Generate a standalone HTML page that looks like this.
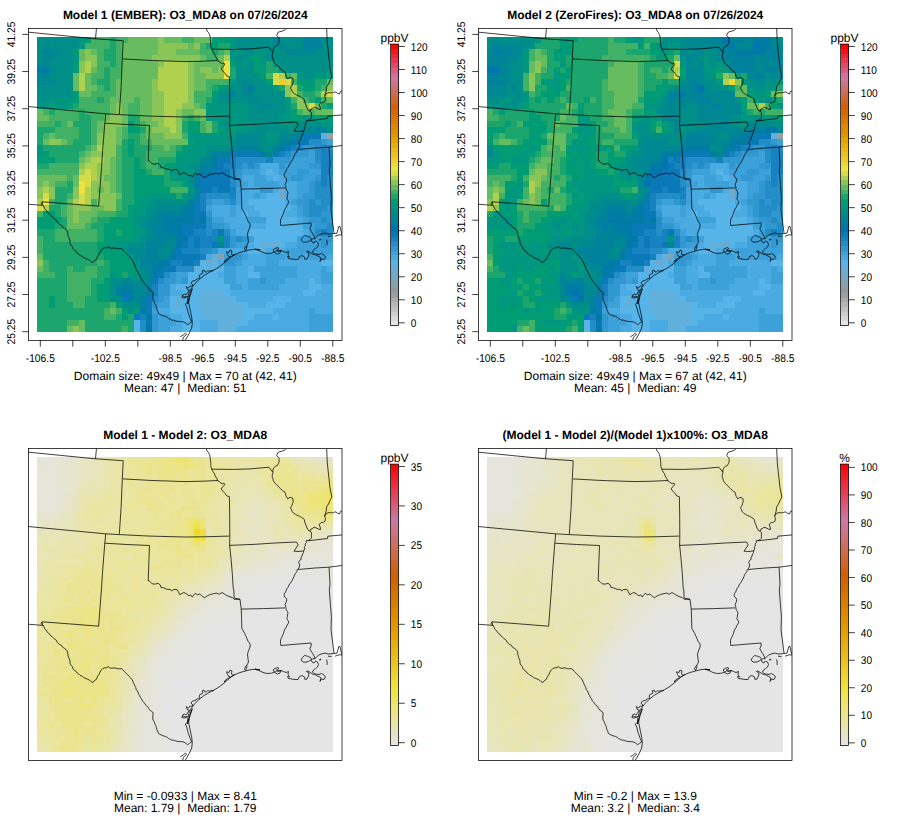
<!DOCTYPE html>
<html><head><meta charset="utf-8"><title>O3_MDA8 model comparison</title>
<style>html,body{margin:0;padding:0;background:#fff}svg{display:block}text{text-rendering:geometricPrecision;font-family:"Liberation Sans",sans-serif;fill:#000}</style>
</head><body>
<svg width="900" height="840" viewBox="0 0 900 840">
<defs><linearGradient id="gb" x1="0" y1="1" x2="0" y2="0"><stop offset="0" stop-color="#E5E5E5"/><stop offset="0.2" stop-color="#F0E442"/><stop offset="0.4" stop-color="#E69F00"/><stop offset="0.6" stop-color="#D55E00"/><stop offset="0.8" stop-color="#CC79A7"/><stop offset="1" stop-color="#FF0000"/></linearGradient><clipPath id="fc"><rect x="28.50" y="28.50" width="313.50" height="312.00"/></clipPath></defs>
<rect width="900" height="840" fill="#fff"/>
<g transform="translate(0 0)"><g transform="translate(37.10 37.10) scale(6.0367 6.0122)" shape-rendering="crispEdges"><path fill="#008F88" d="M0 0h7v1h-7zM33 0h6v1h-6zM40 0h4v1h-4zM47 0h2v1h-2zM0 1h1v1h-1zM2 1h5v1h-5zM33 1h7v1h-7zM41 1h3v1h-3zM47 1h2v1h-2zM0 2h1v1h-1zM4 2h2v1h-2zM32 2h1v1h-1zM34 2h2v1h-2zM38 2h3v1h-3zM46 2h3v1h-3zM0 3h1v1h-1zM3 3h3v1h-3zM33 3h2v1h-2zM38 3h11v1h-11zM2 4h4v1h-4zM33 4h1v1h-1zM35 4h1v1h-1zM40 4h9v1h-9zM3 5h3v1h-3zM33 5h3v1h-3zM41 5h7v1h-7zM2 6h4v1h-4zM33 6h4v1h-4zM44 6h2v1h-2zM3 7h3v1h-3zM33 7h1v1h-1zM35 7h3v1h-3zM0 8h6v1h-6zM32 8h2v1h-2zM36 8h3v1h-3zM0 9h6v1h-6zM30 9h2v1h-2zM33 9h1v1h-1zM36 9h5v1h-5zM0 10h2v1h-2zM30 10h5v1h-5zM37 10h4v1h-4zM35 11h2v1h-2zM39 11h2v1h-2zM35 12h6v1h-6zM35 13h5v1h-5zM31 14h1v1h-1zM36 14h4v1h-4zM43 14h4v1h-4zM35 15h7v1h-7zM48 15h1v1h-1zM37 16h1v1h-1zM32 17h1v1h-1zM37 17h3v1h-3zM28 18h4v1h-4zM37 18h2v1h-2zM28 19h1v1h-1zM25 21h2v1h-2zM25 23h1v1h-1zM25 24h1v1h-1zM25 26h1v1h-1zM19 27h6v1h-6zM18 28h2v1h-2zM18 29h1v1h-1zM17 30h1v1h-1zM17 31h1v1h-1zM18 32h1v1h-1zM17 33h1v1h-1zM15 34h3v1h-3zM21 35h1v1h-1zM16 37h1v1h-1zM17 39h1v1h-1zM12 40h2v1h-2zM16 40h2v1h-2zM12 41h1v1h-1zM12 42h1v1h-1zM12 43h2v1h-2zM14 44h3v1h-3zM15 45h1v1h-1z"/><path fill="#00967F" d="M7 0h1v1h-1zM32 0h1v1h-1zM7 1h1v1h-1zM32 1h1v1h-1zM33 2h1v1h-1zM36 2h2v1h-2zM6 3h1v1h-1zM32 3h1v1h-1zM35 3h1v1h-1zM37 3h1v1h-1zM34 4h1v1h-1zM37 4h1v1h-1zM39 4h1v1h-1zM40 5h1v1h-1zM48 5h1v1h-1zM43 6h1v1h-1zM47 6h1v1h-1zM32 7h1v1h-1zM45 7h1v1h-1zM31 8h1v1h-1zM39 8h1v1h-1zM2 10h4v1h-4zM29 10h1v1h-1zM41 10h1v1h-1zM0 11h2v1h-2zM3 11h2v1h-2zM28 11h7v1h-7zM41 11h1v1h-1zM28 12h7v1h-7zM41 12h1v1h-1zM29 13h6v1h-6zM40 13h2v1h-2zM44 13h2v1h-2zM30 14h1v1h-1zM32 14h4v1h-4zM40 14h3v1h-3zM47 14h2v1h-2zM31 15h1v1h-1zM33 15h2v1h-2zM42 15h1v1h-1zM25 16h8v1h-8zM38 16h2v1h-2zM26 17h6v1h-6zM0 18h1v1h-1zM25 18h3v1h-3zM0 19h1v1h-1zM24 19h4v1h-4zM23 20h4v1h-4zM23 21h2v1h-2zM22 22h4v1h-4zM23 23h2v1h-2zM25 25h1v1h-1zM18 26h5v1h-5zM24 26h1v1h-1zM17 27h2v1h-2zM17 28h1v1h-1zM16 29h2v1h-2zM16 30h1v1h-1zM16 31h1v1h-1zM16 32h2v1h-2zM16 33h1v1h-1zM30 33h1v1h-1zM12 34h3v1h-3zM14 35h1v1h-1zM15 36h1v1h-1zM16 38h1v1h-1zM12 39h1v1h-1zM16 39h1v1h-1z"/><path fill="#009D75" d="M8 0h1v1h-1zM29 0h3v1h-3zM29 1h1v1h-1zM6 2h1v1h-1zM36 3h1v1h-1zM6 4h1v1h-1zM32 4h1v1h-1zM36 4h1v1h-1zM6 5h1v1h-1zM36 5h2v1h-2zM37 6h1v1h-1zM46 6h1v1h-1zM48 6h1v1h-1zM38 7h1v1h-1zM43 7h2v1h-2zM30 8h1v1h-1zM44 8h2v1h-2zM6 9h1v1h-1zM29 9h1v1h-1zM6 10h1v1h-1zM46 10h1v1h-1zM2 11h1v1h-1zM5 11h1v1h-1zM48 11h1v1h-1zM42 12h1v1h-1zM28 13h1v1h-1zM42 13h2v1h-2zM46 13h3v1h-3zM15 14h1v1h-1zM25 14h2v1h-2zM15 15h2v1h-2zM25 15h2v1h-2zM30 15h1v1h-1zM32 15h1v1h-1zM15 17h1v1h-1zM25 17h1v1h-1zM15 18h1v1h-1zM24 18h1v1h-1zM1 19h1v1h-1zM15 19h1v1h-1zM23 19h1v1h-1zM0 20h3v1h-3zM16 20h1v1h-1zM16 21h1v1h-1zM21 21h2v1h-2zM16 22h2v1h-2zM16 23h5v1h-5zM22 23h1v1h-1zM16 24h5v1h-5zM24 24h1v1h-1zM16 25h6v1h-6zM16 26h2v1h-2zM16 27h1v1h-1zM15 28h2v1h-2zM1 29h2v1h-2zM15 29h1v1h-1zM0 30h4v1h-4zM12 30h4v1h-4zM0 31h3v1h-3zM11 31h5v1h-5zM11 32h2v1h-2zM14 32h2v1h-2zM11 33h5v1h-5zM10 34h2v1h-2zM10 35h4v1h-4zM11 36h4v1h-4zM12 37h4v1h-4zM12 38h4v1h-4zM13 39h1v1h-1zM15 39h1v1h-1zM11 40h1v1h-1zM10 41h2v1h-2zM10 42h2v1h-2zM2 43h1v1h-1zM10 43h2v1h-2zM2 44h1v1h-1zM13 44h1v1h-1zM14 45h1v1h-1zM16 45h1v1h-1zM14 46h1v1h-1z"/><path fill="#41B166" d="M9 0h3v1h-3zM13 0h2v1h-2zM24 0h2v1h-2zM8 1h4v1h-4zM13 1h1v1h-1zM27 1h1v1h-1zM10 2h1v1h-1zM13 2h1v1h-1zM27 2h2v1h-2zM30 2h1v1h-1zM10 3h1v1h-1zM13 3h1v1h-1zM28 3h2v1h-2zM10 4h2v1h-2zM13 4h1v1h-1zM10 5h1v1h-1zM12 5h2v1h-2zM9 6h2v1h-2zM12 6h2v1h-2zM38 6h1v1h-1zM41 6h1v1h-1zM9 7h1v1h-1zM12 7h1v1h-1zM28 7h4v1h-4zM42 7h1v1h-1zM10 8h1v1h-1zM12 8h1v1h-1zM28 8h1v1h-1zM47 8h1v1h-1zM9 9h4v1h-4zM26 9h3v1h-3zM43 9h1v1h-1zM46 9h1v1h-1zM7 10h3v1h-3zM11 10h1v1h-1zM16 10h1v1h-1zM26 10h2v1h-2zM42 10h1v1h-1zM44 10h1v1h-1zM47 10h1v1h-1zM7 11h5v1h-5zM15 11h2v1h-2zM27 11h1v1h-1zM1 12h1v1h-1zM3 12h4v1h-4zM8 12h4v1h-4zM15 12h2v1h-2zM43 12h1v1h-1zM45 12h1v1h-1zM2 13h5v1h-5zM9 13h2v1h-2zM24 13h1v1h-1zM26 13h1v1h-1zM0 14h3v1h-3zM4 14h1v1h-1zM9 14h1v1h-1zM17 14h1v1h-1zM27 14h1v1h-1zM3 15h4v1h-4zM9 15h1v1h-1zM14 15h1v1h-1zM27 15h1v1h-1zM1 16h1v1h-1zM3 16h4v1h-4zM9 16h1v1h-1zM14 16h1v1h-1zM17 16h1v1h-1zM24 16h1v1h-1zM5 17h1v1h-1zM9 17h1v1h-1zM17 17h2v1h-2zM8 18h1v1h-1zM13 18h1v1h-1zM19 18h2v1h-2zM22 18h1v1h-1zM7 19h1v1h-1zM13 19h1v1h-1zM18 19h5v1h-5zM13 20h1v1h-1zM18 20h2v1h-2zM2 21h5v1h-5zM13 21h1v1h-1zM18 21h2v1h-2zM0 22h7v1h-7zM13 22h1v1h-1zM19 22h2v1h-2zM5 23h1v1h-1zM13 23h1v1h-1zM3 24h2v1h-2zM13 24h1v1h-1zM13 25h1v1h-1zM22 25h3v1h-3zM5 26h1v1h-1zM2 27h1v1h-1zM9 27h1v1h-1zM13 27h1v1h-1zM4 28h1v1h-1zM13 28h1v1h-1zM0 29h1v1h-1zM4 29h1v1h-1zM10 29h3v1h-3zM9 30h1v1h-1zM8 31h1v1h-1zM3 32h7v1h-7zM0 33h1v1h-1zM3 33h7v1h-7zM0 34h1v1h-1zM0 35h1v1h-1zM1 37h1v1h-1zM10 37h1v1h-1zM1 38h1v1h-1zM5 38h1v1h-1zM8 38h2v1h-2zM0 39h3v1h-3zM5 39h5v1h-5zM5 40h4v1h-4zM5 41h4v1h-4zM5 42h4v1h-4zM5 43h3v1h-3zM6 44h2v1h-2zM12 44h1v1h-1zM11 45h1v1h-1zM13 45h1v1h-1zM11 46h2v1h-2zM5 47h2v1h-2zM14 48h1v1h-1z"/><path fill="#1CA66D" d="M12 0h1v1h-1zM12 1h1v1h-1zM28 1h1v1h-1zM30 1h2v1h-2zM11 2h2v1h-2zM29 2h1v1h-1zM11 3h2v1h-2zM12 4h1v1h-1zM38 4h1v1h-1zM11 5h1v1h-1zM32 5h1v1h-1zM38 5h2v1h-2zM11 6h1v1h-1zM32 6h1v1h-1zM10 7h2v1h-2zM46 7h2v1h-2zM11 8h1v1h-1zM29 8h1v1h-1zM40 8h1v1h-1zM43 8h1v1h-1zM46 8h1v1h-1zM44 9h2v1h-2zM10 10h1v1h-1zM28 10h1v1h-1zM45 10h1v1h-1zM6 11h1v1h-1zM42 11h1v1h-1zM47 11h1v1h-1zM2 12h1v1h-1zM7 12h1v1h-1zM7 13h2v1h-2zM15 13h2v1h-2zM25 13h1v1h-1zM3 14h1v1h-1zM6 14h3v1h-3zM16 14h1v1h-1zM24 14h1v1h-1zM29 14h1v1h-1zM0 15h3v1h-3zM7 15h2v1h-2zM17 15h1v1h-1zM24 15h1v1h-1zM29 15h1v1h-1zM0 16h1v1h-1zM7 16h2v1h-2zM15 16h2v1h-2zM0 17h1v1h-1zM6 17h3v1h-3zM14 17h1v1h-1zM16 17h1v1h-1zM1 18h7v1h-7zM14 18h1v1h-1zM16 18h3v1h-3zM23 18h1v1h-1zM2 19h5v1h-5zM14 19h1v1h-1zM16 19h2v1h-2zM3 20h4v1h-4zM14 20h2v1h-2zM17 20h1v1h-1zM20 20h3v1h-3zM0 21h2v1h-2zM14 21h2v1h-2zM17 21h1v1h-1zM20 21h1v1h-1zM14 22h2v1h-2zM18 22h1v1h-1zM21 22h1v1h-1zM14 23h2v1h-2zM21 23h1v1h-1zM5 24h1v1h-1zM14 24h2v1h-2zM21 24h3v1h-3zM3 25h3v1h-3zM14 25h2v1h-2zM3 26h2v1h-2zM14 26h2v1h-2zM23 26h1v1h-1zM3 27h2v1h-2zM14 27h2v1h-2zM2 28h2v1h-2zM14 28h1v1h-1zM3 29h1v1h-1zM13 29h2v1h-2zM4 30h1v1h-1zM10 30h2v1h-2zM3 31h2v1h-2zM9 31h2v1h-2zM0 32h3v1h-3zM10 32h1v1h-1zM13 32h1v1h-1zM1 33h2v1h-2zM10 33h1v1h-1zM1 34h9v1h-9zM1 35h9v1h-9zM1 36h10v1h-10zM2 37h8v1h-8zM11 37h1v1h-1zM2 38h3v1h-3zM6 38h2v1h-2zM10 38h2v1h-2zM3 39h2v1h-2zM10 39h2v1h-2zM14 39h1v1h-1zM0 40h5v1h-5zM9 40h2v1h-2zM0 41h5v1h-5zM9 41h1v1h-1zM0 42h5v1h-5zM9 42h1v1h-1zM0 43h2v1h-2zM3 43h2v1h-2zM8 43h2v1h-2zM0 44h2v1h-2zM3 44h3v1h-3zM8 44h4v1h-4zM0 45h11v1h-11zM0 46h11v1h-11zM13 46h1v1h-1zM15 46h1v1h-1zM0 47h5v1h-5zM8 47h8v1h-8zM0 48h5v1h-5zM8 48h6v1h-6zM15 48h1v1h-1z"/><path fill="#66BC5E" d="M15 0h5v1h-5zM21 0h3v1h-3zM26 0h3v1h-3zM14 1h6v1h-6zM25 1h1v1h-1zM7 2h1v1h-1zM9 2h1v1h-1zM14 2h6v1h-6zM23 2h4v1h-4zM31 2h1v1h-1zM7 3h1v1h-1zM14 3h5v1h-5zM27 3h1v1h-1zM30 3h1v1h-1zM14 4h6v1h-6zM26 4h5v1h-5zM9 5h1v1h-1zM14 5h6v1h-6zM26 5h1v1h-1zM29 5h1v1h-1zM6 6h1v1h-1zM8 6h1v1h-1zM14 6h6v1h-6zM26 6h2v1h-2zM42 6h1v1h-1zM6 7h1v1h-1zM8 7h1v1h-1zM13 7h6v1h-6zM26 7h2v1h-2zM48 7h1v1h-1zM6 8h1v1h-1zM8 8h2v1h-2zM13 8h6v1h-6zM26 8h2v1h-2zM7 9h2v1h-2zM13 9h6v1h-6zM12 10h4v1h-4zM17 10h2v1h-2zM48 10h1v1h-1zM12 11h1v1h-1zM14 11h1v1h-1zM17 11h2v1h-2zM26 11h1v1h-1zM46 11h1v1h-1zM0 12h1v1h-1zM12 12h1v1h-1zM14 12h1v1h-1zM17 12h2v1h-2zM24 12h2v1h-2zM44 12h1v1h-1zM46 12h3v1h-3zM0 13h2v1h-2zM11 13h1v1h-1zM14 13h1v1h-1zM17 13h2v1h-2zM27 13h1v1h-1zM5 14h1v1h-1zM10 14h1v1h-1zM14 14h1v1h-1zM18 14h2v1h-2zM28 14h1v1h-1zM10 15h1v1h-1zM13 15h1v1h-1zM18 15h1v1h-1zM28 15h1v1h-1zM2 16h1v1h-1zM13 16h1v1h-1zM18 16h3v1h-3zM1 17h1v1h-1zM4 17h1v1h-1zM13 17h1v1h-1zM19 17h6v1h-6zM9 18h1v1h-1zM21 18h1v1h-1zM8 19h1v1h-1zM7 20h1v1h-1zM12 20h1v1h-1zM12 21h1v1h-1zM12 22h1v1h-1zM0 23h5v1h-5zM6 23h1v1h-1zM11 23h2v1h-2zM0 24h1v1h-1zM2 24h1v1h-1zM6 24h1v1h-1zM12 24h1v1h-1zM10 25h1v1h-1zM12 25h1v1h-1zM13 26h1v1h-1zM5 27h1v1h-1zM5 28h1v1h-1zM9 28h2v1h-2zM5 29h1v1h-1zM7 29h3v1h-3zM5 30h1v1h-1zM7 30h2v1h-2zM5 31h3v1h-3zM0 36h1v1h-1zM0 38h1v1h-1zM12 45h1v1h-1zM7 47h1v1h-1zM5 48h1v1h-1zM7 48h1v1h-1z"/><path fill="#8AC657" d="M20 0h1v1h-1zM20 1h5v1h-5zM26 1h1v1h-1zM8 2h1v1h-1zM20 2h3v1h-3zM8 3h2v1h-2zM19 3h8v1h-8zM7 4h1v1h-1zM9 4h1v1h-1zM20 4h1v1h-1zM25 4h1v1h-1zM7 5h1v1h-1zM25 5h1v1h-1zM27 5h2v1h-2zM30 5h1v1h-1zM25 6h1v1h-1zM28 6h3v1h-3zM19 7h1v1h-1zM25 7h1v1h-1zM19 8h1v1h-1zM25 8h1v1h-1zM41 8h1v1h-1zM48 8h1v1h-1zM19 9h2v1h-2zM25 9h1v1h-1zM41 9h1v1h-1zM19 10h2v1h-2zM25 10h1v1h-1zM43 10h1v1h-1zM13 11h1v1h-1zM19 11h2v1h-2zM24 11h2v1h-2zM43 11h2v1h-2zM13 12h1v1h-1zM19 12h2v1h-2zM23 12h1v1h-1zM26 12h2v1h-2zM12 13h2v1h-2zM19 13h2v1h-2zM23 13h1v1h-1zM11 14h3v1h-3zM20 14h1v1h-1zM23 14h1v1h-1zM11 15h2v1h-2zM19 15h3v1h-3zM23 15h1v1h-1zM10 16h3v1h-3zM21 16h3v1h-3zM2 17h2v1h-2zM10 17h3v1h-3zM11 18h2v1h-2zM9 19h4v1h-4zM8 20h1v1h-1zM11 20h1v1h-1zM7 21h1v1h-1zM10 21h2v1h-2zM10 22h2v1h-2zM10 23h1v1h-1zM1 24h1v1h-1zM9 24h3v1h-3zM0 25h1v1h-1zM2 25h1v1h-1zM6 25h1v1h-1zM9 25h1v1h-1zM11 25h1v1h-1zM0 26h1v1h-1zM2 26h1v1h-1zM6 26h1v1h-1zM9 26h4v1h-4zM10 27h3v1h-3zM6 28h3v1h-3zM11 28h2v1h-2zM6 29h1v1h-1zM6 30h1v1h-1zM0 37h1v1h-1zM6 48h1v1h-1z"/><path fill="#00829C" d="M39 0h1v1h-1zM44 0h3v1h-3zM44 1h3v1h-3zM1 2h1v1h-1zM32 9h1v1h-1zM46 15h2v1h-2zM42 16h2v1h-2zM40 17h2v1h-2zM33 18h4v1h-4zM39 18h1v1h-1zM29 19h3v1h-3zM27 21h2v1h-2zM26 23h1v1h-1zM26 26h1v1h-1zM25 27h1v1h-1zM24 28h1v1h-1zM20 29h4v1h-4zM20 30h1v1h-1zM19 31h2v1h-2zM19 32h3v1h-3zM20 33h2v1h-2zM18 34h3v1h-3zM18 35h2v1h-2zM22 35h1v1h-1zM18 36h2v1h-2zM17 37h3v1h-3zM13 41h3v1h-3zM18 41h1v1h-1zM13 42h1v1h-1zM18 42h1v1h-1zM17 43h1v1h-1zM17 44h1v1h-1z"/><path fill="#008892" d="M1 1h1v1h-1zM40 1h1v1h-1zM2 2h2v1h-2zM41 2h5v1h-5zM1 3h2v1h-2zM0 4h2v1h-2zM2 5h1v1h-1zM0 6h2v1h-2zM0 7h3v1h-3zM34 7h1v1h-1zM34 8h1v1h-1zM34 9h2v1h-2zM35 10h2v1h-2zM37 11h2v1h-2zM43 15h3v1h-3zM33 16h4v1h-4zM40 16h2v1h-2zM33 17h4v1h-4zM32 18h1v1h-1zM38 19h1v1h-1zM27 20h2v1h-2zM26 22h1v1h-1zM26 25h1v1h-1zM20 28h4v1h-4zM19 29h1v1h-1zM18 30h2v1h-2zM18 31h1v1h-1zM18 33h2v1h-2zM22 33h1v1h-1zM21 34h2v1h-2zM30 34h1v1h-1zM15 35h3v1h-3zM20 35h1v1h-1zM16 36h2v1h-2zM20 36h2v1h-2zM17 38h2v1h-2zM18 39h1v1h-1zM14 40h2v1h-2zM18 40h1v1h-1zM16 41h2v1h-2zM16 42h2v1h-2zM16 43h1v1h-1z"/><path fill="#AFD14F" d="M31 3h1v1h-1zM8 4h1v1h-1zM21 4h4v1h-4zM8 5h1v1h-1zM20 5h5v1h-5zM7 6h1v1h-1zM20 6h5v1h-5zM40 6h1v1h-1zM7 7h1v1h-1zM20 7h5v1h-5zM7 8h1v1h-1zM20 8h5v1h-5zM42 8h1v1h-1zM21 9h4v1h-4zM42 9h1v1h-1zM47 9h1v1h-1zM21 10h4v1h-4zM21 11h3v1h-3zM21 12h2v1h-2zM21 13h2v1h-2zM21 14h2v1h-2zM22 15h1v1h-1zM10 18h1v1h-1zM9 20h2v1h-2zM8 21h2v1h-2zM7 22h1v1h-1zM9 22h1v1h-1zM9 23h1v1h-1zM1 25h1v1h-1zM8 25h1v1h-1zM8 26h1v1h-1zM0 27h1v1h-1zM6 27h1v1h-1zM8 27h1v1h-1zM1 28h1v1h-1z"/><path fill="#F0E240" d="M31 4h1v1h-1zM31 5h1v1h-1zM31 6h1v1h-1zM7 24h1v1h-1zM7 25h1v1h-1zM1 27h1v1h-1z"/><path fill="#007BA5" d="M0 5h2v1h-2zM35 8h1v1h-1zM42 17h1v1h-1zM40 18h1v1h-1zM37 19h1v1h-1zM29 20h1v1h-1zM29 21h1v1h-1zM27 22h2v1h-2zM26 24h1v1h-1zM25 28h1v1h-1zM24 29h2v1h-2zM21 30h5v1h-5zM27 30h1v1h-1zM21 31h3v1h-3zM22 32h2v1h-2zM23 33h2v1h-2zM23 34h1v1h-1zM22 36h1v1h-1zM20 37h2v1h-2zM19 38h2v1h-2zM19 39h1v1h-1zM14 42h2v1h-2zM15 43h1v1h-1zM17 45h1v1h-1zM18 46h1v1h-1zM18 48h1v1h-1z"/><path fill="#D4DC48" d="M39 6h1v1h-1zM39 7h1v1h-1zM41 7h1v1h-1zM48 9h1v1h-1zM45 11h1v1h-1zM8 22h1v1h-1zM7 23h2v1h-2zM8 24h1v1h-1zM1 26h1v1h-1zM7 26h1v1h-1zM7 27h1v1h-1zM0 28h1v1h-1z"/><path fill="#EDCD2C" d="M40 7h1v1h-1z"/><path fill="#0979B8" d="M44 16h3v1h-3zM43 17h2v1h-2zM41 18h1v1h-1zM32 19h5v1h-5zM39 19h1v1h-1zM30 20h2v1h-2zM30 21h1v1h-1zM29 22h3v1h-3zM27 23h5v1h-5zM27 24h5v1h-5zM27 25h2v1h-2zM30 25h2v1h-2zM26 27h1v1h-1zM26 28h1v1h-1zM26 29h2v1h-2zM26 30h1v1h-1zM24 31h4v1h-4zM24 32h2v1h-2zM30 32h1v1h-1zM26 33h1v1h-1zM24 34h1v1h-1zM26 34h1v1h-1zM29 34h1v1h-1zM23 35h1v1h-1zM23 36h4v1h-4zM24 37h2v1h-2zM21 38h2v1h-2zM20 39h1v1h-1zM19 40h1v1h-1zM14 43h1v1h-1zM18 43h1v1h-1zM18 44h1v1h-1zM18 45h1v1h-1zM16 46h1v1h-1zM18 47h1v1h-1z"/><path fill="#61AFDB" d="M47 16h1v1h-1zM37 34h2v1h-2zM37 35h1v1h-1zM29 36h1v1h-1zM29 37h1v1h-1zM26 38h1v1h-1zM27 42h4v1h-4zM23 43h1v1h-1zM27 43h5v1h-5zM23 44h1v1h-1zM27 44h7v1h-7zM27 45h7v1h-7zM28 46h6v1h-6zM30 47h4v1h-4zM30 48h3v1h-3z"/><path fill="#9F9F9F" d="M48 16h1v1h-1z"/><path fill="#238DC8" d="M45 17h2v1h-2zM43 18h1v1h-1zM46 18h1v1h-1zM48 18h1v1h-1zM41 19h1v1h-1zM46 19h1v1h-1zM33 20h5v1h-5zM46 20h1v1h-1zM33 21h1v1h-1zM35 21h1v1h-1zM32 22h1v1h-1zM32 23h1v1h-1zM48 23h1v1h-1zM32 24h1v1h-1zM46 24h1v1h-1zM48 24h1v1h-1zM46 25h3v1h-3zM28 26h4v1h-4zM46 26h3v1h-3zM32 27h1v1h-1zM45 27h1v1h-1zM47 27h2v1h-2zM45 28h3v1h-3zM45 29h2v1h-2zM28 30h1v1h-1zM47 30h1v1h-1zM28 31h1v1h-1zM48 31h1v1h-1zM28 32h1v1h-1zM31 32h1v1h-1zM46 32h1v1h-1zM48 32h1v1h-1zM33 33h1v1h-1zM27 35h2v1h-2zM23 38h3v1h-3zM21 39h1v1h-1zM20 40h1v1h-1zM19 43h1v1h-1zM17 47h1v1h-1zM17 48h1v1h-1z"/><path fill="#3097D1" d="M47 17h1v1h-1zM44 18h2v1h-2zM42 19h3v1h-3zM39 20h3v1h-3zM34 21h1v1h-1zM36 21h1v1h-1zM40 21h1v1h-1zM45 21h2v1h-2zM33 22h1v1h-1zM43 22h2v1h-2zM33 23h1v1h-1zM42 23h2v1h-2zM46 23h1v1h-1zM33 24h1v1h-1zM45 24h1v1h-1zM37 25h2v1h-2zM45 25h1v1h-1zM44 26h2v1h-2zM28 27h1v1h-1zM31 27h1v1h-1zM43 27h2v1h-2zM46 27h1v1h-1zM44 28h1v1h-1zM48 28h1v1h-1zM28 29h1v1h-1zM44 29h1v1h-1zM47 29h2v1h-2zM45 30h2v1h-2zM48 30h1v1h-1zM29 31h2v1h-2zM46 31h2v1h-2zM32 33h1v1h-1zM34 33h1v1h-1zM47 33h2v1h-2zM32 34h1v1h-1zM47 34h1v1h-1zM29 35h1v1h-1zM32 36h2v1h-2zM31 37h2v1h-2zM22 39h1v1h-1zM21 40h2v1h-2zM24 40h1v1h-1zM37 40h1v1h-1zM20 41h2v1h-2zM20 42h2v1h-2zM20 43h1v1h-1zM19 44h1v1h-1zM19 46h1v1h-1zM19 47h1v1h-1zM19 48h1v1h-1z"/><path fill="#3DA1D9" d="M48 17h1v1h-1zM45 19h1v1h-1zM42 20h4v1h-4zM41 21h4v1h-4zM34 22h3v1h-3zM40 22h3v1h-3zM45 22h2v1h-2zM36 23h2v1h-2zM41 23h1v1h-1zM44 23h2v1h-2zM34 24h1v1h-1zM36 24h4v1h-4zM43 24h2v1h-2zM33 25h1v1h-1zM43 25h2v1h-2zM33 26h1v1h-1zM36 26h1v1h-1zM43 26h1v1h-1zM29 27h2v1h-2zM33 27h1v1h-1zM42 27h1v1h-1zM28 28h1v1h-1zM32 28h1v1h-1zM43 28h1v1h-1zM32 29h1v1h-1zM43 29h1v1h-1zM29 30h2v1h-2zM35 30h3v1h-3zM44 30h1v1h-1zM31 31h1v1h-1zM44 31h2v1h-2zM32 32h1v1h-1zM45 32h1v1h-1zM35 33h1v1h-1zM43 33h4v1h-4zM33 34h2v1h-2zM43 34h4v1h-4zM48 34h1v1h-1zM41 35h8v1h-8zM31 36h1v1h-1zM34 36h1v1h-1zM38 36h3v1h-3zM42 36h2v1h-2zM45 36h3v1h-3zM33 37h1v1h-1zM38 37h2v1h-2zM31 38h2v1h-2zM36 38h7v1h-7zM47 38h1v1h-1zM23 39h2v1h-2zM31 39h2v1h-2zM37 39h6v1h-6zM47 39h2v1h-2zM23 40h1v1h-1zM31 40h2v1h-2zM35 40h2v1h-2zM38 40h3v1h-3zM47 40h2v1h-2zM32 41h2v1h-2zM35 41h5v1h-5zM21 43h1v1h-1zM20 44h2v1h-2zM19 45h1v1h-1zM45 45h1v1h-1zM20 46h2v1h-2zM45 46h4v1h-4zM20 47h3v1h-3zM45 47h4v1h-4zM20 48h2v1h-2zM45 48h4v1h-4z"/><path fill="#1683C0" d="M42 18h1v1h-1zM47 18h1v1h-1zM40 19h1v1h-1zM47 19h2v1h-2zM32 20h1v1h-1zM38 20h1v1h-1zM47 20h2v1h-2zM31 21h2v1h-2zM47 21h2v1h-2zM47 22h2v1h-2zM47 23h1v1h-1zM47 24h1v1h-1zM29 25h1v1h-1zM32 25h1v1h-1zM27 26h1v1h-1zM32 26h1v1h-1zM27 27h1v1h-1zM27 28h1v1h-1zM26 32h2v1h-2zM29 32h1v1h-1zM47 32h1v1h-1zM25 33h1v1h-1zM27 33h3v1h-3zM31 33h1v1h-1zM25 34h1v1h-1zM27 34h2v1h-2zM31 34h1v1h-1zM24 35h3v1h-3zM27 36h1v1h-1zM22 37h2v1h-2zM26 37h1v1h-1zM19 41h1v1h-1zM19 42h1v1h-1zM17 46h1v1h-1z"/><path fill="#4AABE2" d="M37 21h3v1h-3zM37 22h1v1h-1zM39 22h1v1h-1zM34 23h2v1h-2zM38 23h1v1h-1zM40 23h1v1h-1zM35 24h1v1h-1zM40 24h3v1h-3zM34 25h3v1h-3zM39 25h1v1h-1zM41 25h2v1h-2zM34 26h2v1h-2zM37 26h1v1h-1zM41 26h2v1h-2zM34 27h1v1h-1zM41 27h1v1h-1zM29 28h3v1h-3zM33 28h3v1h-3zM42 28h1v1h-1zM29 29h3v1h-3zM33 29h1v1h-1zM35 29h2v1h-2zM41 29h2v1h-2zM31 30h4v1h-4zM43 30h1v1h-1zM32 31h6v1h-6zM33 32h2v1h-2zM44 32h1v1h-1zM35 34h1v1h-1zM41 34h2v1h-2zM30 35h5v1h-5zM38 35h3v1h-3zM28 36h1v1h-1zM35 36h3v1h-3zM41 36h1v1h-1zM44 36h1v1h-1zM48 36h1v1h-1zM30 37h1v1h-1zM34 37h4v1h-4zM40 37h7v1h-7zM33 38h2v1h-2zM43 38h4v1h-4zM48 38h1v1h-1zM30 39h1v1h-1zM33 39h2v1h-2zM43 39h4v1h-4zM33 40h2v1h-2zM41 40h4v1h-4zM46 40h1v1h-1zM22 41h1v1h-1zM34 41h1v1h-1zM40 41h5v1h-5zM47 41h2v1h-2zM22 42h2v1h-2zM32 42h12v1h-12zM46 42h3v1h-3zM33 43h6v1h-6zM42 43h7v1h-7zM35 44h3v1h-3zM41 44h8v1h-8zM20 45h2v1h-2zM39 45h6v1h-6zM46 45h3v1h-3zM22 46h2v1h-2zM36 46h3v1h-3zM40 46h5v1h-5zM23 47h1v1h-1zM27 47h3v1h-3zM35 47h10v1h-10zM22 48h2v1h-2zM27 48h3v1h-3zM33 48h12v1h-12z"/><path fill="#57B4E8" d="M38 22h1v1h-1zM39 23h1v1h-1zM38 26h2v1h-2zM35 27h6v1h-6zM36 28h6v1h-6zM34 29h1v1h-1zM37 29h4v1h-4zM38 30h5v1h-5zM38 31h6v1h-6zM35 32h9v1h-9zM36 33h7v1h-7zM36 34h1v1h-1zM40 34h1v1h-1zM35 35h2v1h-2zM27 37h1v1h-1zM47 37h2v1h-2zM27 38h4v1h-4zM35 38h1v1h-1zM25 39h5v1h-5zM35 39h2v1h-2zM25 40h6v1h-6zM45 40h1v1h-1zM23 41h9v1h-9zM45 41h2v1h-2zM24 42h3v1h-3zM31 42h1v1h-1zM44 42h2v1h-2zM22 43h1v1h-1zM24 43h3v1h-3zM32 43h1v1h-1zM39 43h3v1h-3zM22 44h1v1h-1zM24 44h3v1h-3zM34 44h1v1h-1zM38 44h3v1h-3zM22 45h5v1h-5zM34 45h5v1h-5zM24 46h4v1h-4zM34 46h2v1h-2zM39 46h1v1h-1zM16 47h1v1h-1zM24 47h3v1h-3zM34 47h1v1h-1zM16 48h1v1h-1zM24 48h3v1h-3z"/><path fill="#6CABCF" d="M40 25h1v1h-1zM40 26h1v1h-1zM39 34h1v1h-1zM28 37h1v1h-1z"/><path fill="#80A3B7" d="M30 36h1v1h-1z"/></g><path d="M26.8 32.0L60.7 35.4L95.5 38.8L123.2 40.7M96.6 26.8L95.5 38.8M123.2 40.7L122.3 58.9L121.1 87.5L119.3 114.3M122.9 58.9L150.0 60.4L185.0 61.6L202.9 61.2L218.0 60.5L217.2 60.6M26.8 106.4L60.7 109.6L105.4 113.8L119.3 114.6L150.0 116.1L185.0 117.0L202.9 116.8L229.1 116.1M105.7 113.8L104.8 123.2L102.7 150.0L101.4 170.0L100.0 187.9L98.6 206.2M104.8 123.2L126.8 124.5L149.5 125.5L148.9 141.1L148.2 161.1M148.3 160.5L150.0 161.6L152.3 163.9L155.2 164.1L158.0 163.3L160.3 165.0L160.9 167.3L163.8 167.9L167.2 169.4L170.0 169.4L171.8 170.8L173.5 169.6L176.9 169.4L178.1 171.3L179.8 174.8L181.5 173.6L183.8 172.5L186.1 173.6L188.9 175.9L190.6 174.8L192.3 177.1L193.5 175.3L195.2 173.3L197.5 174.8L199.8 174.0L201.5 175.6L204.4 177.8L207.2 175.9L210.7 174.4L214.1 173.6L216.4 173.1L219.2 174.2L222.1 172.5L225.5 174.8L229.0 176.5L232.4 177.6L234.1 179.3L237.0 179.3L240.0 179.3M206.1 28.3L207.2 31.1L208.5 32.6L209.4 34.4L210.2 37.2L210.3 39.5L210.6 41.7L210.8 43.6L210.8 45.6L211.1 47.2L211.7 48.9L212.4 50.6L213.3 52.2L214.5 53.7L215.0 55.6L216.7 58.3L217.8 60.8L220.0 62.2L222.2 63.9L223.9 63.0L224.7 64.8L222.8 66.7L221.1 68.9L222.8 71.1L225.0 73.3L226.7 75.9L229.4 76.7M229.4 76.7L229.7 97.2L229.8 118.0L229.6 125.0L231.1 139.3L232.3 153.6L233.2 167.9L233.8 170.0L234.1 178.0L240.0 179.3M211.7 49.2L233.3 49.4L250.0 48.9L268.9 47.2L271.1 50.0L272.8 52.2M286.1 28.6L284.4 30.2L282.2 31.1L279.9 31.6L277.8 32.6L276.7 35.6L278.9 37.8L279.2 39.7L279.1 41.7L278.4 43.7L277.2 45.6L275.3 46.3L273.9 47.8L272.8 50.0L273.0 52.2L272.6 53.9L272.2 55.6L272.3 57.3L273.0 58.9L273.3 60.6L274.3 62.3L275.6 63.9L277.4 65.3L278.9 67.2L280.5 68.7L282.2 70.0L283.4 71.4L285.0 72.2L285.5 74.2L286.1 76.1L287.8 78.9L290.0 77.2L292.8 78.3L293.3 81.7L292.6 83.3L292.2 85.0L291.2 86.6L290.6 88.3L291.7 89.8L292.2 91.7L293.7 93.2L295.6 94.4L297.5 95.5L299.6 96.3L301.5 97.5L303.3 98.4L304.5 100.0L304.7 102.1L305.5 104.0L306.3 106.0L307.0 108.0L308.5 110.5L310.0 111.2L311.5 112.5L311.4 114.3L311.3 116.2L311.7 118.0L310.0 119.5L308.0 120.5L306.0 120.8L306.5 122.5L305.0 124.0L305.5 125.8L304.2 127.0L304.7 129.0L303.8 130.5L303.5 132.5L302.5 134.0L302.0 136.0L301.0 137.5L301.2 139.2L300.0 140.0L298.5 142.5L299.7 144.0L299.5 146.0L298.8 148.0L297.0 150.0L296.8 151.8L295.8 153.0L294.5 154.8L294.0 156.5L292.8 159.0L292.0 160.5L291.2 162.0L290.1 163.5L289.0 165.0L288.4 166.8L287.1 168.3L286.4 170.0L285.7 171.8L284.5 173.4L284.1 175.4L284.7 177.0L286.2 178.2L286.8 179.8L286.2 182.2L285.0 184.3L285.7 186.0L285.9 187.9L286.2 189.8L287.4 191.4L288.0 193.2L287.5 195.0L287.4 196.8L286.8 198.6L287.9 200.4L288.9 202.1L287.9 204.0L286.8 205.7L286.0 207.6L284.9 209.2L284.1 211.1L283.5 213.5L282.7 215.2L282.0 217.0L280.9 218.9L280.5 221.0L280.5 223.3L280.8 225.5M310.0 111.2L311.0 109.0L312.7 108.4L314.0 107.2L317.0 108.2L318.6 109.2L320.5 109.5L320.0 106.5L319.0 104.5L321.5 102.5L323.4 102.3L325.0 101.2L325.5 98.5L324.5 96.0L326.5 93.5L329.0 92.5L330.7 92.8L332.5 92.8L334.2 92.1L336.0 92.0L337.6 93.3L339.5 94.0L340.5 91.5L342.5 90.8M326.6 26.8L327.3 42.9L328.8 57.1L330.0 67.9L331.8 76.8L330.5 79.5L330.2 80.0L328.5 84.0L326.5 87.0L326.2 91.0L325.0 95.0L324.5 96.0M229.6 125.4L255.0 124.3L275.0 123.0L296.5 122.0L298.2 125.0L296.0 128.0L294.0 131.2L299.0 131.5L303.8 130.8M308.0 120.8L327.5 118.5L327.8 116.2L342.5 114.9M298.0 149.5L315.0 148.0L329.0 147.2L342.5 145.4M329.0 147.2L329.5 155.0L330.0 164.0L329.3 170.0L330.4 184.3L331.4 196.8L331.0 210.0L332.5 221.0L334.0 233.2M98.6 206.2L69.6 203.9L42.0 201.8L41.2 203.6L42.9 205.4L35.7 204.8L26.8 204.1M42.0 202.1L42.5 204.5L43.8 206.6L44.6 208.6L46.1 210.2L47.3 212.0L48.4 213.3L50.0 214.3L50.9 215.9L52.3 217.0L53.6 218.2L55.0 219.3L56.4 220.4L57.1 222.2L58.3 223.5L59.8 224.5L61.5 225.4L62.5 227.2L64.2 228.2L65.7 229.2L67.0 230.7L67.7 232.7L67.9 234.8L68.4 236.8L69.3 238.8L70.0 240.9L70.0 243.2L70.9 245.1L72.3 246.6L72.9 248.6L74.2 250.1L75.8 251.1L76.9 252.8L78.6 253.9L80.1 255.4L82.1 256.2L83.7 257.7L85.7 258.4L87.6 259.3L89.5 260.1L91.0 261.6L92.9 262.5L94.4 260.6L96.4 259.3L97.1 257.4L98.1 255.7L99.2 254.0L100.0 252.1L101.1 250.2L102.7 248.6L104.7 247.8L106.8 247.9L108.0 246.4L109.8 247.9L111.9 248.3L114.0 247.9L116.1 248.2L117.8 248.7L119.6 248.8L121.4 248.6L123.0 250.0L124.4 251.5L125.9 253.0L127.4 254.5L128.8 256.1L130.4 257.5L132.3 260.0L133.1 261.9L133.9 263.7L134.7 265.5L135.7 267.3L136.1 269.2L137.2 270.7L138.1 272.3L138.6 274.1L139.8 275.6L140.3 277.3L141.6 278.9L142.3 280.9L143.8 282.3L145.0 284.0L146.1 285.5L147.7 286.7L148.6 288.4L149.7 290.0L151.2 291.1L152.7 292.0L153.2 294.0L152.8 296.0L152.8 298.0L153.0 300.0L154.2 301.6L154.7 303.6L155.7 305.3L156.4 307.3L156.8 309.4L157.8 311.3L158.3 313.3L160.0 314.4L161.8 315.3L163.7 316.0L165.5 316.4L167.2 317.3L168.6 318.6L170.3 319.3L171.9 320.2L173.7 320.1L175.3 320.8L177.0 321.3L179.2 321.6L181.5 321.6L183.7 322.0L185.7 323.2L187.7 324.7L189.6 323.2L191.7 322.0M240.0 179.3L241.2 188.8L241.6 198.6L241.8 208.4L243.9 212.0M243.9 212.0L244.8 213.5L245.3 215.2L246.2 216.7L246.9 218.3L247.5 220.0L248.3 221.6L249.5 223.0L250.2 224.9L250.0 227.0L249.2 229.0L248.5 231.0L247.8 232.9L247.5 235.0L247.9 237.0L248.0 239.0L248.5 242.0L247.0 245.0L245.5 246.5L244.5 249.0L245.5 250.5L246.5 248.5L247.0 245.5M241.2 189.1L263.6 188.6L285.0 187.9M280.8 225.5L295.0 224.3L311.0 223.0L311.2 226.0L309.8 228.5L311.0 231.0L313.0 234.0L314.5 237.0L315.0 239.0M185.0 340.7L186.6 338.0L189.3 333.3L191.7 328.0L192.3 322.7L191.7 317.3L190.3 310.7L188.7 302.7L189.3 296.0L192.3 288.7L187.5 304.0L187.8 298.0L189.0 293.0L191.5 288.0L195.0 283.5L199.0 279.5L204.0 275.5L209.0 272.5L214.0 270.0L219.0 267.0L223.0 264.0L227.0 260.5L231.0 257.0L235.0 254.5L240.0 252.5L245.5 251.0L250.0 249.8L255.0 249.2L260.0 249.8L255.0 249.2L259.0 250.5L263.0 252.5L267.0 253.5L271.5 253.2L274.5 252.0L273.0 250.0L275.0 248.5L277.5 247.5L279.0 248.5L276.5 250.0L278.5 251.5L281.0 250.5L280.0 253.0L277.5 254.0L274.5 252.5L276.5 251.0L281.0 250.5L283.5 251.5L286.0 252.5L288.5 251.5L288.0 254.5L289.5 257.0L287.5 256.5L288.5 258.5L292.0 259.0L295.0 259.5L298.0 259.5L299.5 256.5L302.0 255.5L304.5 257.0L305.0 259.5L307.0 259.0L308.5 256.0L309.0 253.0L306.5 251.5L308.0 251.0L311.0 253.0L313.5 254.5L316.0 254.0L319.0 254.5L321.5 253.5L324.0 255.0L325.5 257.0L324.0 259.5L321.5 259.0L320.0 261.5L321.0 258.0L319.0 256.5L316.5 255.5L314.5 254.0L312.5 252.0L313.5 250.0L315.5 248.5L317.5 247.0L318.5 244.5L317.5 242.0L315.5 241.0L314.0 243.0L312.0 242.0L311.0 240.0L312.5 239.0L315.0 238.5L316.5 237.0L318.5 235.0L322.0 233.8L325.0 233.0L328.0 234.0L331.0 233.8L334.0 233.5L337.0 233.2L338.8 226.5L340.0 226.5L341.5 233.5L342.5 235.0L339.0 234.8L335.0 236.2M301.0 240.0L302.5 237.5L304.5 235.5L307.5 236.2L310.5 237.5L311.5 239.0L309.5 241.0L306.0 242.2L303.0 242.0L301.0 240.0M326.5 239.5L327.2 242.0L327.0 245.0M328.0 236.2L331.5 236.5M319.0 240.0L321.0 239.0L320.0 240.5M235.0 254.5L233.0 255.5L231.5 254.0L232.0 251.0L230.0 250.0L229.0 252.5L226.5 251.8L227.5 254.5L229.0 257.0L230.0 256.0M234.0 254.8L230.0 257.5L226.0 259.5L224.0 262.0L226.5 260.0M214.0 270.0L212.8 270.9L211.2 270.3L210.0 271.2L207.5 270.8L206.4 271.8L205.0 272.0L204.0 270.0L202.0 271.0L203.0 273.0L202.0 274.0L200.5 274.0L199.0 276.0L200.0 278.0L198.5 278.6L197.0 279.0L195.0 280.5L192.5 281.0L191.0 283.0L191.8 284.2L193.0 285.0L191.7 286.2L190.0 286.0L188.5 288.0L187.1 287.5L186.0 286.5L186.8 287.6L187.0 289.0L188.0 290.1L189.5 290.0L188.0 292.0L187.1 293.6L186.0 295.0L184.6 294.1L183.0 294.5L182.0 296.5L183.6 296.2L185.0 297.0L187.5 296.5L185.9 297.5L184.0 298.0L181.5 297.5M191.7 322.0L190.3 318.7L188.3 313.3L186.6 306.7L185.3 304.0L187.4 302.4L188.7 298.7M180.3 336.7L183.0 335.3L185.3 333.1L186.6 334.1L184.7 336.3L183.4 337.3L182.6 340.7" fill="none" stroke="#000" stroke-width="0.75" stroke-linejoin="round" clip-path="url(#fc)"/><rect x="28.50" y="28.50" width="313.50" height="312.00" fill="none" stroke="#000" stroke-width="0.75"/><path d="M40.30 340.50v6.2" stroke="#000" stroke-width="0.75"/><text transform="translate(40.30 361.9) scale(0.92 1)" font-size="11.2" text-anchor="middle">-106.5</text><path d="M72.80 340.50v6.2" stroke="#000" stroke-width="0.75"/><path d="M105.30 340.50v6.2" stroke="#000" stroke-width="0.75"/><text transform="translate(105.30 361.9) scale(0.92 1)" font-size="11.2" text-anchor="middle">-102.5</text><path d="M137.80 340.50v6.2" stroke="#000" stroke-width="0.75"/><path d="M170.30 340.50v6.2" stroke="#000" stroke-width="0.75"/><text transform="translate(170.30 361.9) scale(0.92 1)" font-size="11.2" text-anchor="middle">-98.5</text><path d="M202.80 340.50v6.2" stroke="#000" stroke-width="0.75"/><text transform="translate(202.80 361.9) scale(0.92 1)" font-size="11.2" text-anchor="middle">-96.5</text><path d="M235.30 340.50v6.2" stroke="#000" stroke-width="0.75"/><text transform="translate(235.30 361.9) scale(0.92 1)" font-size="11.2" text-anchor="middle">-94.5</text><path d="M267.80 340.50v6.2" stroke="#000" stroke-width="0.75"/><text transform="translate(267.80 361.9) scale(0.92 1)" font-size="11.2" text-anchor="middle">-92.5</text><path d="M300.30 340.50v6.2" stroke="#000" stroke-width="0.75"/><text transform="translate(300.30 361.9) scale(0.92 1)" font-size="11.2" text-anchor="middle">-90.5</text><path d="M332.80 340.50v6.2" stroke="#000" stroke-width="0.75"/><text transform="translate(332.80 361.9) scale(0.92 1)" font-size="11.2" text-anchor="middle">-88.5</text><path d="M28.50 34.40h-6.2" stroke="#000" stroke-width="0.75"/><text transform="translate(14.7 34.40) rotate(-90) scale(0.92 1)" font-size="11.2" text-anchor="middle">41.25</text><path d="M28.50 71.56h-6.2" stroke="#000" stroke-width="0.75"/><text transform="translate(14.7 71.56) rotate(-90) scale(0.92 1)" font-size="11.2" text-anchor="middle">39.25</text><path d="M28.50 108.72h-6.2" stroke="#000" stroke-width="0.75"/><text transform="translate(14.7 108.72) rotate(-90) scale(0.92 1)" font-size="11.2" text-anchor="middle">37.25</text><path d="M28.50 145.88h-6.2" stroke="#000" stroke-width="0.75"/><text transform="translate(14.7 145.88) rotate(-90) scale(0.92 1)" font-size="11.2" text-anchor="middle">35.25</text><path d="M28.50 183.04h-6.2" stroke="#000" stroke-width="0.75"/><text transform="translate(14.7 183.04) rotate(-90) scale(0.92 1)" font-size="11.2" text-anchor="middle">33.25</text><path d="M28.50 220.20h-6.2" stroke="#000" stroke-width="0.75"/><text transform="translate(14.7 220.20) rotate(-90) scale(0.92 1)" font-size="11.2" text-anchor="middle">31.25</text><path d="M28.50 257.36h-6.2" stroke="#000" stroke-width="0.75"/><text transform="translate(14.7 257.36) rotate(-90) scale(0.92 1)" font-size="11.2" text-anchor="middle">29.25</text><path d="M28.50 294.52h-6.2" stroke="#000" stroke-width="0.75"/><text transform="translate(14.7 294.52) rotate(-90) scale(0.92 1)" font-size="11.2" text-anchor="middle">27.25</text><path d="M28.50 331.68h-6.2" stroke="#000" stroke-width="0.75"/><text transform="translate(14.7 331.68) rotate(-90) scale(0.92 1)" font-size="11.2" text-anchor="middle">25.25</text><text x="185.25" y="18.7" font-size="12" font-weight="bold" text-anchor="middle">Model 1 (EMBER): O3_MDA8 on 07/26/2024</text><text x="185.25" y="379.50" font-size="12" text-anchor="middle">Domain size: 49x49 | Max = 70 at (42, 41)</text><text x="185.25" y="391.50" font-size="12" text-anchor="middle" style="white-space:pre">Mean: 47 |  Median: 51</text><g shape-rendering="crispEdges"><rect x="390.60" y="320.81" width="8.00" height="4.99" fill="#E5E5E5"/><rect x="390.60" y="316.12" width="8.00" height="4.99" fill="#D9D9D9"/><rect x="390.60" y="311.43" width="8.00" height="4.99" fill="#CECECE"/><rect x="390.60" y="306.74" width="8.00" height="4.99" fill="#C2C2C2"/><rect x="390.60" y="302.05" width="8.00" height="4.99" fill="#B7B7B7"/><rect x="390.60" y="297.36" width="8.00" height="4.99" fill="#ABABAB"/><rect x="390.60" y="292.67" width="8.00" height="4.99" fill="#9F9F9F"/><rect x="390.60" y="287.98" width="8.00" height="4.99" fill="#949B9E"/><rect x="390.60" y="283.29" width="8.00" height="4.99" fill="#8A9FAB"/><rect x="390.60" y="278.60" width="8.00" height="4.99" fill="#80A3B7"/><rect x="390.60" y="273.91" width="8.00" height="4.99" fill="#76A7C3"/><rect x="390.60" y="269.22" width="8.00" height="4.99" fill="#6CABCF"/><rect x="390.60" y="264.53" width="8.00" height="4.99" fill="#61AFDB"/><rect x="390.60" y="259.84" width="8.00" height="4.99" fill="#57B4E8"/><rect x="390.60" y="255.15" width="8.00" height="4.99" fill="#4AABE2"/><rect x="390.60" y="250.46" width="8.00" height="4.99" fill="#3DA1D9"/><rect x="390.60" y="245.77" width="8.00" height="4.99" fill="#3097D1"/><rect x="390.60" y="241.08" width="8.00" height="4.99" fill="#238DC8"/><rect x="390.60" y="236.39" width="8.00" height="4.99" fill="#1683C0"/><rect x="390.60" y="231.70" width="8.00" height="4.99" fill="#0979B8"/><rect x="390.60" y="227.01" width="8.00" height="4.99" fill="#0074AF"/><rect x="390.60" y="222.32" width="8.00" height="4.99" fill="#007BA5"/><rect x="390.60" y="217.63" width="8.00" height="4.99" fill="#00829C"/><rect x="390.60" y="212.94" width="8.00" height="4.99" fill="#008892"/><rect x="390.60" y="208.25" width="8.00" height="4.99" fill="#008F88"/><rect x="390.60" y="203.56" width="8.00" height="4.99" fill="#00967F"/><rect x="390.60" y="198.87" width="8.00" height="4.99" fill="#009D75"/><rect x="390.60" y="194.18" width="8.00" height="4.99" fill="#1CA66D"/><rect x="390.60" y="189.49" width="8.00" height="4.99" fill="#41B166"/><rect x="390.60" y="184.80" width="8.00" height="4.99" fill="#66BC5E"/><rect x="390.60" y="180.11" width="8.00" height="4.99" fill="#8AC657"/><rect x="390.60" y="175.42" width="8.00" height="4.99" fill="#AFD14F"/><rect x="390.60" y="170.73" width="8.00" height="4.99" fill="#D4DC48"/><rect x="390.60" y="166.04" width="8.00" height="4.99" fill="#F0E240"/><rect x="390.60" y="161.35" width="8.00" height="4.99" fill="#EED736"/><rect x="390.60" y="156.66" width="8.00" height="4.99" fill="#EDCD2C"/><rect x="390.60" y="151.97" width="8.00" height="4.99" fill="#EBC222"/><rect x="390.60" y="147.28" width="8.00" height="4.99" fill="#EAB817"/><rect x="390.60" y="142.59" width="8.00" height="4.99" fill="#E8AD0D"/><rect x="390.60" y="137.90" width="8.00" height="4.99" fill="#E7A303"/><rect x="390.60" y="133.21" width="8.00" height="4.99" fill="#E49800"/><rect x="390.60" y="128.52" width="8.00" height="4.99" fill="#E28E00"/><rect x="390.60" y="123.83" width="8.00" height="4.99" fill="#DF8500"/><rect x="390.60" y="119.14" width="8.00" height="4.99" fill="#DC7B00"/><rect x="390.60" y="114.45" width="8.00" height="4.99" fill="#DA7100"/><rect x="390.60" y="109.76" width="8.00" height="4.99" fill="#D76700"/><rect x="390.60" y="105.07" width="8.00" height="4.99" fill="#D55E03"/><rect x="390.60" y="100.38" width="8.00" height="4.99" fill="#D3631C"/><rect x="390.60" y="95.69" width="8.00" height="4.99" fill="#D26736"/><rect x="390.60" y="91.00" width="8.00" height="4.99" fill="#D16B4F"/><rect x="390.60" y="86.31" width="8.00" height="4.99" fill="#CF6F69"/><rect x="390.60" y="81.62" width="8.00" height="4.99" fill="#CE7382"/><rect x="390.60" y="76.93" width="8.00" height="4.99" fill="#CD779C"/><rect x="390.60" y="72.24" width="8.00" height="4.99" fill="#D06F99"/><rect x="390.60" y="67.55" width="8.00" height="4.99" fill="#D85C7F"/><rect x="390.60" y="62.86" width="8.00" height="4.99" fill="#E04A66"/><rect x="390.60" y="58.17" width="8.00" height="4.99" fill="#E8374C"/><rect x="390.60" y="53.48" width="8.00" height="4.99" fill="#EF2533"/><rect x="390.60" y="48.79" width="8.00" height="4.99" fill="#F71219"/><rect x="390.60" y="44.10" width="8.00" height="4.99" fill="#FF0000"/></g><rect x="390.60" y="44.10" width="8.00" height="281.40" fill="none" stroke="#000" stroke-width="0.75"/><path d="M398.60 46.46h6.2" stroke="#000" stroke-width="0.75"/><text transform="translate(410.8 50.50) scale(0.9 1)" font-size="11.2">120</text><path d="M398.60 69.49h6.2" stroke="#000" stroke-width="0.75"/><text transform="translate(410.8 73.53) scale(0.9 1)" font-size="11.2">110</text><path d="M398.60 92.52h6.2" stroke="#000" stroke-width="0.75"/><text transform="translate(410.8 96.56) scale(0.9 1)" font-size="11.2">100</text><path d="M398.60 115.55h6.2" stroke="#000" stroke-width="0.75"/><text transform="translate(410.8 119.59) scale(0.9 1)" font-size="11.2">90</text><path d="M398.60 138.58h6.2" stroke="#000" stroke-width="0.75"/><text transform="translate(410.8 142.62) scale(0.9 1)" font-size="11.2">80</text><path d="M398.60 161.61h6.2" stroke="#000" stroke-width="0.75"/><text transform="translate(410.8 165.65) scale(0.9 1)" font-size="11.2">70</text><path d="M398.60 184.64h6.2" stroke="#000" stroke-width="0.75"/><text transform="translate(410.8 188.68) scale(0.9 1)" font-size="11.2">60</text><path d="M398.60 207.67h6.2" stroke="#000" stroke-width="0.75"/><text transform="translate(410.8 211.71) scale(0.9 1)" font-size="11.2">50</text><path d="M398.60 230.70h6.2" stroke="#000" stroke-width="0.75"/><text transform="translate(410.8 234.74) scale(0.9 1)" font-size="11.2">40</text><path d="M398.60 253.73h6.2" stroke="#000" stroke-width="0.75"/><text transform="translate(410.8 257.77) scale(0.9 1)" font-size="11.2">30</text><path d="M398.60 276.76h6.2" stroke="#000" stroke-width="0.75"/><text transform="translate(410.8 280.80) scale(0.9 1)" font-size="11.2">20</text><path d="M398.60 299.79h6.2" stroke="#000" stroke-width="0.75"/><text transform="translate(410.8 303.83) scale(0.9 1)" font-size="11.2">10</text><path d="M398.60 322.82h6.2" stroke="#000" stroke-width="0.75"/><text transform="translate(410.8 326.86) scale(0.9 1)" font-size="11.2">0</text><text x="380.50" y="41.6" font-size="12">ppbV</text></g><g transform="translate(450 0)"><g transform="translate(37.10 37.10) scale(6.0367 6.0122)" shape-rendering="crispEdges"><path fill="#008F88" d="M0 0h1v1h-1zM2 0h6v1h-6zM29 0h4v1h-4zM48 0h1v1h-1zM0 1h1v1h-1zM6 1h2v1h-2zM29 1h1v1h-1zM32 1h1v1h-1zM33 2h1v1h-1zM36 2h2v1h-2zM5 3h1v1h-1zM32 3h1v1h-1zM35 3h1v1h-1zM37 3h1v1h-1zM4 4h2v1h-2zM34 4h1v1h-1zM37 4h1v1h-1zM39 4h1v1h-1zM4 5h2v1h-2zM4 6h2v1h-2zM36 6h1v1h-1zM46 6h1v1h-1zM4 7h2v1h-2zM32 7h1v1h-1zM36 7h2v1h-2zM43 7h2v1h-2zM47 7h1v1h-1zM3 8h1v1h-1zM5 8h1v1h-1zM31 8h1v1h-1zM37 8h3v1h-3zM44 8h2v1h-2zM3 9h3v1h-3zM0 10h2v1h-2zM4 10h2v1h-2zM29 10h1v1h-1zM41 10h1v1h-1zM46 10h1v1h-1zM1 11h1v1h-1zM3 11h2v1h-2zM28 11h2v1h-2zM31 11h1v1h-1zM33 11h2v1h-2zM28 12h1v1h-1zM32 12h3v1h-3zM26 13h1v1h-1zM32 13h3v1h-3zM40 13h2v1h-2zM44 13h1v1h-1zM25 14h2v1h-2zM30 14h1v1h-1zM32 14h4v1h-4zM40 14h2v1h-2zM47 14h2v1h-2zM25 15h2v1h-2zM33 15h2v1h-2zM42 15h1v1h-1zM25 16h8v1h-8zM38 16h2v1h-2zM25 17h1v1h-1zM30 17h2v1h-2zM0 18h1v1h-1zM25 18h1v1h-1zM37 18h1v1h-1zM24 19h2v1h-2zM23 20h2v1h-2zM23 21h2v1h-2zM22 22h4v1h-4zM23 23h1v1h-1zM25 25h1v1h-1zM18 26h4v1h-4zM25 26h1v1h-1zM17 27h2v1h-2zM24 27h1v1h-1zM16 29h2v1h-2zM3 30h1v1h-1zM12 30h1v1h-1zM16 30h1v1h-1zM11 31h1v1h-1zM14 31h1v1h-1zM16 31h1v1h-1zM16 32h2v1h-2zM11 33h1v1h-1zM13 33h4v1h-4zM10 34h2v1h-2zM14 34h1v1h-1zM12 35h3v1h-3zM21 35h1v1h-1zM12 36h2v1h-2zM15 36h1v1h-1zM12 37h3v1h-3zM12 38h3v1h-3zM16 38h1v1h-1zM13 39h1v1h-1zM16 39h2v1h-2zM16 40h2v1h-2zM15 44h2v1h-2zM15 45h1v1h-1z"/><path fill="#008892" d="M1 0h1v1h-1zM33 0h4v1h-4zM43 0h1v1h-1zM47 0h1v1h-1zM2 1h4v1h-4zM33 1h6v1h-6zM41 1h3v1h-3zM47 1h2v1h-2zM0 2h1v1h-1zM4 2h2v1h-2zM32 2h1v1h-1zM34 2h2v1h-2zM38 2h1v1h-1zM48 2h1v1h-1zM0 3h1v1h-1zM3 3h2v1h-2zM33 3h2v1h-2zM38 3h1v1h-1zM44 3h2v1h-2zM48 3h1v1h-1zM2 4h2v1h-2zM33 4h1v1h-1zM35 4h1v1h-1zM44 4h4v1h-4zM3 5h1v1h-1zM33 5h3v1h-3zM40 5h1v1h-1zM44 5h2v1h-2zM48 5h1v1h-1zM2 6h2v1h-2zM33 6h3v1h-3zM43 6h1v1h-1zM47 6h2v1h-2zM3 7h1v1h-1zM33 7h1v1h-1zM35 7h1v1h-1zM45 7h1v1h-1zM0 8h3v1h-3zM4 8h1v1h-1zM32 8h2v1h-2zM36 8h1v1h-1zM0 9h3v1h-3zM33 9h1v1h-1zM36 9h5v1h-5zM31 10h4v1h-4zM37 10h4v1h-4zM30 11h1v1h-1zM32 11h1v1h-1zM35 11h2v1h-2zM39 11h3v1h-3zM29 12h3v1h-3zM35 12h7v1h-7zM29 13h3v1h-3zM35 13h5v1h-5zM31 14h1v1h-1zM36 14h4v1h-4zM43 14h4v1h-4zM31 15h1v1h-1zM35 15h7v1h-7zM48 15h1v1h-1zM37 16h1v1h-1zM26 17h4v1h-4zM32 17h1v1h-1zM37 17h3v1h-3zM26 18h6v1h-6zM38 18h1v1h-1zM0 19h1v1h-1zM26 19h3v1h-3zM38 19h1v1h-1zM25 20h2v1h-2zM25 21h2v1h-2zM25 23h1v1h-1zM25 24h1v1h-1zM26 25h1v1h-1zM19 27h5v1h-5zM17 28h3v1h-3zM23 28h1v1h-1zM18 29h1v1h-1zM17 30h1v1h-1zM17 31h1v1h-1zM18 32h1v1h-1zM17 33h1v1h-1zM19 33h1v1h-1zM22 33h1v1h-1zM12 34h2v1h-2zM15 34h3v1h-3zM21 34h2v1h-2zM30 34h1v1h-1zM20 35h1v1h-1zM20 36h2v1h-2zM16 37h1v1h-1zM17 38h2v1h-2zM12 39h1v1h-1zM18 39h1v1h-1zM13 40h1v1h-1zM18 40h1v1h-1zM12 41h1v1h-1zM16 41h2v1h-2zM12 42h1v1h-1zM16 42h2v1h-2zM12 43h2v1h-2zM16 43h1v1h-1zM14 44h1v1h-1z"/><path fill="#00967F" d="M8 0h1v1h-1zM12 0h1v1h-1zM24 0h2v1h-2zM28 1h1v1h-1zM30 1h2v1h-2zM6 2h1v1h-1zM12 2h1v1h-1zM29 2h1v1h-1zM6 3h1v1h-1zM36 3h1v1h-1zM6 4h1v1h-1zM12 4h1v1h-1zM32 4h1v1h-1zM36 4h1v1h-1zM38 4h1v1h-1zM6 5h1v1h-1zM36 5h2v1h-2zM39 5h1v1h-1zM11 6h1v1h-1zM37 6h1v1h-1zM10 7h2v1h-2zM38 7h1v1h-1zM46 7h1v1h-1zM11 8h1v1h-1zM30 8h1v1h-1zM43 8h1v1h-1zM46 8h2v1h-2zM6 9h1v1h-1zM29 9h1v1h-1zM44 9h2v1h-2zM2 10h2v1h-2zM6 10h1v1h-1zM26 10h1v1h-1zM28 10h1v1h-1zM45 10h1v1h-1zM0 11h1v1h-1zM2 11h1v1h-1zM5 11h1v1h-1zM26 11h2v1h-2zM48 11h1v1h-1zM42 12h1v1h-1zM16 13h1v1h-1zM25 13h1v1h-1zM27 13h2v1h-2zM42 13h2v1h-2zM45 13h3v1h-3zM15 14h2v1h-2zM24 14h1v1h-1zM42 14h1v1h-1zM15 15h3v1h-3zM24 15h1v1h-1zM30 15h1v1h-1zM32 15h1v1h-1zM7 16h1v1h-1zM16 16h1v1h-1zM14 17h2v1h-2zM7 18h1v1h-1zM14 18h3v1h-3zM18 18h1v1h-1zM24 18h1v1h-1zM1 19h1v1h-1zM6 19h1v1h-1zM15 19h1v1h-1zM23 19h1v1h-1zM0 20h3v1h-3zM4 20h3v1h-3zM14 20h1v1h-1zM16 20h1v1h-1zM16 21h1v1h-1zM21 21h2v1h-2zM16 22h2v1h-2zM14 23h1v1h-1zM16 23h5v1h-5zM22 23h1v1h-1zM24 23h1v1h-1zM5 24h1v1h-1zM14 24h7v1h-7zM4 25h2v1h-2zM15 25h7v1h-7zM3 26h2v1h-2zM14 26h1v1h-1zM16 26h2v1h-2zM22 26h1v1h-1zM24 26h1v1h-1zM3 27h2v1h-2zM16 27h1v1h-1zM3 28h1v1h-1zM14 28h3v1h-3zM1 29h2v1h-2zM13 29h1v1h-1zM15 29h1v1h-1zM0 30h3v1h-3zM10 30h2v1h-2zM13 30h3v1h-3zM0 31h4v1h-4zM9 31h2v1h-2zM12 31h2v1h-2zM15 31h1v1h-1zM10 32h3v1h-3zM14 32h2v1h-2zM10 33h1v1h-1zM12 33h1v1h-1zM30 33h1v1h-1zM2 34h8v1h-8zM3 35h2v1h-2zM6 35h3v1h-3zM10 35h2v1h-2zM2 36h10v1h-10zM14 36h1v1h-1zM2 37h8v1h-8zM15 37h1v1h-1zM2 38h3v1h-3zM6 38h2v1h-2zM10 38h1v1h-1zM15 38h1v1h-1zM3 39h2v1h-2zM10 39h2v1h-2zM15 39h1v1h-1zM2 40h2v1h-2zM9 40h1v1h-1zM11 40h1v1h-1zM3 41h1v1h-1zM9 41h3v1h-3zM4 42h1v1h-1zM10 42h2v1h-2zM2 43h3v1h-3zM8 43h4v1h-4zM2 44h1v1h-1zM4 44h1v1h-1zM13 44h1v1h-1zM6 45h1v1h-1zM8 45h1v1h-1zM14 45h1v1h-1zM16 45h1v1h-1zM14 46h1v1h-1zM9 47h4v1h-4zM4 48h1v1h-1z"/><path fill="#1CA66D" d="M9 0h3v1h-3zM15 0h5v1h-5zM21 0h2v1h-2zM26 0h3v1h-3zM8 1h4v1h-4zM14 1h6v1h-6zM10 2h1v1h-1zM14 2h6v1h-6zM23 2h4v1h-4zM31 2h1v1h-1zM10 3h1v1h-1zM13 3h6v1h-6zM27 3h1v1h-1zM30 3h1v1h-1zM10 4h2v1h-2zM13 4h7v1h-7zM26 4h5v1h-5zM10 5h1v1h-1zM12 5h1v1h-1zM14 5h6v1h-6zM26 5h1v1h-1zM29 5h1v1h-1zM9 6h2v1h-2zM14 6h6v1h-6zM26 6h2v1h-2zM38 6h1v1h-1zM42 6h1v1h-1zM13 7h6v1h-6zM26 7h3v1h-3zM30 7h2v1h-2zM8 8h2v1h-2zM14 8h5v1h-5zM26 8h2v1h-2zM48 8h1v1h-1zM8 9h1v1h-1zM12 9h7v1h-7zM7 10h1v1h-1zM9 10h1v1h-1zM11 10h1v1h-1zM13 10h3v1h-3zM18 10h1v1h-1zM25 10h1v1h-1zM48 10h1v1h-1zM7 11h6v1h-6zM16 11h3v1h-3zM1 12h1v1h-1zM3 12h4v1h-4zM8 12h4v1h-4zM14 12h1v1h-1zM16 12h3v1h-3zM24 12h2v1h-2zM43 12h1v1h-1zM45 12h1v1h-1zM2 13h5v1h-5zM9 13h3v1h-3zM17 13h2v1h-2zM0 14h3v1h-3zM4 14h1v1h-1zM10 14h1v1h-1zM18 14h2v1h-2zM28 14h1v1h-1zM3 15h4v1h-4zM10 15h1v1h-1zM18 15h1v1h-1zM1 16h1v1h-1zM3 16h4v1h-4zM9 16h1v1h-1zM13 16h2v1h-2zM18 16h3v1h-3zM5 17h1v1h-1zM13 17h1v1h-1zM18 17h1v1h-1zM21 17h4v1h-4zM8 19h1v1h-1zM18 19h2v1h-2zM21 19h2v1h-2zM7 20h1v1h-1zM12 20h1v1h-1zM18 20h2v1h-2zM2 21h2v1h-2zM12 21h1v1h-1zM18 21h2v1h-2zM0 22h5v1h-5zM12 22h1v1h-1zM20 22h1v1h-1zM4 23h1v1h-1zM11 23h1v1h-1zM13 23h1v1h-1zM6 24h1v1h-1zM10 25h1v1h-1zM12 25h1v1h-1zM22 25h2v1h-2zM13 26h1v1h-1zM13 27h1v1h-1zM10 28h1v1h-1zM0 29h1v1h-1zM5 29h1v1h-1zM7 29h3v1h-3zM5 30h1v1h-1zM7 30h2v1h-2zM5 31h3v1h-3zM5 32h1v1h-1zM0 33h1v1h-1zM3 33h2v1h-2zM0 34h1v1h-1zM0 35h1v1h-1zM1 38h1v1h-1zM0 39h3v1h-3zM5 40h1v1h-1zM8 40h1v1h-1zM6 41h1v1h-1zM5 42h1v1h-1zM8 42h1v1h-1zM6 43h1v1h-1zM6 44h2v1h-2zM12 44h1v1h-1zM11 45h1v1h-1zM13 45h1v1h-1zM11 46h2v1h-2zM5 47h2v1h-2zM14 47h1v1h-1zM13 48h1v1h-1z"/><path fill="#009D75" d="M13 0h2v1h-2zM23 0h1v1h-1zM12 1h2v1h-2zM25 1h1v1h-1zM27 1h1v1h-1zM11 2h1v1h-1zM13 2h1v1h-1zM27 2h2v1h-2zM30 2h1v1h-1zM11 3h2v1h-2zM28 3h2v1h-2zM11 5h1v1h-1zM13 5h1v1h-1zM32 5h1v1h-1zM38 5h1v1h-1zM12 6h2v1h-2zM32 6h1v1h-1zM41 6h1v1h-1zM9 7h1v1h-1zM12 7h1v1h-1zM29 7h1v1h-1zM42 7h1v1h-1zM48 7h1v1h-1zM10 8h1v1h-1zM12 8h1v1h-1zM28 8h2v1h-2zM40 8h1v1h-1zM9 9h3v1h-3zM26 9h3v1h-3zM43 9h1v1h-1zM46 9h1v1h-1zM8 10h1v1h-1zM10 10h1v1h-1zM16 10h1v1h-1zM27 10h1v1h-1zM42 10h1v1h-1zM44 10h1v1h-1zM47 10h1v1h-1zM6 11h1v1h-1zM15 11h1v1h-1zM42 11h1v1h-1zM47 11h1v1h-1zM2 12h1v1h-1zM7 12h1v1h-1zM15 12h1v1h-1zM26 12h2v1h-2zM7 13h2v1h-2zM15 13h1v1h-1zM24 13h1v1h-1zM48 13h1v1h-1zM3 14h1v1h-1zM6 14h4v1h-4zM17 14h1v1h-1zM27 14h1v1h-1zM29 14h1v1h-1zM0 15h3v1h-3zM7 15h3v1h-3zM14 15h1v1h-1zM27 15h1v1h-1zM29 15h1v1h-1zM0 16h1v1h-1zM8 16h1v1h-1zM15 16h1v1h-1zM17 16h1v1h-1zM24 16h1v1h-1zM0 17h1v1h-1zM6 17h4v1h-4zM16 17h2v1h-2zM1 18h6v1h-6zM8 18h1v1h-1zM13 18h1v1h-1zM17 18h1v1h-1zM19 18h2v1h-2zM22 18h2v1h-2zM2 19h4v1h-4zM7 19h1v1h-1zM13 19h2v1h-2zM16 19h2v1h-2zM20 19h1v1h-1zM3 20h1v1h-1zM13 20h1v1h-1zM15 20h1v1h-1zM17 20h1v1h-1zM20 20h3v1h-3zM0 21h2v1h-2zM4 21h3v1h-3zM13 21h3v1h-3zM17 21h1v1h-1zM20 21h1v1h-1zM5 22h2v1h-2zM13 22h3v1h-3zM18 22h2v1h-2zM21 22h1v1h-1zM5 23h1v1h-1zM15 23h1v1h-1zM21 23h1v1h-1zM3 24h2v1h-2zM13 24h1v1h-1zM21 24h4v1h-4zM3 25h1v1h-1zM13 25h2v1h-2zM5 26h1v1h-1zM15 26h1v1h-1zM23 26h1v1h-1zM2 27h1v1h-1zM9 27h1v1h-1zM14 27h2v1h-2zM2 28h1v1h-1zM4 28h1v1h-1zM13 28h1v1h-1zM3 29h2v1h-2zM10 29h3v1h-3zM14 29h1v1h-1zM4 30h1v1h-1zM9 30h1v1h-1zM4 31h1v1h-1zM8 31h1v1h-1zM0 32h5v1h-5zM6 32h4v1h-4zM13 32h1v1h-1zM1 33h2v1h-2zM5 33h5v1h-5zM1 34h1v1h-1zM1 35h2v1h-2zM5 35h1v1h-1zM9 35h1v1h-1zM1 36h1v1h-1zM1 37h1v1h-1zM10 37h2v1h-2zM5 38h1v1h-1zM8 38h2v1h-2zM11 38h1v1h-1zM5 39h5v1h-5zM14 39h1v1h-1zM0 40h2v1h-2zM4 40h1v1h-1zM6 40h2v1h-2zM10 40h1v1h-1zM0 41h3v1h-3zM4 41h2v1h-2zM7 41h2v1h-2zM0 42h4v1h-4zM6 42h2v1h-2zM9 42h1v1h-1zM0 43h2v1h-2zM5 43h1v1h-1zM7 43h1v1h-1zM0 44h2v1h-2zM3 44h1v1h-1zM5 44h1v1h-1zM8 44h4v1h-4zM0 45h6v1h-6zM7 45h1v1h-1zM9 45h2v1h-2zM0 46h11v1h-11zM13 46h1v1h-1zM15 46h1v1h-1zM0 47h5v1h-5zM8 47h1v1h-1zM13 47h1v1h-1zM15 47h1v1h-1zM0 48h4v1h-4zM8 48h5v1h-5zM15 48h1v1h-1z"/><path fill="#41B166" d="M20 0h1v1h-1zM20 1h5v1h-5zM26 1h1v1h-1zM7 2h1v1h-1zM9 2h1v1h-1zM20 2h3v1h-3zM7 3h1v1h-1zM19 3h8v1h-8zM20 4h1v1h-1zM25 4h1v1h-1zM9 5h1v1h-1zM25 5h1v1h-1zM27 5h2v1h-2zM30 5h1v1h-1zM6 6h1v1h-1zM8 6h1v1h-1zM25 6h1v1h-1zM28 6h2v1h-2zM6 7h1v1h-1zM8 7h1v1h-1zM19 7h1v1h-1zM25 7h1v1h-1zM6 8h1v1h-1zM13 8h1v1h-1zM19 8h1v1h-1zM25 8h1v1h-1zM41 8h1v1h-1zM7 9h1v1h-1zM19 9h2v1h-2zM25 9h1v1h-1zM12 10h1v1h-1zM17 10h1v1h-1zM19 10h2v1h-2zM43 10h1v1h-1zM14 11h1v1h-1zM19 11h2v1h-2zM24 11h2v1h-2zM46 11h1v1h-1zM0 12h1v1h-1zM12 12h2v1h-2zM19 12h1v1h-1zM23 12h1v1h-1zM44 12h1v1h-1zM46 12h3v1h-3zM0 13h2v1h-2zM13 13h2v1h-2zM19 13h2v1h-2zM23 13h1v1h-1zM5 14h1v1h-1zM12 14h3v1h-3zM20 14h1v1h-1zM23 14h1v1h-1zM11 15h3v1h-3zM19 15h3v1h-3zM23 15h1v1h-1zM28 15h1v1h-1zM2 16h1v1h-1zM21 16h3v1h-3zM1 17h1v1h-1zM4 17h1v1h-1zM10 17h1v1h-1zM19 17h2v1h-2zM9 18h1v1h-1zM11 18h1v1h-1zM21 18h1v1h-1zM9 19h4v1h-4zM8 20h1v1h-1zM11 20h1v1h-1zM7 21h1v1h-1zM10 21h2v1h-2zM10 22h2v1h-2zM0 23h4v1h-4zM6 23h1v1h-1zM10 23h1v1h-1zM12 23h1v1h-1zM0 24h1v1h-1zM2 24h1v1h-1zM9 24h4v1h-4zM6 25h1v1h-1zM9 25h1v1h-1zM24 25h1v1h-1zM2 26h1v1h-1zM6 26h1v1h-1zM9 26h4v1h-4zM5 27h1v1h-1zM10 27h3v1h-3zM5 28h5v1h-5zM12 28h1v1h-1zM6 29h1v1h-1zM6 30h1v1h-1zM0 36h1v1h-1zM0 38h1v1h-1zM12 45h1v1h-1zM7 47h1v1h-1zM5 48h1v1h-1zM7 48h1v1h-1zM14 48h1v1h-1z"/><path fill="#00829C" d="M37 0h2v1h-2zM40 0h3v1h-3zM1 1h1v1h-1zM39 1h1v1h-1zM2 2h2v1h-2zM39 2h2v1h-2zM46 2h2v1h-2zM1 3h2v1h-2zM39 3h5v1h-5zM46 3h2v1h-2zM0 4h2v1h-2zM40 4h4v1h-4zM48 4h1v1h-1zM2 5h1v1h-1zM41 5h3v1h-3zM46 5h2v1h-2zM0 6h2v1h-2zM44 6h2v1h-2zM0 7h3v1h-3zM34 7h1v1h-1zM34 8h1v1h-1zM30 9h2v1h-2zM34 9h2v1h-2zM30 10h1v1h-1zM35 10h2v1h-2zM37 11h2v1h-2zM43 15h3v1h-3zM33 16h4v1h-4zM40 16h2v1h-2zM33 17h4v1h-4zM32 18h1v1h-1zM39 18h1v1h-1zM27 20h2v1h-2zM26 22h1v1h-1zM26 26h1v1h-1zM25 27h1v1h-1zM20 28h3v1h-3zM24 28h1v1h-1zM19 29h1v1h-1zM23 29h1v1h-1zM18 30h2v1h-2zM18 31h1v1h-1zM20 31h1v1h-1zM19 32h3v1h-3zM18 33h1v1h-1zM20 33h2v1h-2zM18 34h3v1h-3zM15 35h5v1h-5zM22 35h1v1h-1zM16 36h4v1h-4zM17 37h3v1h-3zM12 40h1v1h-1zM14 40h2v1h-2zM18 41h1v1h-1zM18 42h1v1h-1zM17 43h1v1h-1zM17 44h1v1h-1z"/><path fill="#0074AF" d="M39 0h1v1h-1zM44 1h1v1h-1zM0 5h2v1h-2zM35 8h1v1h-1zM29 20h1v1h-1zM29 21h1v1h-1zM27 22h2v1h-2zM26 24h1v1h-1zM14 42h1v1h-1zM15 43h1v1h-1z"/><path fill="#007BA5" d="M44 0h3v1h-3zM40 1h1v1h-1zM45 1h2v1h-2zM1 2h1v1h-1zM41 2h5v1h-5zM32 9h1v1h-1zM46 15h2v1h-2zM42 16h2v1h-2zM40 17h3v1h-3zM33 18h4v1h-4zM40 18h1v1h-1zM29 19h3v1h-3zM37 19h1v1h-1zM27 21h2v1h-2zM26 23h1v1h-1zM25 28h1v1h-1zM20 29h3v1h-3zM24 29h2v1h-2zM20 30h6v1h-6zM27 30h1v1h-1zM19 31h1v1h-1zM21 31h3v1h-3zM22 32h2v1h-2zM23 33h2v1h-2zM23 34h1v1h-1zM22 36h1v1h-1zM20 37h2v1h-2zM19 38h2v1h-2zM19 39h1v1h-1zM13 41h3v1h-3zM13 42h1v1h-1zM15 42h1v1h-1zM17 45h1v1h-1zM18 46h1v1h-1zM18 48h1v1h-1z"/><path fill="#66BC5E" d="M8 2h1v1h-1zM8 3h2v1h-2zM31 3h1v1h-1zM7 4h1v1h-1zM9 4h1v1h-1zM21 4h4v1h-4zM7 5h1v1h-1zM20 5h5v1h-5zM20 6h5v1h-5zM30 6h1v1h-1zM40 6h1v1h-1zM20 7h5v1h-5zM20 8h5v1h-5zM42 8h1v1h-1zM21 9h4v1h-4zM41 9h2v1h-2zM47 9h1v1h-1zM21 10h4v1h-4zM13 11h1v1h-1zM21 11h3v1h-3zM43 11h2v1h-2zM20 12h3v1h-3zM12 13h1v1h-1zM21 13h2v1h-2zM11 14h1v1h-1zM21 14h2v1h-2zM22 15h1v1h-1zM10 16h3v1h-3zM2 17h2v1h-2zM11 17h2v1h-2zM10 18h1v1h-1zM12 18h1v1h-1zM9 20h2v1h-2zM8 21h2v1h-2zM7 22h1v1h-1zM9 23h1v1h-1zM1 24h1v1h-1zM0 25h1v1h-1zM2 25h1v1h-1zM8 25h1v1h-1zM11 25h1v1h-1zM0 26h1v1h-1zM8 26h1v1h-1zM6 27h1v1h-1zM8 27h1v1h-1zM11 28h1v1h-1zM0 37h1v1h-1zM6 48h1v1h-1z"/><path fill="#8AC657" d="M8 4h1v1h-1zM8 5h1v1h-1zM7 6h1v1h-1zM39 6h1v1h-1zM7 7h1v1h-1zM41 7h1v1h-1zM7 8h1v1h-1zM48 9h1v1h-1zM8 22h2v1h-2zM7 23h2v1h-2zM8 24h1v1h-1zM1 25h1v1h-1zM7 26h1v1h-1zM0 27h1v1h-1zM7 27h1v1h-1zM1 28h1v1h-1z"/><path fill="#D4DC48" d="M31 4h1v1h-1zM31 6h1v1h-1z"/><path fill="#AFD14F" d="M31 5h1v1h-1zM39 7h1v1h-1zM45 11h1v1h-1zM7 24h1v1h-1zM7 25h1v1h-1zM1 26h1v1h-1zM1 27h1v1h-1zM0 28h1v1h-1z"/><path fill="#EED736" d="M40 7h1v1h-1z"/><path fill="#0979B8" d="M44 16h3v1h-3zM43 17h2v1h-2zM41 18h1v1h-1zM32 19h5v1h-5zM39 19h1v1h-1zM31 20h1v1h-1zM30 21h1v1h-1zM29 22h3v1h-3zM27 23h5v1h-5zM27 24h5v1h-5zM27 25h2v1h-2zM30 25h2v1h-2zM26 27h1v1h-1zM26 28h1v1h-1zM26 29h2v1h-2zM26 30h1v1h-1zM24 31h4v1h-4zM24 32h2v1h-2zM30 32h1v1h-1zM26 33h1v1h-1zM24 34h1v1h-1zM26 34h1v1h-1zM29 34h1v1h-1zM23 35h1v1h-1zM23 36h4v1h-4zM24 37h2v1h-2zM21 38h2v1h-2zM20 39h1v1h-1zM19 40h1v1h-1zM14 43h1v1h-1zM18 43h1v1h-1zM18 44h1v1h-1zM18 45h1v1h-1zM16 46h1v1h-1zM18 47h1v1h-1z"/><path fill="#61AFDB" d="M47 16h1v1h-1zM37 34h2v1h-2zM37 35h1v1h-1zM29 36h1v1h-1zM29 37h1v1h-1zM26 38h1v1h-1zM27 42h4v1h-4zM23 43h1v1h-1zM27 43h5v1h-5zM23 44h1v1h-1zM27 44h7v1h-7zM27 45h7v1h-7zM28 46h6v1h-6zM30 47h4v1h-4zM30 48h3v1h-3z"/><path fill="#9F9F9F" d="M48 16h1v1h-1z"/><path fill="#238DC8" d="M45 17h2v1h-2zM43 18h1v1h-1zM46 18h1v1h-1zM48 18h1v1h-1zM41 19h1v1h-1zM46 19h1v1h-1zM33 20h5v1h-5zM46 20h1v1h-1zM33 21h1v1h-1zM35 21h1v1h-1zM32 22h1v1h-1zM32 23h1v1h-1zM48 23h1v1h-1zM32 24h1v1h-1zM46 24h1v1h-1zM48 24h1v1h-1zM46 25h3v1h-3zM28 26h4v1h-4zM46 26h3v1h-3zM32 27h1v1h-1zM45 27h1v1h-1zM47 27h2v1h-2zM45 28h3v1h-3zM45 29h2v1h-2zM28 30h1v1h-1zM47 30h1v1h-1zM28 31h1v1h-1zM48 31h1v1h-1zM28 32h1v1h-1zM31 32h1v1h-1zM46 32h1v1h-1zM48 32h1v1h-1zM33 33h1v1h-1zM27 35h2v1h-2zM23 38h3v1h-3zM21 39h1v1h-1zM20 40h1v1h-1zM19 43h1v1h-1zM17 47h1v1h-1zM17 48h1v1h-1z"/><path fill="#3097D1" d="M47 17h1v1h-1zM44 18h2v1h-2zM42 19h3v1h-3zM39 20h3v1h-3zM34 21h1v1h-1zM36 21h1v1h-1zM40 21h1v1h-1zM45 21h2v1h-2zM33 22h1v1h-1zM43 22h2v1h-2zM33 23h1v1h-1zM42 23h2v1h-2zM46 23h1v1h-1zM33 24h1v1h-1zM45 24h1v1h-1zM37 25h2v1h-2zM45 25h1v1h-1zM44 26h2v1h-2zM28 27h1v1h-1zM31 27h1v1h-1zM43 27h2v1h-2zM46 27h1v1h-1zM44 28h1v1h-1zM48 28h1v1h-1zM28 29h1v1h-1zM44 29h1v1h-1zM47 29h2v1h-2zM45 30h2v1h-2zM48 30h1v1h-1zM29 31h2v1h-2zM46 31h2v1h-2zM32 33h1v1h-1zM34 33h1v1h-1zM47 33h2v1h-2zM32 34h1v1h-1zM47 34h1v1h-1zM29 35h1v1h-1zM32 36h2v1h-2zM31 37h2v1h-2zM22 39h1v1h-1zM21 40h2v1h-2zM24 40h1v1h-1zM37 40h1v1h-1zM20 41h2v1h-2zM20 42h2v1h-2zM20 43h1v1h-1zM19 44h1v1h-1zM19 46h1v1h-1zM19 47h1v1h-1zM19 48h1v1h-1z"/><path fill="#3DA1D9" d="M48 17h1v1h-1zM45 19h1v1h-1zM42 20h4v1h-4zM41 21h4v1h-4zM34 22h3v1h-3zM40 22h3v1h-3zM45 22h2v1h-2zM36 23h2v1h-2zM41 23h1v1h-1zM44 23h2v1h-2zM34 24h1v1h-1zM36 24h4v1h-4zM43 24h2v1h-2zM33 25h1v1h-1zM43 25h2v1h-2zM33 26h1v1h-1zM36 26h1v1h-1zM43 26h1v1h-1zM29 27h2v1h-2zM33 27h1v1h-1zM42 27h1v1h-1zM28 28h1v1h-1zM32 28h1v1h-1zM43 28h1v1h-1zM32 29h1v1h-1zM43 29h1v1h-1zM29 30h2v1h-2zM35 30h3v1h-3zM44 30h1v1h-1zM31 31h1v1h-1zM44 31h2v1h-2zM32 32h1v1h-1zM45 32h1v1h-1zM35 33h1v1h-1zM43 33h4v1h-4zM33 34h2v1h-2zM43 34h4v1h-4zM48 34h1v1h-1zM41 35h8v1h-8zM31 36h1v1h-1zM34 36h1v1h-1zM38 36h3v1h-3zM42 36h2v1h-2zM45 36h3v1h-3zM33 37h1v1h-1zM38 37h2v1h-2zM31 38h2v1h-2zM36 38h7v1h-7zM47 38h1v1h-1zM23 39h2v1h-2zM31 39h2v1h-2zM37 39h6v1h-6zM47 39h2v1h-2zM23 40h1v1h-1zM31 40h2v1h-2zM35 40h2v1h-2zM38 40h3v1h-3zM47 40h2v1h-2zM32 41h2v1h-2zM35 41h5v1h-5zM21 43h1v1h-1zM20 44h2v1h-2zM19 45h1v1h-1zM45 45h1v1h-1zM20 46h2v1h-2zM45 46h4v1h-4zM20 47h3v1h-3zM45 47h4v1h-4zM20 48h2v1h-2zM45 48h4v1h-4z"/><path fill="#1683C0" d="M42 18h1v1h-1zM47 18h1v1h-1zM40 19h1v1h-1zM47 19h2v1h-2zM30 20h1v1h-1zM32 20h1v1h-1zM38 20h1v1h-1zM47 20h2v1h-2zM31 21h2v1h-2zM47 21h2v1h-2zM47 22h2v1h-2zM47 23h1v1h-1zM47 24h1v1h-1zM29 25h1v1h-1zM32 25h1v1h-1zM27 26h1v1h-1zM32 26h1v1h-1zM27 27h1v1h-1zM27 28h1v1h-1zM26 32h2v1h-2zM29 32h1v1h-1zM47 32h1v1h-1zM25 33h1v1h-1zM27 33h3v1h-3zM31 33h1v1h-1zM25 34h1v1h-1zM27 34h2v1h-2zM31 34h1v1h-1zM24 35h3v1h-3zM27 36h1v1h-1zM22 37h2v1h-2zM26 37h1v1h-1zM19 41h1v1h-1zM19 42h1v1h-1zM17 46h1v1h-1z"/><path fill="#4AABE2" d="M37 21h3v1h-3zM37 22h1v1h-1zM39 22h1v1h-1zM34 23h2v1h-2zM38 23h1v1h-1zM40 23h1v1h-1zM35 24h1v1h-1zM40 24h3v1h-3zM34 25h3v1h-3zM39 25h1v1h-1zM41 25h2v1h-2zM34 26h2v1h-2zM37 26h1v1h-1zM41 26h2v1h-2zM34 27h1v1h-1zM41 27h1v1h-1zM29 28h3v1h-3zM33 28h3v1h-3zM42 28h1v1h-1zM29 29h3v1h-3zM33 29h1v1h-1zM35 29h2v1h-2zM41 29h2v1h-2zM31 30h4v1h-4zM43 30h1v1h-1zM32 31h6v1h-6zM33 32h2v1h-2zM44 32h1v1h-1zM35 34h1v1h-1zM41 34h2v1h-2zM30 35h5v1h-5zM38 35h3v1h-3zM28 36h1v1h-1zM35 36h3v1h-3zM41 36h1v1h-1zM44 36h1v1h-1zM48 36h1v1h-1zM30 37h1v1h-1zM34 37h4v1h-4zM40 37h7v1h-7zM33 38h2v1h-2zM43 38h4v1h-4zM48 38h1v1h-1zM30 39h1v1h-1zM33 39h2v1h-2zM43 39h4v1h-4zM33 40h2v1h-2zM41 40h4v1h-4zM46 40h1v1h-1zM22 41h1v1h-1zM34 41h1v1h-1zM40 41h5v1h-5zM47 41h2v1h-2zM22 42h2v1h-2zM32 42h12v1h-12zM46 42h3v1h-3zM33 43h6v1h-6zM42 43h7v1h-7zM35 44h3v1h-3zM41 44h8v1h-8zM20 45h2v1h-2zM39 45h6v1h-6zM46 45h3v1h-3zM22 46h2v1h-2zM36 46h3v1h-3zM40 46h5v1h-5zM23 47h1v1h-1zM27 47h3v1h-3zM35 47h10v1h-10zM22 48h2v1h-2zM27 48h3v1h-3zM33 48h12v1h-12z"/><path fill="#57B4E8" d="M38 22h1v1h-1zM39 23h1v1h-1zM38 26h2v1h-2zM35 27h6v1h-6zM36 28h6v1h-6zM34 29h1v1h-1zM37 29h4v1h-4zM38 30h5v1h-5zM38 31h6v1h-6zM35 32h9v1h-9zM36 33h7v1h-7zM36 34h1v1h-1zM40 34h1v1h-1zM35 35h2v1h-2zM27 37h1v1h-1zM47 37h2v1h-2zM27 38h4v1h-4zM35 38h1v1h-1zM25 39h5v1h-5zM35 39h2v1h-2zM25 40h6v1h-6zM45 40h1v1h-1zM23 41h9v1h-9zM45 41h2v1h-2zM24 42h3v1h-3zM31 42h1v1h-1zM44 42h2v1h-2zM22 43h1v1h-1zM24 43h3v1h-3zM32 43h1v1h-1zM39 43h3v1h-3zM22 44h1v1h-1zM24 44h3v1h-3zM34 44h1v1h-1zM38 44h3v1h-3zM22 45h5v1h-5zM34 45h5v1h-5zM24 46h4v1h-4zM34 46h2v1h-2zM39 46h1v1h-1zM16 47h1v1h-1zM24 47h3v1h-3zM34 47h1v1h-1zM16 48h1v1h-1zM24 48h3v1h-3z"/><path fill="#6CABCF" d="M40 25h1v1h-1zM40 26h1v1h-1zM39 34h1v1h-1zM28 37h1v1h-1z"/><path fill="#80A3B7" d="M30 36h1v1h-1z"/></g><path d="M26.8 32.0L60.7 35.4L95.5 38.8L123.2 40.7M96.6 26.8L95.5 38.8M123.2 40.7L122.3 58.9L121.1 87.5L119.3 114.3M122.9 58.9L150.0 60.4L185.0 61.6L202.9 61.2L218.0 60.5L217.2 60.6M26.8 106.4L60.7 109.6L105.4 113.8L119.3 114.6L150.0 116.1L185.0 117.0L202.9 116.8L229.1 116.1M105.7 113.8L104.8 123.2L102.7 150.0L101.4 170.0L100.0 187.9L98.6 206.2M104.8 123.2L126.8 124.5L149.5 125.5L148.9 141.1L148.2 161.1M148.3 160.5L150.0 161.6L152.3 163.9L155.2 164.1L158.0 163.3L160.3 165.0L160.9 167.3L163.8 167.9L167.2 169.4L170.0 169.4L171.8 170.8L173.5 169.6L176.9 169.4L178.1 171.3L179.8 174.8L181.5 173.6L183.8 172.5L186.1 173.6L188.9 175.9L190.6 174.8L192.3 177.1L193.5 175.3L195.2 173.3L197.5 174.8L199.8 174.0L201.5 175.6L204.4 177.8L207.2 175.9L210.7 174.4L214.1 173.6L216.4 173.1L219.2 174.2L222.1 172.5L225.5 174.8L229.0 176.5L232.4 177.6L234.1 179.3L237.0 179.3L240.0 179.3M206.1 28.3L207.2 31.1L208.5 32.6L209.4 34.4L210.2 37.2L210.3 39.5L210.6 41.7L210.8 43.6L210.8 45.6L211.1 47.2L211.7 48.9L212.4 50.6L213.3 52.2L214.5 53.7L215.0 55.6L216.7 58.3L217.8 60.8L220.0 62.2L222.2 63.9L223.9 63.0L224.7 64.8L222.8 66.7L221.1 68.9L222.8 71.1L225.0 73.3L226.7 75.9L229.4 76.7M229.4 76.7L229.7 97.2L229.8 118.0L229.6 125.0L231.1 139.3L232.3 153.6L233.2 167.9L233.8 170.0L234.1 178.0L240.0 179.3M211.7 49.2L233.3 49.4L250.0 48.9L268.9 47.2L271.1 50.0L272.8 52.2M286.1 28.6L284.4 30.2L282.2 31.1L279.9 31.6L277.8 32.6L276.7 35.6L278.9 37.8L279.2 39.7L279.1 41.7L278.4 43.7L277.2 45.6L275.3 46.3L273.9 47.8L272.8 50.0L273.0 52.2L272.6 53.9L272.2 55.6L272.3 57.3L273.0 58.9L273.3 60.6L274.3 62.3L275.6 63.9L277.4 65.3L278.9 67.2L280.5 68.7L282.2 70.0L283.4 71.4L285.0 72.2L285.5 74.2L286.1 76.1L287.8 78.9L290.0 77.2L292.8 78.3L293.3 81.7L292.6 83.3L292.2 85.0L291.2 86.6L290.6 88.3L291.7 89.8L292.2 91.7L293.7 93.2L295.6 94.4L297.5 95.5L299.6 96.3L301.5 97.5L303.3 98.4L304.5 100.0L304.7 102.1L305.5 104.0L306.3 106.0L307.0 108.0L308.5 110.5L310.0 111.2L311.5 112.5L311.4 114.3L311.3 116.2L311.7 118.0L310.0 119.5L308.0 120.5L306.0 120.8L306.5 122.5L305.0 124.0L305.5 125.8L304.2 127.0L304.7 129.0L303.8 130.5L303.5 132.5L302.5 134.0L302.0 136.0L301.0 137.5L301.2 139.2L300.0 140.0L298.5 142.5L299.7 144.0L299.5 146.0L298.8 148.0L297.0 150.0L296.8 151.8L295.8 153.0L294.5 154.8L294.0 156.5L292.8 159.0L292.0 160.5L291.2 162.0L290.1 163.5L289.0 165.0L288.4 166.8L287.1 168.3L286.4 170.0L285.7 171.8L284.5 173.4L284.1 175.4L284.7 177.0L286.2 178.2L286.8 179.8L286.2 182.2L285.0 184.3L285.7 186.0L285.9 187.9L286.2 189.8L287.4 191.4L288.0 193.2L287.5 195.0L287.4 196.8L286.8 198.6L287.9 200.4L288.9 202.1L287.9 204.0L286.8 205.7L286.0 207.6L284.9 209.2L284.1 211.1L283.5 213.5L282.7 215.2L282.0 217.0L280.9 218.9L280.5 221.0L280.5 223.3L280.8 225.5M310.0 111.2L311.0 109.0L312.7 108.4L314.0 107.2L317.0 108.2L318.6 109.2L320.5 109.5L320.0 106.5L319.0 104.5L321.5 102.5L323.4 102.3L325.0 101.2L325.5 98.5L324.5 96.0L326.5 93.5L329.0 92.5L330.7 92.8L332.5 92.8L334.2 92.1L336.0 92.0L337.6 93.3L339.5 94.0L340.5 91.5L342.5 90.8M326.6 26.8L327.3 42.9L328.8 57.1L330.0 67.9L331.8 76.8L330.5 79.5L330.2 80.0L328.5 84.0L326.5 87.0L326.2 91.0L325.0 95.0L324.5 96.0M229.6 125.4L255.0 124.3L275.0 123.0L296.5 122.0L298.2 125.0L296.0 128.0L294.0 131.2L299.0 131.5L303.8 130.8M308.0 120.8L327.5 118.5L327.8 116.2L342.5 114.9M298.0 149.5L315.0 148.0L329.0 147.2L342.5 145.4M329.0 147.2L329.5 155.0L330.0 164.0L329.3 170.0L330.4 184.3L331.4 196.8L331.0 210.0L332.5 221.0L334.0 233.2M98.6 206.2L69.6 203.9L42.0 201.8L41.2 203.6L42.9 205.4L35.7 204.8L26.8 204.1M42.0 202.1L42.5 204.5L43.8 206.6L44.6 208.6L46.1 210.2L47.3 212.0L48.4 213.3L50.0 214.3L50.9 215.9L52.3 217.0L53.6 218.2L55.0 219.3L56.4 220.4L57.1 222.2L58.3 223.5L59.8 224.5L61.5 225.4L62.5 227.2L64.2 228.2L65.7 229.2L67.0 230.7L67.7 232.7L67.9 234.8L68.4 236.8L69.3 238.8L70.0 240.9L70.0 243.2L70.9 245.1L72.3 246.6L72.9 248.6L74.2 250.1L75.8 251.1L76.9 252.8L78.6 253.9L80.1 255.4L82.1 256.2L83.7 257.7L85.7 258.4L87.6 259.3L89.5 260.1L91.0 261.6L92.9 262.5L94.4 260.6L96.4 259.3L97.1 257.4L98.1 255.7L99.2 254.0L100.0 252.1L101.1 250.2L102.7 248.6L104.7 247.8L106.8 247.9L108.0 246.4L109.8 247.9L111.9 248.3L114.0 247.9L116.1 248.2L117.8 248.7L119.6 248.8L121.4 248.6L123.0 250.0L124.4 251.5L125.9 253.0L127.4 254.5L128.8 256.1L130.4 257.5L132.3 260.0L133.1 261.9L133.9 263.7L134.7 265.5L135.7 267.3L136.1 269.2L137.2 270.7L138.1 272.3L138.6 274.1L139.8 275.6L140.3 277.3L141.6 278.9L142.3 280.9L143.8 282.3L145.0 284.0L146.1 285.5L147.7 286.7L148.6 288.4L149.7 290.0L151.2 291.1L152.7 292.0L153.2 294.0L152.8 296.0L152.8 298.0L153.0 300.0L154.2 301.6L154.7 303.6L155.7 305.3L156.4 307.3L156.8 309.4L157.8 311.3L158.3 313.3L160.0 314.4L161.8 315.3L163.7 316.0L165.5 316.4L167.2 317.3L168.6 318.6L170.3 319.3L171.9 320.2L173.7 320.1L175.3 320.8L177.0 321.3L179.2 321.6L181.5 321.6L183.7 322.0L185.7 323.2L187.7 324.7L189.6 323.2L191.7 322.0M240.0 179.3L241.2 188.8L241.6 198.6L241.8 208.4L243.9 212.0M243.9 212.0L244.8 213.5L245.3 215.2L246.2 216.7L246.9 218.3L247.5 220.0L248.3 221.6L249.5 223.0L250.2 224.9L250.0 227.0L249.2 229.0L248.5 231.0L247.8 232.9L247.5 235.0L247.9 237.0L248.0 239.0L248.5 242.0L247.0 245.0L245.5 246.5L244.5 249.0L245.5 250.5L246.5 248.5L247.0 245.5M241.2 189.1L263.6 188.6L285.0 187.9M280.8 225.5L295.0 224.3L311.0 223.0L311.2 226.0L309.8 228.5L311.0 231.0L313.0 234.0L314.5 237.0L315.0 239.0M185.0 340.7L186.6 338.0L189.3 333.3L191.7 328.0L192.3 322.7L191.7 317.3L190.3 310.7L188.7 302.7L189.3 296.0L192.3 288.7L187.5 304.0L187.8 298.0L189.0 293.0L191.5 288.0L195.0 283.5L199.0 279.5L204.0 275.5L209.0 272.5L214.0 270.0L219.0 267.0L223.0 264.0L227.0 260.5L231.0 257.0L235.0 254.5L240.0 252.5L245.5 251.0L250.0 249.8L255.0 249.2L260.0 249.8L255.0 249.2L259.0 250.5L263.0 252.5L267.0 253.5L271.5 253.2L274.5 252.0L273.0 250.0L275.0 248.5L277.5 247.5L279.0 248.5L276.5 250.0L278.5 251.5L281.0 250.5L280.0 253.0L277.5 254.0L274.5 252.5L276.5 251.0L281.0 250.5L283.5 251.5L286.0 252.5L288.5 251.5L288.0 254.5L289.5 257.0L287.5 256.5L288.5 258.5L292.0 259.0L295.0 259.5L298.0 259.5L299.5 256.5L302.0 255.5L304.5 257.0L305.0 259.5L307.0 259.0L308.5 256.0L309.0 253.0L306.5 251.5L308.0 251.0L311.0 253.0L313.5 254.5L316.0 254.0L319.0 254.5L321.5 253.5L324.0 255.0L325.5 257.0L324.0 259.5L321.5 259.0L320.0 261.5L321.0 258.0L319.0 256.5L316.5 255.5L314.5 254.0L312.5 252.0L313.5 250.0L315.5 248.5L317.5 247.0L318.5 244.5L317.5 242.0L315.5 241.0L314.0 243.0L312.0 242.0L311.0 240.0L312.5 239.0L315.0 238.5L316.5 237.0L318.5 235.0L322.0 233.8L325.0 233.0L328.0 234.0L331.0 233.8L334.0 233.5L337.0 233.2L338.8 226.5L340.0 226.5L341.5 233.5L342.5 235.0L339.0 234.8L335.0 236.2M301.0 240.0L302.5 237.5L304.5 235.5L307.5 236.2L310.5 237.5L311.5 239.0L309.5 241.0L306.0 242.2L303.0 242.0L301.0 240.0M326.5 239.5L327.2 242.0L327.0 245.0M328.0 236.2L331.5 236.5M319.0 240.0L321.0 239.0L320.0 240.5M235.0 254.5L233.0 255.5L231.5 254.0L232.0 251.0L230.0 250.0L229.0 252.5L226.5 251.8L227.5 254.5L229.0 257.0L230.0 256.0M234.0 254.8L230.0 257.5L226.0 259.5L224.0 262.0L226.5 260.0M214.0 270.0L212.8 270.9L211.2 270.3L210.0 271.2L207.5 270.8L206.4 271.8L205.0 272.0L204.0 270.0L202.0 271.0L203.0 273.0L202.0 274.0L200.5 274.0L199.0 276.0L200.0 278.0L198.5 278.6L197.0 279.0L195.0 280.5L192.5 281.0L191.0 283.0L191.8 284.2L193.0 285.0L191.7 286.2L190.0 286.0L188.5 288.0L187.1 287.5L186.0 286.5L186.8 287.6L187.0 289.0L188.0 290.1L189.5 290.0L188.0 292.0L187.1 293.6L186.0 295.0L184.6 294.1L183.0 294.5L182.0 296.5L183.6 296.2L185.0 297.0L187.5 296.5L185.9 297.5L184.0 298.0L181.5 297.5M191.7 322.0L190.3 318.7L188.3 313.3L186.6 306.7L185.3 304.0L187.4 302.4L188.7 298.7M180.3 336.7L183.0 335.3L185.3 333.1L186.6 334.1L184.7 336.3L183.4 337.3L182.6 340.7" fill="none" stroke="#000" stroke-width="0.75" stroke-linejoin="round" clip-path="url(#fc)"/><rect x="28.50" y="28.50" width="313.50" height="312.00" fill="none" stroke="#000" stroke-width="0.75"/><path d="M40.30 340.50v6.2" stroke="#000" stroke-width="0.75"/><text transform="translate(40.30 361.9) scale(0.92 1)" font-size="11.2" text-anchor="middle">-106.5</text><path d="M72.80 340.50v6.2" stroke="#000" stroke-width="0.75"/><path d="M105.30 340.50v6.2" stroke="#000" stroke-width="0.75"/><text transform="translate(105.30 361.9) scale(0.92 1)" font-size="11.2" text-anchor="middle">-102.5</text><path d="M137.80 340.50v6.2" stroke="#000" stroke-width="0.75"/><path d="M170.30 340.50v6.2" stroke="#000" stroke-width="0.75"/><text transform="translate(170.30 361.9) scale(0.92 1)" font-size="11.2" text-anchor="middle">-98.5</text><path d="M202.80 340.50v6.2" stroke="#000" stroke-width="0.75"/><text transform="translate(202.80 361.9) scale(0.92 1)" font-size="11.2" text-anchor="middle">-96.5</text><path d="M235.30 340.50v6.2" stroke="#000" stroke-width="0.75"/><text transform="translate(235.30 361.9) scale(0.92 1)" font-size="11.2" text-anchor="middle">-94.5</text><path d="M267.80 340.50v6.2" stroke="#000" stroke-width="0.75"/><text transform="translate(267.80 361.9) scale(0.92 1)" font-size="11.2" text-anchor="middle">-92.5</text><path d="M300.30 340.50v6.2" stroke="#000" stroke-width="0.75"/><text transform="translate(300.30 361.9) scale(0.92 1)" font-size="11.2" text-anchor="middle">-90.5</text><path d="M332.80 340.50v6.2" stroke="#000" stroke-width="0.75"/><text transform="translate(332.80 361.9) scale(0.92 1)" font-size="11.2" text-anchor="middle">-88.5</text><path d="M28.50 34.40h-6.2" stroke="#000" stroke-width="0.75"/><text transform="translate(14.7 34.40) rotate(-90) scale(0.92 1)" font-size="11.2" text-anchor="middle">41.25</text><path d="M28.50 71.56h-6.2" stroke="#000" stroke-width="0.75"/><text transform="translate(14.7 71.56) rotate(-90) scale(0.92 1)" font-size="11.2" text-anchor="middle">39.25</text><path d="M28.50 108.72h-6.2" stroke="#000" stroke-width="0.75"/><text transform="translate(14.7 108.72) rotate(-90) scale(0.92 1)" font-size="11.2" text-anchor="middle">37.25</text><path d="M28.50 145.88h-6.2" stroke="#000" stroke-width="0.75"/><text transform="translate(14.7 145.88) rotate(-90) scale(0.92 1)" font-size="11.2" text-anchor="middle">35.25</text><path d="M28.50 183.04h-6.2" stroke="#000" stroke-width="0.75"/><text transform="translate(14.7 183.04) rotate(-90) scale(0.92 1)" font-size="11.2" text-anchor="middle">33.25</text><path d="M28.50 220.20h-6.2" stroke="#000" stroke-width="0.75"/><text transform="translate(14.7 220.20) rotate(-90) scale(0.92 1)" font-size="11.2" text-anchor="middle">31.25</text><path d="M28.50 257.36h-6.2" stroke="#000" stroke-width="0.75"/><text transform="translate(14.7 257.36) rotate(-90) scale(0.92 1)" font-size="11.2" text-anchor="middle">29.25</text><path d="M28.50 294.52h-6.2" stroke="#000" stroke-width="0.75"/><text transform="translate(14.7 294.52) rotate(-90) scale(0.92 1)" font-size="11.2" text-anchor="middle">27.25</text><path d="M28.50 331.68h-6.2" stroke="#000" stroke-width="0.75"/><text transform="translate(14.7 331.68) rotate(-90) scale(0.92 1)" font-size="11.2" text-anchor="middle">25.25</text><text x="185.25" y="18.7" font-size="12" font-weight="bold" text-anchor="middle">Model 2 (ZeroFires): O3_MDA8 on 07/26/2024</text><text x="185.25" y="379.50" font-size="12" text-anchor="middle">Domain size: 49x49 | Max = 67 at (42, 41)</text><text x="185.25" y="391.50" font-size="12" text-anchor="middle" style="white-space:pre">Mean: 45 |  Median: 49</text><g shape-rendering="crispEdges"><rect x="390.60" y="320.81" width="8.00" height="4.99" fill="#E5E5E5"/><rect x="390.60" y="316.12" width="8.00" height="4.99" fill="#D9D9D9"/><rect x="390.60" y="311.43" width="8.00" height="4.99" fill="#CECECE"/><rect x="390.60" y="306.74" width="8.00" height="4.99" fill="#C2C2C2"/><rect x="390.60" y="302.05" width="8.00" height="4.99" fill="#B7B7B7"/><rect x="390.60" y="297.36" width="8.00" height="4.99" fill="#ABABAB"/><rect x="390.60" y="292.67" width="8.00" height="4.99" fill="#9F9F9F"/><rect x="390.60" y="287.98" width="8.00" height="4.99" fill="#949B9E"/><rect x="390.60" y="283.29" width="8.00" height="4.99" fill="#8A9FAB"/><rect x="390.60" y="278.60" width="8.00" height="4.99" fill="#80A3B7"/><rect x="390.60" y="273.91" width="8.00" height="4.99" fill="#76A7C3"/><rect x="390.60" y="269.22" width="8.00" height="4.99" fill="#6CABCF"/><rect x="390.60" y="264.53" width="8.00" height="4.99" fill="#61AFDB"/><rect x="390.60" y="259.84" width="8.00" height="4.99" fill="#57B4E8"/><rect x="390.60" y="255.15" width="8.00" height="4.99" fill="#4AABE2"/><rect x="390.60" y="250.46" width="8.00" height="4.99" fill="#3DA1D9"/><rect x="390.60" y="245.77" width="8.00" height="4.99" fill="#3097D1"/><rect x="390.60" y="241.08" width="8.00" height="4.99" fill="#238DC8"/><rect x="390.60" y="236.39" width="8.00" height="4.99" fill="#1683C0"/><rect x="390.60" y="231.70" width="8.00" height="4.99" fill="#0979B8"/><rect x="390.60" y="227.01" width="8.00" height="4.99" fill="#0074AF"/><rect x="390.60" y="222.32" width="8.00" height="4.99" fill="#007BA5"/><rect x="390.60" y="217.63" width="8.00" height="4.99" fill="#00829C"/><rect x="390.60" y="212.94" width="8.00" height="4.99" fill="#008892"/><rect x="390.60" y="208.25" width="8.00" height="4.99" fill="#008F88"/><rect x="390.60" y="203.56" width="8.00" height="4.99" fill="#00967F"/><rect x="390.60" y="198.87" width="8.00" height="4.99" fill="#009D75"/><rect x="390.60" y="194.18" width="8.00" height="4.99" fill="#1CA66D"/><rect x="390.60" y="189.49" width="8.00" height="4.99" fill="#41B166"/><rect x="390.60" y="184.80" width="8.00" height="4.99" fill="#66BC5E"/><rect x="390.60" y="180.11" width="8.00" height="4.99" fill="#8AC657"/><rect x="390.60" y="175.42" width="8.00" height="4.99" fill="#AFD14F"/><rect x="390.60" y="170.73" width="8.00" height="4.99" fill="#D4DC48"/><rect x="390.60" y="166.04" width="8.00" height="4.99" fill="#F0E240"/><rect x="390.60" y="161.35" width="8.00" height="4.99" fill="#EED736"/><rect x="390.60" y="156.66" width="8.00" height="4.99" fill="#EDCD2C"/><rect x="390.60" y="151.97" width="8.00" height="4.99" fill="#EBC222"/><rect x="390.60" y="147.28" width="8.00" height="4.99" fill="#EAB817"/><rect x="390.60" y="142.59" width="8.00" height="4.99" fill="#E8AD0D"/><rect x="390.60" y="137.90" width="8.00" height="4.99" fill="#E7A303"/><rect x="390.60" y="133.21" width="8.00" height="4.99" fill="#E49800"/><rect x="390.60" y="128.52" width="8.00" height="4.99" fill="#E28E00"/><rect x="390.60" y="123.83" width="8.00" height="4.99" fill="#DF8500"/><rect x="390.60" y="119.14" width="8.00" height="4.99" fill="#DC7B00"/><rect x="390.60" y="114.45" width="8.00" height="4.99" fill="#DA7100"/><rect x="390.60" y="109.76" width="8.00" height="4.99" fill="#D76700"/><rect x="390.60" y="105.07" width="8.00" height="4.99" fill="#D55E03"/><rect x="390.60" y="100.38" width="8.00" height="4.99" fill="#D3631C"/><rect x="390.60" y="95.69" width="8.00" height="4.99" fill="#D26736"/><rect x="390.60" y="91.00" width="8.00" height="4.99" fill="#D16B4F"/><rect x="390.60" y="86.31" width="8.00" height="4.99" fill="#CF6F69"/><rect x="390.60" y="81.62" width="8.00" height="4.99" fill="#CE7382"/><rect x="390.60" y="76.93" width="8.00" height="4.99" fill="#CD779C"/><rect x="390.60" y="72.24" width="8.00" height="4.99" fill="#D06F99"/><rect x="390.60" y="67.55" width="8.00" height="4.99" fill="#D85C7F"/><rect x="390.60" y="62.86" width="8.00" height="4.99" fill="#E04A66"/><rect x="390.60" y="58.17" width="8.00" height="4.99" fill="#E8374C"/><rect x="390.60" y="53.48" width="8.00" height="4.99" fill="#EF2533"/><rect x="390.60" y="48.79" width="8.00" height="4.99" fill="#F71219"/><rect x="390.60" y="44.10" width="8.00" height="4.99" fill="#FF0000"/></g><rect x="390.60" y="44.10" width="8.00" height="281.40" fill="none" stroke="#000" stroke-width="0.75"/><path d="M398.60 46.46h6.2" stroke="#000" stroke-width="0.75"/><text transform="translate(410.8 50.50) scale(0.9 1)" font-size="11.2">120</text><path d="M398.60 69.49h6.2" stroke="#000" stroke-width="0.75"/><text transform="translate(410.8 73.53) scale(0.9 1)" font-size="11.2">110</text><path d="M398.60 92.52h6.2" stroke="#000" stroke-width="0.75"/><text transform="translate(410.8 96.56) scale(0.9 1)" font-size="11.2">100</text><path d="M398.60 115.55h6.2" stroke="#000" stroke-width="0.75"/><text transform="translate(410.8 119.59) scale(0.9 1)" font-size="11.2">90</text><path d="M398.60 138.58h6.2" stroke="#000" stroke-width="0.75"/><text transform="translate(410.8 142.62) scale(0.9 1)" font-size="11.2">80</text><path d="M398.60 161.61h6.2" stroke="#000" stroke-width="0.75"/><text transform="translate(410.8 165.65) scale(0.9 1)" font-size="11.2">70</text><path d="M398.60 184.64h6.2" stroke="#000" stroke-width="0.75"/><text transform="translate(410.8 188.68) scale(0.9 1)" font-size="11.2">60</text><path d="M398.60 207.67h6.2" stroke="#000" stroke-width="0.75"/><text transform="translate(410.8 211.71) scale(0.9 1)" font-size="11.2">50</text><path d="M398.60 230.70h6.2" stroke="#000" stroke-width="0.75"/><text transform="translate(410.8 234.74) scale(0.9 1)" font-size="11.2">40</text><path d="M398.60 253.73h6.2" stroke="#000" stroke-width="0.75"/><text transform="translate(410.8 257.77) scale(0.9 1)" font-size="11.2">30</text><path d="M398.60 276.76h6.2" stroke="#000" stroke-width="0.75"/><text transform="translate(410.8 280.80) scale(0.9 1)" font-size="11.2">20</text><path d="M398.60 299.79h6.2" stroke="#000" stroke-width="0.75"/><text transform="translate(410.8 303.83) scale(0.9 1)" font-size="11.2">10</text><path d="M398.60 322.82h6.2" stroke="#000" stroke-width="0.75"/><text transform="translate(410.8 326.86) scale(0.9 1)" font-size="11.2">0</text><text x="380.50" y="41.6" font-size="12">ppbV</text></g><g transform="translate(0 420)"><g transform="translate(37.10 37.10) scale(6.0367 6.0122)" shape-rendering="crispEdges"><path fill="#E6E5D9" d="M0 0h3v1h-3zM1 1h2v1h-2zM0 2h3v1h-3zM0 3h3v1h-3zM0 4h3v1h-3zM0 5h4v1h-4zM0 6h4v1h-4zM0 7h1v1h-1zM2 7h2v1h-2zM0 8h3v1h-3zM47 15h2v1h-2zM42 16h7v1h-7zM40 17h2v1h-2zM48 17h1v1h-1zM37 18h3v1h-3zM34 19h3v1h-3zM32 20h1v1h-1zM32 21h1v1h-1zM31 22h1v1h-1zM30 23h2v1h-2zM28 24h3v1h-3zM27 25h2v1h-2zM26 26h2v1h-2zM25 27h1v1h-1zM24 28h1v1h-1zM23 29h1v1h-1zM22 30h2v1h-2zM21 31h2v1h-2zM21 32h1v1h-1zM20 33h1v1h-1zM19 34h1v1h-1zM19 35h1v1h-1zM19 36h1v1h-1zM19 37h1v1h-1zM18 38h2v1h-2zM18 39h2v1h-2zM18 40h1v1h-1zM17 41h2v1h-2zM17 43h2v1h-2zM17 44h1v1h-1zM17 45h2v1h-2zM17 46h1v1h-1zM17 47h1v1h-1zM17 48h1v1h-1z"/><path fill="#E6E5D4" d="M3 0h3v1h-3zM0 1h1v1h-1zM3 1h2v1h-2zM3 2h2v1h-2zM3 3h2v1h-2zM3 4h2v1h-2zM4 5h2v1h-2zM4 6h1v1h-1zM3 8h1v1h-1zM0 9h3v1h-3zM47 14h2v1h-2zM44 15h3v1h-3zM39 16h3v1h-3zM37 17h3v1h-3zM34 18h3v1h-3zM32 19h2v1h-2zM31 20h1v1h-1zM31 21h1v1h-1zM30 22h1v1h-1zM28 23h2v1h-2zM27 24h1v1h-1zM26 25h1v1h-1zM25 26h1v1h-1zM24 27h1v1h-1zM23 28h1v1h-1zM21 30h1v1h-1zM20 31h1v1h-1zM20 32h1v1h-1zM19 33h1v1h-1zM18 35h1v1h-1zM18 36h1v1h-1zM17 37h2v1h-2zM17 38h1v1h-1zM17 39h1v1h-1zM17 40h1v1h-1zM16 42h2v1h-2zM16 43h1v1h-1zM16 44h1v1h-1zM16 45h1v1h-1zM16 46h1v1h-1zM16 47h1v1h-1zM16 48h1v1h-1z"/><path fill="#E7E5CE" d="M6 0h1v1h-1zM5 1h1v1h-1zM5 2h2v1h-2zM5 3h1v1h-1zM5 4h1v1h-1zM4 7h1v1h-1zM4 8h1v1h-1zM3 9h1v1h-1zM1 10h2v1h-2zM47 13h2v1h-2zM44 14h3v1h-3zM38 15h6v1h-6zM37 16h2v1h-2zM35 17h2v1h-2zM33 18h1v1h-1zM31 19h1v1h-1zM30 21h1v1h-1zM28 22h2v1h-2zM27 23h1v1h-1zM26 24h1v1h-1zM24 25h2v1h-2zM24 26h1v1h-1zM23 27h1v1h-1zM22 29h1v1h-1zM19 32h1v1h-1zM18 33h1v1h-1zM18 34h1v1h-1zM16 39h1v1h-1zM16 40h1v1h-1zM16 41h1v1h-1zM15 46h1v1h-1zM15 47h1v1h-1zM15 48h1v1h-1z"/><path fill="#E7E5C2" d="M7 0h2v1h-2zM8 1h1v1h-1zM8 2h1v1h-1zM8 3h1v1h-1zM6 5h1v1h-1zM35 7h2v1h-2zM5 8h1v1h-1zM35 8h3v1h-3zM5 9h1v1h-1zM34 9h1v1h-1zM5 10h1v1h-1zM35 10h3v1h-3zM1 11h3v1h-3zM35 11h1v1h-1zM37 11h1v1h-1zM35 12h3v1h-3zM48 12h1v1h-1zM35 13h2v1h-2zM38 13h1v1h-1zM44 13h2v1h-2zM34 14h2v1h-2zM37 14h3v1h-3zM41 14h1v1h-1zM34 15h2v1h-2zM37 15h1v1h-1zM33 16h1v1h-1zM32 17h2v1h-2zM31 18h1v1h-1zM29 20h1v1h-1zM28 21h1v1h-1zM26 22h1v1h-1zM25 23h1v1h-1zM23 25h1v1h-1zM21 28h1v1h-1zM20 29h1v1h-1zM19 30h1v1h-1zM18 31h1v1h-1zM18 32h1v1h-1zM16 35h1v1h-1zM16 36h1v1h-1zM16 37h1v1h-1zM15 40h1v1h-1zM15 41h1v1h-1zM14 43h1v1h-1zM14 45h1v1h-1zM14 46h1v1h-1zM14 47h1v1h-1zM14 48h1v1h-1z"/><path fill="#E8E5BC" d="M9 0h1v1h-1zM43 0h2v1h-2zM9 1h2v1h-2zM47 1h1v1h-1zM9 2h1v1h-1zM9 3h1v1h-1zM7 4h1v1h-1zM36 5h1v1h-1zM6 6h1v1h-1zM36 6h1v1h-1zM6 7h1v1h-1zM34 7h1v1h-1zM37 7h2v1h-2zM6 8h1v1h-1zM34 8h1v1h-1zM38 8h1v1h-1zM37 9h2v1h-2zM4 10h1v1h-1zM33 10h2v1h-2zM38 10h2v1h-2zM4 11h1v1h-1zM33 11h1v1h-1zM38 11h1v1h-1zM0 12h2v1h-2zM3 12h1v1h-1zM28 12h1v1h-1zM33 12h2v1h-2zM38 12h1v1h-1zM46 12h2v1h-2zM2 13h1v1h-1zM33 13h2v1h-2zM39 13h5v1h-5zM33 14h1v1h-1zM40 14h1v1h-1zM32 16h1v1h-1zM31 17h1v1h-1zM30 19h1v1h-1zM28 20h1v1h-1zM26 21h2v1h-2zM25 22h1v1h-1zM24 23h1v1h-1zM23 24h1v1h-1zM22 26h1v1h-1zM20 27h2v1h-2zM19 28h1v1h-1zM19 29h1v1h-1zM17 33h1v1h-1zM16 34h1v1h-1zM15 37h1v1h-1zM15 38h1v1h-1zM15 39h1v1h-1zM14 42h1v1h-1zM14 44h1v1h-1zM13 48h1v1h-1z"/><path fill="#E8E5B6" d="M10 0h1v1h-1zM42 0h1v1h-1zM45 1h2v1h-2zM48 1h1v1h-1zM10 2h1v1h-1zM10 3h1v1h-1zM8 4h1v1h-1zM10 4h2v1h-2zM35 4h1v1h-1zM7 5h3v1h-3zM32 5h1v1h-1zM34 5h2v1h-2zM33 6h3v1h-3zM37 6h1v1h-1zM33 7h1v1h-1zM32 8h2v1h-2zM39 8h1v1h-1zM6 9h1v1h-1zM32 9h2v1h-2zM39 9h1v1h-1zM32 10h1v1h-1zM5 11h2v1h-2zM31 11h1v1h-1zM40 11h1v1h-1zM2 12h1v1h-1zM4 12h1v1h-1zM40 12h3v1h-3zM44 12h2v1h-2zM0 13h1v1h-1zM3 13h1v1h-1zM6 13h1v1h-1zM32 13h1v1h-1zM2 14h1v1h-1zM32 14h1v1h-1zM0 15h1v1h-1zM32 15h2v1h-2zM0 16h2v1h-2zM0 17h1v1h-1zM30 17h1v1h-1zM30 18h1v1h-1zM28 19h2v1h-2zM27 20h1v1h-1zM24 21h2v1h-2zM23 23h1v1h-1zM22 24h1v1h-1zM22 25h1v1h-1zM21 26h1v1h-1zM18 29h1v1h-1zM17 31h1v1h-1zM17 32h1v1h-1zM16 33h1v1h-1zM15 34h1v1h-1zM14 35h1v1h-1zM14 36h2v1h-2zM14 39h1v1h-1zM14 40h1v1h-1zM14 41h1v1h-1zM13 45h1v1h-1zM13 47h1v1h-1z"/><path fill="#E9E5B1" d="M11 0h1v1h-1zM11 1h1v1h-1zM43 1h2v1h-2zM11 2h1v1h-1zM35 2h1v1h-1zM47 2h1v1h-1zM12 3h1v1h-1zM33 3h2v1h-2zM36 3h1v1h-1zM9 4h1v1h-1zM32 4h3v1h-3zM36 4h1v1h-1zM10 5h1v1h-1zM33 5h1v1h-1zM37 5h1v1h-1zM7 6h2v1h-2zM32 6h1v1h-1zM38 6h1v1h-1zM7 7h1v1h-1zM7 8h1v1h-1zM40 8h1v1h-1zM40 9h1v1h-1zM6 10h2v1h-2zM31 10h1v1h-1zM40 10h1v1h-1zM7 11h1v1h-1zM32 11h1v1h-1zM39 11h1v1h-1zM41 11h1v1h-1zM46 11h3v1h-3zM5 12h2v1h-2zM32 12h1v1h-1zM39 12h1v1h-1zM43 12h1v1h-1zM1 13h1v1h-1zM4 13h2v1h-2zM0 14h2v1h-2zM3 14h2v1h-2zM6 14h2v1h-2zM30 14h2v1h-2zM1 15h3v1h-3zM5 15h1v1h-1zM7 15h1v1h-1zM31 15h1v1h-1zM2 16h2v1h-2zM30 16h2v1h-2zM1 17h1v1h-1zM3 17h1v1h-1zM0 18h1v1h-1zM0 19h2v1h-2zM0 20h2v1h-2zM26 20h1v1h-1zM0 21h1v1h-1zM1 22h1v1h-1zM21 22h1v1h-1zM24 22h1v1h-1zM22 23h1v1h-1zM21 24h1v1h-1zM21 25h1v1h-1zM19 26h1v1h-1zM19 27h1v1h-1zM18 28h1v1h-1zM20 28h1v1h-1zM18 30h1v1h-1zM16 32h1v1h-1zM15 33h1v1h-1zM14 34h1v1h-1zM15 35h1v1h-1zM14 37h1v1h-1zM14 38h1v1h-1zM13 42h1v1h-1zM13 43h1v1h-1zM12 44h2v1h-2zM13 46h1v1h-1zM12 48h1v1h-1z"/><path fill="#E9E5AB" d="M12 0h2v1h-2zM32 0h2v1h-2zM35 0h1v1h-1zM12 1h1v1h-1zM34 1h3v1h-3zM12 2h1v1h-1zM30 2h1v1h-1zM32 2h1v1h-1zM34 2h1v1h-1zM45 2h2v1h-2zM11 3h1v1h-1zM13 3h1v1h-1zM32 3h1v1h-1zM35 3h1v1h-1zM37 3h1v1h-1zM13 4h1v1h-1zM31 4h1v1h-1zM37 4h1v1h-1zM12 5h1v1h-1zM38 5h1v1h-1zM9 6h2v1h-2zM31 6h1v1h-1zM8 7h1v1h-1zM30 7h2v1h-2zM39 7h2v1h-2zM13 8h1v1h-1zM29 8h3v1h-3zM7 9h1v1h-1zM12 9h1v1h-1zM30 9h2v1h-2zM9 10h1v1h-1zM11 10h2v1h-2zM30 10h1v1h-1zM41 10h1v1h-1zM8 11h1v1h-1zM10 11h1v1h-1zM28 11h1v1h-1zM30 11h1v1h-1zM44 11h2v1h-2zM7 12h3v1h-3zM11 12h2v1h-2zM30 12h2v1h-2zM7 13h2v1h-2zM10 13h1v1h-1zM30 13h2v1h-2zM5 14h1v1h-1zM8 14h1v1h-1zM4 15h1v1h-1zM6 15h1v1h-1zM4 16h1v1h-1zM9 16h1v1h-1zM15 16h1v1h-1zM2 17h1v1h-1zM4 17h4v1h-4zM1 18h2v1h-2zM26 18h1v1h-1zM28 18h2v1h-2zM4 19h1v1h-1zM26 19h2v1h-2zM22 20h1v1h-1zM24 20h1v1h-1zM20 21h1v1h-1zM23 21h1v1h-1zM22 22h2v1h-2zM20 23h2v1h-2zM1 24h1v1h-1zM20 25h1v1h-1zM17 26h1v1h-1zM20 26h1v1h-1zM16 29h2v1h-2zM17 30h1v1h-1zM15 31h2v1h-2zM15 32h1v1h-1zM13 38h1v1h-1zM13 40h1v1h-1zM12 43h1v1h-1zM12 46h1v1h-1zM0 47h1v1h-1zM12 47h1v1h-1zM0 48h2v1h-2z"/><path fill="#EAE59F" d="M14 0h1v1h-1zM34 0h1v1h-1zM37 0h4v1h-4zM15 1h1v1h-1zM38 1h1v1h-1zM42 1h1v1h-1zM15 2h1v1h-1zM31 2h1v1h-1zM37 2h2v1h-2zM48 2h1v1h-1zM14 3h1v1h-1zM16 3h1v1h-1zM19 3h1v1h-1zM28 3h1v1h-1zM38 3h1v1h-1zM43 3h1v1h-1zM46 3h1v1h-1zM26 4h1v1h-1zM39 4h1v1h-1zM15 5h1v1h-1zM23 5h1v1h-1zM26 5h1v1h-1zM29 5h2v1h-2zM11 6h1v1h-1zM22 6h1v1h-1zM26 6h1v1h-1zM41 6h1v1h-1zM14 7h1v1h-1zM21 7h1v1h-1zM23 7h2v1h-2zM9 8h1v1h-1zM11 8h1v1h-1zM27 8h2v1h-2zM42 8h1v1h-1zM8 9h3v1h-3zM14 9h1v1h-1zM16 9h1v1h-1zM20 9h2v1h-2zM27 9h2v1h-2zM42 9h1v1h-1zM8 10h1v1h-1zM14 10h3v1h-3zM18 10h1v1h-1zM43 10h1v1h-1zM46 10h1v1h-1zM15 11h1v1h-1zM29 11h1v1h-1zM13 12h3v1h-3zM17 12h3v1h-3zM11 13h1v1h-1zM13 13h1v1h-1zM16 13h2v1h-2zM20 13h1v1h-1zM28 13h1v1h-1zM9 14h2v1h-2zM12 14h1v1h-1zM14 14h1v1h-1zM19 14h1v1h-1zM24 14h1v1h-1zM9 15h1v1h-1zM12 15h1v1h-1zM15 15h3v1h-3zM19 15h1v1h-1zM21 15h1v1h-1zM7 16h1v1h-1zM13 16h1v1h-1zM17 16h1v1h-1zM26 16h1v1h-1zM28 16h1v1h-1zM8 17h3v1h-3zM12 17h1v1h-1zM15 17h1v1h-1zM18 17h1v1h-1zM20 17h1v1h-1zM24 17h1v1h-1zM26 17h2v1h-2zM5 18h3v1h-3zM9 18h1v1h-1zM12 18h2v1h-2zM16 18h1v1h-1zM21 18h1v1h-1zM23 18h2v1h-2zM27 18h1v1h-1zM5 19h1v1h-1zM11 19h1v1h-1zM13 19h5v1h-5zM20 19h4v1h-4zM25 19h1v1h-1zM3 20h1v1h-1zM5 20h1v1h-1zM13 20h2v1h-2zM18 20h1v1h-1zM23 20h1v1h-1zM3 21h1v1h-1zM15 21h1v1h-1zM22 21h1v1h-1zM0 22h1v1h-1zM3 22h2v1h-2zM9 22h1v1h-1zM14 22h2v1h-2zM17 22h1v1h-1zM20 22h1v1h-1zM2 23h2v1h-2zM6 23h1v1h-1zM12 23h2v1h-2zM15 23h2v1h-2zM19 23h1v1h-1zM0 24h1v1h-1zM2 24h1v1h-1zM16 24h4v1h-4zM0 25h3v1h-3zM11 25h1v1h-1zM14 25h1v1h-1zM16 25h1v1h-1zM18 25h1v1h-1zM0 26h2v1h-2zM18 26h1v1h-1zM13 27h1v1h-1zM17 27h1v1h-1zM0 28h1v1h-1zM5 28h1v1h-1zM17 28h1v1h-1zM0 29h3v1h-3zM14 29h2v1h-2zM2 30h1v1h-1zM14 30h2v1h-2zM0 31h1v1h-1zM12 31h1v1h-1zM12 32h3v1h-3zM0 33h2v1h-2zM13 33h1v1h-1zM0 34h1v1h-1zM12 35h2v1h-2zM0 36h1v1h-1zM13 36h1v1h-1zM0 37h1v1h-1zM12 37h1v1h-1zM12 39h1v1h-1zM1 40h1v1h-1zM11 40h1v1h-1zM0 41h1v1h-1zM11 41h2v1h-2zM2 43h1v1h-1zM0 44h1v1h-1zM3 44h1v1h-1zM11 44h1v1h-1zM0 45h3v1h-3zM11 45h1v1h-1zM0 46h1v1h-1zM2 47h2v1h-2zM10 48h1v1h-1z"/><path fill="#EAE494" d="M15 0h1v1h-1zM17 0h1v1h-1zM26 0h1v1h-1zM28 0h1v1h-1zM19 1h1v1h-1zM27 1h1v1h-1zM39 1h2v1h-2zM19 2h1v1h-1zM26 2h2v1h-2zM40 2h1v1h-1zM42 2h1v1h-1zM15 3h1v1h-1zM23 3h1v1h-1zM25 3h2v1h-2zM29 3h1v1h-1zM48 3h1v1h-1zM18 4h4v1h-4zM24 4h1v1h-1zM27 4h1v1h-1zM41 4h2v1h-2zM44 4h1v1h-1zM46 4h1v1h-1zM17 5h2v1h-2zM20 5h1v1h-1zM24 5h1v1h-1zM28 5h1v1h-1zM40 5h2v1h-2zM43 5h1v1h-1zM45 5h1v1h-1zM17 6h1v1h-1zM21 6h1v1h-1zM25 6h1v1h-1zM28 6h1v1h-1zM43 6h1v1h-1zM17 7h1v1h-1zM19 7h1v1h-1zM22 7h1v1h-1zM25 7h2v1h-2zM18 8h3v1h-3zM25 8h1v1h-1zM19 9h1v1h-1zM22 9h1v1h-1zM44 9h2v1h-2zM23 10h2v1h-2zM20 11h1v1h-1zM22 11h1v1h-1zM24 12h1v1h-1zM21 13h2v1h-2zM24 13h1v1h-1zM22 14h1v1h-1zM24 15h1v1h-1zM26 15h2v1h-2zM22 16h4v1h-4zM21 17h1v1h-1zM23 17h1v1h-1zM19 18h2v1h-2zM7 19h1v1h-1zM9 19h2v1h-2zM6 20h3v1h-3zM6 21h2v1h-2zM10 21h2v1h-2zM13 21h1v1h-1zM6 22h2v1h-2zM10 22h1v1h-1zM4 23h1v1h-1zM7 23h1v1h-1zM11 23h1v1h-1zM14 23h1v1h-1zM6 24h1v1h-1zM10 24h1v1h-1zM4 25h1v1h-1zM3 26h1v1h-1zM6 26h1v1h-1zM1 27h2v1h-2zM4 27h1v1h-1zM3 28h1v1h-1zM14 28h1v1h-1zM7 29h1v1h-1zM12 29h2v1h-2zM7 30h1v1h-1zM9 30h2v1h-2zM2 31h2v1h-2zM13 31h1v1h-1zM4 32h3v1h-3zM10 32h2v1h-2zM4 33h1v1h-1zM6 33h1v1h-1zM9 33h1v1h-1zM12 33h1v1h-1zM2 34h1v1h-1zM4 34h1v1h-1zM9 34h1v1h-1zM1 35h1v1h-1zM3 35h1v1h-1zM5 35h1v1h-1zM1 36h1v1h-1zM3 36h2v1h-2zM11 36h2v1h-2zM2 37h1v1h-1zM0 38h1v1h-1zM11 38h1v1h-1zM0 39h3v1h-3zM4 40h2v1h-2zM8 40h1v1h-1zM2 41h1v1h-1zM9 42h2v1h-2zM10 43h1v1h-1zM7 44h1v1h-1zM9 44h1v1h-1zM4 45h2v1h-2zM5 46h1v1h-1zM7 46h1v1h-1zM10 46h1v1h-1zM4 47h2v1h-2zM7 47h1v1h-1zM9 47h1v1h-1zM3 48h1v1h-1zM6 48h1v1h-1z"/><path fill="#EAE599" d="M16 0h1v1h-1zM18 0h1v1h-1zM29 0h1v1h-1zM16 1h1v1h-1zM28 1h3v1h-3zM41 1h1v1h-1zM16 2h2v1h-2zM25 2h1v1h-1zM29 2h1v1h-1zM39 2h1v1h-1zM41 2h1v1h-1zM17 3h2v1h-2zM27 3h1v1h-1zM42 3h1v1h-1zM44 3h2v1h-2zM47 3h1v1h-1zM15 4h1v1h-1zM22 4h2v1h-2zM25 4h1v1h-1zM28 4h2v1h-2zM38 4h1v1h-1zM43 4h1v1h-1zM16 5h1v1h-1zM19 5h1v1h-1zM21 5h1v1h-1zM25 5h1v1h-1zM39 5h1v1h-1zM16 6h1v1h-1zM18 6h3v1h-3zM23 6h2v1h-2zM27 6h1v1h-1zM15 7h2v1h-2zM20 7h1v1h-1zM27 7h1v1h-1zM41 7h1v1h-1zM15 8h2v1h-2zM21 8h3v1h-3zM43 8h1v1h-1zM15 9h1v1h-1zM17 9h1v1h-1zM24 9h3v1h-3zM13 10h1v1h-1zM19 10h4v1h-4zM45 10h1v1h-1zM47 10h2v1h-2zM17 11h3v1h-3zM21 11h1v1h-1zM21 12h1v1h-1zM18 13h2v1h-2zM13 14h1v1h-1zM16 14h3v1h-3zM28 14h1v1h-1zM10 15h2v1h-2zM14 15h1v1h-1zM18 15h1v1h-1zM20 15h1v1h-1zM22 15h1v1h-1zM25 15h1v1h-1zM16 16h1v1h-1zM18 16h4v1h-4zM27 16h1v1h-1zM13 17h2v1h-2zM17 17h1v1h-1zM22 17h1v1h-1zM25 17h1v1h-1zM28 17h1v1h-1zM8 18h1v1h-1zM10 18h2v1h-2zM14 18h1v1h-1zM18 18h1v1h-1zM22 18h1v1h-1zM25 18h1v1h-1zM6 19h1v1h-1zM8 19h1v1h-1zM12 19h1v1h-1zM4 20h1v1h-1zM11 20h2v1h-2zM16 20h1v1h-1zM4 21h1v1h-1zM8 21h1v1h-1zM12 21h1v1h-1zM16 21h1v1h-1zM5 22h1v1h-1zM11 22h3v1h-3zM16 22h1v1h-1zM19 22h1v1h-1zM5 23h1v1h-1zM8 23h1v1h-1zM17 23h2v1h-2zM3 24h3v1h-3zM9 24h1v1h-1zM11 24h5v1h-5zM3 25h1v1h-1zM12 25h2v1h-2zM15 25h1v1h-1zM2 26h1v1h-1zM14 26h1v1h-1zM3 27h1v1h-1zM5 27h1v1h-1zM11 27h1v1h-1zM14 27h3v1h-3zM2 28h1v1h-1zM4 28h1v1h-1zM9 28h1v1h-1zM11 28h1v1h-1zM15 28h1v1h-1zM3 29h1v1h-1zM0 30h1v1h-1zM4 30h1v1h-1zM13 30h1v1h-1zM1 31h1v1h-1zM4 31h1v1h-1zM0 32h3v1h-3zM2 33h2v1h-2zM1 34h1v1h-1zM12 34h2v1h-2zM0 35h1v1h-1zM2 35h1v1h-1zM9 35h1v1h-1zM11 37h1v1h-1zM1 38h1v1h-1zM12 38h1v1h-1zM10 40h1v1h-1zM12 40h1v1h-1zM10 41h1v1h-1zM2 42h1v1h-1zM1 43h1v1h-1zM11 43h1v1h-1zM1 44h1v1h-1zM8 44h1v1h-1zM10 44h1v1h-1zM3 45h1v1h-1zM7 45h1v1h-1zM10 45h1v1h-1zM2 46h3v1h-3zM8 46h2v1h-2zM11 46h1v1h-1zM2 48h1v1h-1zM7 48h1v1h-1zM9 48h1v1h-1z"/><path fill="#EBE48E" d="M19 0h2v1h-2zM27 0h1v1h-1zM17 1h1v1h-1zM20 1h1v1h-1zM22 1h1v1h-1zM18 2h1v1h-1zM23 2h1v1h-1zM20 3h3v1h-3zM24 3h1v1h-1zM39 3h3v1h-3zM40 4h1v1h-1zM45 4h1v1h-1zM47 4h1v1h-1zM22 5h1v1h-1zM27 5h1v1h-1zM44 5h1v1h-1zM18 7h1v1h-1zM42 7h1v1h-1zM26 8h1v1h-1zM23 9h1v1h-1zM43 9h1v1h-1zM46 9h1v1h-1zM23 11h2v1h-2zM22 12h2v1h-2zM23 13h1v1h-1zM20 14h2v1h-2zM23 14h1v1h-1zM25 14h1v1h-1zM9 20h2v1h-2zM5 21h1v1h-1zM9 21h1v1h-1zM9 23h2v1h-2zM7 24h2v1h-2zM5 25h1v1h-1zM10 25h1v1h-1zM4 26h2v1h-2zM7 26h1v1h-1zM11 26h3v1h-3zM10 27h1v1h-1zM12 27h1v1h-1zM6 28h1v1h-1zM12 28h2v1h-2zM6 29h1v1h-1zM9 29h1v1h-1zM11 29h1v1h-1zM3 30h1v1h-1zM5 30h2v1h-2zM8 30h1v1h-1zM11 30h2v1h-2zM8 31h4v1h-4zM14 31h1v1h-1zM9 32h1v1h-1zM5 33h1v1h-1zM7 33h1v1h-1zM10 33h1v1h-1zM3 34h1v1h-1zM5 34h2v1h-2zM11 34h1v1h-1zM10 35h2v1h-2zM7 36h1v1h-1zM9 36h2v1h-2zM1 37h1v1h-1zM3 37h1v1h-1zM6 37h1v1h-1zM8 37h1v1h-1zM2 38h3v1h-3zM7 38h3v1h-3zM3 39h1v1h-1zM10 39h1v1h-1zM2 40h1v1h-1zM6 40h1v1h-1zM3 41h2v1h-2zM6 41h1v1h-1zM3 42h1v1h-1zM5 42h1v1h-1zM7 42h2v1h-2zM3 43h1v1h-1zM5 43h3v1h-3zM2 44h1v1h-1zM5 44h2v1h-2zM8 45h2v1h-2zM6 46h1v1h-1zM6 47h1v1h-1zM5 48h1v1h-1z"/><path fill="#ECE482" d="M21 0h2v1h-2zM21 1h1v1h-1zM23 1h2v1h-2zM26 1h1v1h-1zM44 6h1v1h-1zM27 10h1v1h-1zM8 25h2v1h-2zM8 28h1v1h-1zM10 28h1v1h-1zM5 29h1v1h-1zM5 31h1v1h-1zM8 34h1v1h-1zM5 36h1v1h-1zM7 37h1v1h-1zM9 37h1v1h-1zM10 38h1v1h-1zM7 39h1v1h-1zM9 39h1v1h-1zM8 41h1v1h-1zM6 45h1v1h-1z"/><path fill="#EDE471" d="M23 0h1v1h-1zM47 6h1v1h-1zM48 7h1v1h-1zM26 10h1v1h-1zM27 11h1v1h-1z"/><path fill="#ECE476" d="M24 0h1v1h-1zM48 5h1v1h-1zM45 6h1v1h-1zM46 7h2v1h-2zM47 8h2v1h-2zM48 9h1v1h-1zM25 10h1v1h-1zM25 11h1v1h-1zM25 12h1v1h-1z"/><path fill="#ECE47C" d="M25 0h1v1h-1zM25 1h1v1h-1zM46 5h2v1h-2zM46 6h1v1h-1zM45 7h1v1h-1zM45 8h1v1h-1zM25 13h1v1h-1zM26 14h2v1h-2zM7 27h1v1h-1zM4 37h1v1h-1zM5 38h1v1h-1zM4 39h1v1h-1zM7 41h1v1h-1z"/><path fill="#E9E5A5" d="M30 0h2v1h-2zM36 0h1v1h-1zM41 0h1v1h-1zM13 1h2v1h-2zM31 1h3v1h-3zM37 1h1v1h-1zM13 2h2v1h-2zM28 2h1v1h-1zM33 2h1v1h-1zM36 2h1v1h-1zM43 2h2v1h-2zM30 3h2v1h-2zM12 4h1v1h-1zM14 4h1v1h-1zM16 4h2v1h-2zM30 4h1v1h-1zM11 5h1v1h-1zM13 5h2v1h-2zM31 5h1v1h-1zM12 6h4v1h-4zM29 6h2v1h-2zM39 6h2v1h-2zM9 7h5v1h-5zM28 7h2v1h-2zM32 7h1v1h-1zM8 8h1v1h-1zM10 8h1v1h-1zM12 8h1v1h-1zM14 8h1v1h-1zM17 8h1v1h-1zM41 8h1v1h-1zM11 9h1v1h-1zM13 9h1v1h-1zM18 9h1v1h-1zM29 9h1v1h-1zM41 9h1v1h-1zM10 10h1v1h-1zM17 10h1v1h-1zM28 10h2v1h-2zM42 10h1v1h-1zM44 10h1v1h-1zM9 11h1v1h-1zM11 11h4v1h-4zM16 11h1v1h-1zM42 11h2v1h-2zM10 12h1v1h-1zM16 12h1v1h-1zM20 12h1v1h-1zM29 12h1v1h-1zM9 13h1v1h-1zM12 13h1v1h-1zM14 13h2v1h-2zM29 13h1v1h-1zM11 14h1v1h-1zM15 14h1v1h-1zM29 14h1v1h-1zM8 15h1v1h-1zM13 15h1v1h-1zM28 15h3v1h-3zM5 16h2v1h-2zM8 16h1v1h-1zM10 16h3v1h-3zM14 16h1v1h-1zM29 16h1v1h-1zM11 17h1v1h-1zM16 17h1v1h-1zM19 17h1v1h-1zM29 17h1v1h-1zM3 18h2v1h-2zM15 18h1v1h-1zM17 18h1v1h-1zM2 19h2v1h-2zM18 19h2v1h-2zM24 19h1v1h-1zM2 20h1v1h-1zM15 20h1v1h-1zM17 20h1v1h-1zM19 20h3v1h-3zM25 20h1v1h-1zM1 21h2v1h-2zM14 21h1v1h-1zM17 21h3v1h-3zM21 21h1v1h-1zM2 22h1v1h-1zM18 22h1v1h-1zM0 23h2v1h-2zM20 24h1v1h-1zM17 25h1v1h-1zM19 25h1v1h-1zM15 26h2v1h-2zM0 27h1v1h-1zM18 27h1v1h-1zM1 28h1v1h-1zM16 28h1v1h-1zM1 30h1v1h-1zM16 30h1v1h-1zM14 33h1v1h-1zM13 37h1v1h-1zM13 39h1v1h-1zM0 40h1v1h-1zM1 41h1v1h-1zM13 41h1v1h-1zM0 42h2v1h-2zM11 42h2v1h-2zM0 43h1v1h-1zM12 45h1v1h-1zM1 46h1v1h-1zM1 47h1v1h-1zM8 47h1v1h-1zM10 47h2v1h-2zM8 48h1v1h-1zM11 48h1v1h-1z"/><path fill="#E7E5C8" d="M45 0h4v1h-4zM6 1h2v1h-2zM7 2h1v1h-1zM6 3h2v1h-2zM6 4h1v1h-1zM5 6h1v1h-1zM5 7h1v1h-1zM4 9h1v1h-1zM35 9h2v1h-2zM0 10h1v1h-1zM3 10h1v1h-1zM0 11h1v1h-1zM34 11h1v1h-1zM36 11h1v1h-1zM37 13h1v1h-1zM46 13h1v1h-1zM36 14h1v1h-1zM42 14h2v1h-2zM36 15h1v1h-1zM34 16h3v1h-3zM34 17h1v1h-1zM32 18h1v1h-1zM30 20h1v1h-1zM29 21h1v1h-1zM27 22h1v1h-1zM26 23h1v1h-1zM24 24h2v1h-2zM23 26h1v1h-1zM22 27h1v1h-1zM22 28h1v1h-1zM21 29h1v1h-1zM20 30h1v1h-1zM19 31h1v1h-1zM17 34h1v1h-1zM17 35h1v1h-1zM17 36h1v1h-1zM16 38h1v1h-1zM15 42h1v1h-1zM15 43h1v1h-1zM15 44h1v1h-1zM15 45h1v1h-1z"/><path fill="#EBE488" d="M18 1h1v1h-1zM20 2h3v1h-3zM24 2h1v1h-1zM48 4h1v1h-1zM42 5h1v1h-1zM42 6h1v1h-1zM43 7h2v1h-2zM24 8h1v1h-1zM44 8h1v1h-1zM46 8h1v1h-1zM47 9h1v1h-1zM23 15h1v1h-1zM8 22h1v1h-1zM6 25h2v1h-2zM8 26h3v1h-3zM6 27h1v1h-1zM8 27h2v1h-2zM7 28h1v1h-1zM4 29h1v1h-1zM8 29h1v1h-1zM10 29h1v1h-1zM6 31h2v1h-2zM3 32h1v1h-1zM7 32h2v1h-2zM8 33h1v1h-1zM11 33h1v1h-1zM7 34h1v1h-1zM10 34h1v1h-1zM4 35h1v1h-1zM6 35h3v1h-3zM2 36h1v1h-1zM6 36h1v1h-1zM8 36h1v1h-1zM5 37h1v1h-1zM10 37h1v1h-1zM6 38h1v1h-1zM5 39h2v1h-2zM8 39h1v1h-1zM11 39h1v1h-1zM3 40h1v1h-1zM7 40h1v1h-1zM9 40h1v1h-1zM5 41h1v1h-1zM9 41h1v1h-1zM4 42h1v1h-1zM6 42h1v1h-1zM4 43h1v1h-1zM8 43h2v1h-2zM4 44h1v1h-1zM4 48h1v1h-1z"/><path fill="#EEE45F" d="M48 6h1v1h-1z"/><path fill="#E5E5DF" d="M1 7h1v1h-1zM42 17h6v1h-6zM40 18h9v1h-9zM37 19h12v1h-12zM33 20h6v1h-6zM46 20h3v1h-3zM33 21h3v1h-3zM32 22h3v1h-3zM32 23h4v1h-4zM31 24h5v1h-5zM29 25h6v1h-6zM28 26h5v1h-5zM26 27h3v1h-3zM25 28h3v1h-3zM24 29h3v1h-3zM24 30h2v1h-2zM23 31h3v1h-3zM22 32h4v1h-4zM21 33h5v1h-5zM20 34h5v1h-5zM20 35h5v1h-5zM20 36h2v1h-2zM20 37h2v1h-2zM20 38h2v1h-2zM20 39h1v1h-1zM19 40h2v1h-2zM19 41h2v1h-2zM18 42h3v1h-3zM19 43h2v1h-2zM18 44h4v1h-4zM19 45h2v1h-2zM18 46h3v1h-3zM18 47h4v1h-4zM18 48h4v1h-4z"/><path fill="#F0E442" d="M26 11h1v1h-1zM26 13h1v1h-1z"/><path fill="#EED534" d="M26 12h1v1h-1z"/><path fill="#EFDF3D" d="M27 12h1v1h-1z"/><path fill="#F0E240" d="M27 13h1v1h-1z"/><path fill="#E5E5E5" d="M39 20h7v1h-7zM36 21h13v1h-13zM35 22h14v1h-14zM36 23h13v1h-13zM36 24h13v1h-13zM35 25h14v1h-14zM33 26h16v1h-16zM29 27h20v1h-20zM28 28h21v1h-21zM27 29h22v1h-22zM26 30h23v1h-23zM26 31h23v1h-23zM26 32h23v1h-23zM26 33h23v1h-23zM25 34h24v1h-24zM25 35h24v1h-24zM22 36h27v1h-27zM22 37h27v1h-27zM22 38h27v1h-27zM21 39h28v1h-28zM21 40h28v1h-28zM21 41h28v1h-28zM21 42h28v1h-28zM21 43h28v1h-28zM22 44h27v1h-27zM21 45h28v1h-28zM21 46h28v1h-28zM22 47h27v1h-27zM22 48h27v1h-27z"/></g><path d="M26.8 32.0L60.7 35.4L95.5 38.8L123.2 40.7M96.6 26.8L95.5 38.8M123.2 40.7L122.3 58.9L121.1 87.5L119.3 114.3M122.9 58.9L150.0 60.4L185.0 61.6L202.9 61.2L218.0 60.5L217.2 60.6M26.8 106.4L60.7 109.6L105.4 113.8L119.3 114.6L150.0 116.1L185.0 117.0L202.9 116.8L229.1 116.1M105.7 113.8L104.8 123.2L102.7 150.0L101.4 170.0L100.0 187.9L98.6 206.2M104.8 123.2L126.8 124.5L149.5 125.5L148.9 141.1L148.2 161.1M148.3 160.5L150.0 161.6L152.3 163.9L155.2 164.1L158.0 163.3L160.3 165.0L160.9 167.3L163.8 167.9L167.2 169.4L170.0 169.4L171.8 170.8L173.5 169.6L176.9 169.4L178.1 171.3L179.8 174.8L181.5 173.6L183.8 172.5L186.1 173.6L188.9 175.9L190.6 174.8L192.3 177.1L193.5 175.3L195.2 173.3L197.5 174.8L199.8 174.0L201.5 175.6L204.4 177.8L207.2 175.9L210.7 174.4L214.1 173.6L216.4 173.1L219.2 174.2L222.1 172.5L225.5 174.8L229.0 176.5L232.4 177.6L234.1 179.3L237.0 179.3L240.0 179.3M206.1 28.3L207.2 31.1L208.5 32.6L209.4 34.4L210.2 37.2L210.3 39.5L210.6 41.7L210.8 43.6L210.8 45.6L211.1 47.2L211.7 48.9L212.4 50.6L213.3 52.2L214.5 53.7L215.0 55.6L216.7 58.3L217.8 60.8L220.0 62.2L222.2 63.9L223.9 63.0L224.7 64.8L222.8 66.7L221.1 68.9L222.8 71.1L225.0 73.3L226.7 75.9L229.4 76.7M229.4 76.7L229.7 97.2L229.8 118.0L229.6 125.0L231.1 139.3L232.3 153.6L233.2 167.9L233.8 170.0L234.1 178.0L240.0 179.3M211.7 49.2L233.3 49.4L250.0 48.9L268.9 47.2L271.1 50.0L272.8 52.2M286.1 28.6L284.4 30.2L282.2 31.1L279.9 31.6L277.8 32.6L276.7 35.6L278.9 37.8L279.2 39.7L279.1 41.7L278.4 43.7L277.2 45.6L275.3 46.3L273.9 47.8L272.8 50.0L273.0 52.2L272.6 53.9L272.2 55.6L272.3 57.3L273.0 58.9L273.3 60.6L274.3 62.3L275.6 63.9L277.4 65.3L278.9 67.2L280.5 68.7L282.2 70.0L283.4 71.4L285.0 72.2L285.5 74.2L286.1 76.1L287.8 78.9L290.0 77.2L292.8 78.3L293.3 81.7L292.6 83.3L292.2 85.0L291.2 86.6L290.6 88.3L291.7 89.8L292.2 91.7L293.7 93.2L295.6 94.4L297.5 95.5L299.6 96.3L301.5 97.5L303.3 98.4L304.5 100.0L304.7 102.1L305.5 104.0L306.3 106.0L307.0 108.0L308.5 110.5L310.0 111.2L311.5 112.5L311.4 114.3L311.3 116.2L311.7 118.0L310.0 119.5L308.0 120.5L306.0 120.8L306.5 122.5L305.0 124.0L305.5 125.8L304.2 127.0L304.7 129.0L303.8 130.5L303.5 132.5L302.5 134.0L302.0 136.0L301.0 137.5L301.2 139.2L300.0 140.0L298.5 142.5L299.7 144.0L299.5 146.0L298.8 148.0L297.0 150.0L296.8 151.8L295.8 153.0L294.5 154.8L294.0 156.5L292.8 159.0L292.0 160.5L291.2 162.0L290.1 163.5L289.0 165.0L288.4 166.8L287.1 168.3L286.4 170.0L285.7 171.8L284.5 173.4L284.1 175.4L284.7 177.0L286.2 178.2L286.8 179.8L286.2 182.2L285.0 184.3L285.7 186.0L285.9 187.9L286.2 189.8L287.4 191.4L288.0 193.2L287.5 195.0L287.4 196.8L286.8 198.6L287.9 200.4L288.9 202.1L287.9 204.0L286.8 205.7L286.0 207.6L284.9 209.2L284.1 211.1L283.5 213.5L282.7 215.2L282.0 217.0L280.9 218.9L280.5 221.0L280.5 223.3L280.8 225.5M310.0 111.2L311.0 109.0L312.7 108.4L314.0 107.2L317.0 108.2L318.6 109.2L320.5 109.5L320.0 106.5L319.0 104.5L321.5 102.5L323.4 102.3L325.0 101.2L325.5 98.5L324.5 96.0L326.5 93.5L329.0 92.5L330.7 92.8L332.5 92.8L334.2 92.1L336.0 92.0L337.6 93.3L339.5 94.0L340.5 91.5L342.5 90.8M326.6 26.8L327.3 42.9L328.8 57.1L330.0 67.9L331.8 76.8L330.5 79.5L330.2 80.0L328.5 84.0L326.5 87.0L326.2 91.0L325.0 95.0L324.5 96.0M229.6 125.4L255.0 124.3L275.0 123.0L296.5 122.0L298.2 125.0L296.0 128.0L294.0 131.2L299.0 131.5L303.8 130.8M308.0 120.8L327.5 118.5L327.8 116.2L342.5 114.9M298.0 149.5L315.0 148.0L329.0 147.2L342.5 145.4M329.0 147.2L329.5 155.0L330.0 164.0L329.3 170.0L330.4 184.3L331.4 196.8L331.0 210.0L332.5 221.0L334.0 233.2M98.6 206.2L69.6 203.9L42.0 201.8L41.2 203.6L42.9 205.4L35.7 204.8L26.8 204.1M42.0 202.1L42.5 204.5L43.8 206.6L44.6 208.6L46.1 210.2L47.3 212.0L48.4 213.3L50.0 214.3L50.9 215.9L52.3 217.0L53.6 218.2L55.0 219.3L56.4 220.4L57.1 222.2L58.3 223.5L59.8 224.5L61.5 225.4L62.5 227.2L64.2 228.2L65.7 229.2L67.0 230.7L67.7 232.7L67.9 234.8L68.4 236.8L69.3 238.8L70.0 240.9L70.0 243.2L70.9 245.1L72.3 246.6L72.9 248.6L74.2 250.1L75.8 251.1L76.9 252.8L78.6 253.9L80.1 255.4L82.1 256.2L83.7 257.7L85.7 258.4L87.6 259.3L89.5 260.1L91.0 261.6L92.9 262.5L94.4 260.6L96.4 259.3L97.1 257.4L98.1 255.7L99.2 254.0L100.0 252.1L101.1 250.2L102.7 248.6L104.7 247.8L106.8 247.9L108.0 246.4L109.8 247.9L111.9 248.3L114.0 247.9L116.1 248.2L117.8 248.7L119.6 248.8L121.4 248.6L123.0 250.0L124.4 251.5L125.9 253.0L127.4 254.5L128.8 256.1L130.4 257.5L132.3 260.0L133.1 261.9L133.9 263.7L134.7 265.5L135.7 267.3L136.1 269.2L137.2 270.7L138.1 272.3L138.6 274.1L139.8 275.6L140.3 277.3L141.6 278.9L142.3 280.9L143.8 282.3L145.0 284.0L146.1 285.5L147.7 286.7L148.6 288.4L149.7 290.0L151.2 291.1L152.7 292.0L153.2 294.0L152.8 296.0L152.8 298.0L153.0 300.0L154.2 301.6L154.7 303.6L155.7 305.3L156.4 307.3L156.8 309.4L157.8 311.3L158.3 313.3L160.0 314.4L161.8 315.3L163.7 316.0L165.5 316.4L167.2 317.3L168.6 318.6L170.3 319.3L171.9 320.2L173.7 320.1L175.3 320.8L177.0 321.3L179.2 321.6L181.5 321.6L183.7 322.0L185.7 323.2L187.7 324.7L189.6 323.2L191.7 322.0M240.0 179.3L241.2 188.8L241.6 198.6L241.8 208.4L243.9 212.0M243.9 212.0L244.8 213.5L245.3 215.2L246.2 216.7L246.9 218.3L247.5 220.0L248.3 221.6L249.5 223.0L250.2 224.9L250.0 227.0L249.2 229.0L248.5 231.0L247.8 232.9L247.5 235.0L247.9 237.0L248.0 239.0L248.5 242.0L247.0 245.0L245.5 246.5L244.5 249.0L245.5 250.5L246.5 248.5L247.0 245.5M241.2 189.1L263.6 188.6L285.0 187.9M280.8 225.5L295.0 224.3L311.0 223.0L311.2 226.0L309.8 228.5L311.0 231.0L313.0 234.0L314.5 237.0L315.0 239.0M185.0 340.7L186.6 338.0L189.3 333.3L191.7 328.0L192.3 322.7L191.7 317.3L190.3 310.7L188.7 302.7L189.3 296.0L192.3 288.7L187.5 304.0L187.8 298.0L189.0 293.0L191.5 288.0L195.0 283.5L199.0 279.5L204.0 275.5L209.0 272.5L214.0 270.0L219.0 267.0L223.0 264.0L227.0 260.5L231.0 257.0L235.0 254.5L240.0 252.5L245.5 251.0L250.0 249.8L255.0 249.2L260.0 249.8L255.0 249.2L259.0 250.5L263.0 252.5L267.0 253.5L271.5 253.2L274.5 252.0L273.0 250.0L275.0 248.5L277.5 247.5L279.0 248.5L276.5 250.0L278.5 251.5L281.0 250.5L280.0 253.0L277.5 254.0L274.5 252.5L276.5 251.0L281.0 250.5L283.5 251.5L286.0 252.5L288.5 251.5L288.0 254.5L289.5 257.0L287.5 256.5L288.5 258.5L292.0 259.0L295.0 259.5L298.0 259.5L299.5 256.5L302.0 255.5L304.5 257.0L305.0 259.5L307.0 259.0L308.5 256.0L309.0 253.0L306.5 251.5L308.0 251.0L311.0 253.0L313.5 254.5L316.0 254.0L319.0 254.5L321.5 253.5L324.0 255.0L325.5 257.0L324.0 259.5L321.5 259.0L320.0 261.5L321.0 258.0L319.0 256.5L316.5 255.5L314.5 254.0L312.5 252.0L313.5 250.0L315.5 248.5L317.5 247.0L318.5 244.5L317.5 242.0L315.5 241.0L314.0 243.0L312.0 242.0L311.0 240.0L312.5 239.0L315.0 238.5L316.5 237.0L318.5 235.0L322.0 233.8L325.0 233.0L328.0 234.0L331.0 233.8L334.0 233.5L337.0 233.2L338.8 226.5L340.0 226.5L341.5 233.5L342.5 235.0L339.0 234.8L335.0 236.2M301.0 240.0L302.5 237.5L304.5 235.5L307.5 236.2L310.5 237.5L311.5 239.0L309.5 241.0L306.0 242.2L303.0 242.0L301.0 240.0M326.5 239.5L327.2 242.0L327.0 245.0M328.0 236.2L331.5 236.5M319.0 240.0L321.0 239.0L320.0 240.5M235.0 254.5L233.0 255.5L231.5 254.0L232.0 251.0L230.0 250.0L229.0 252.5L226.5 251.8L227.5 254.5L229.0 257.0L230.0 256.0M234.0 254.8L230.0 257.5L226.0 259.5L224.0 262.0L226.5 260.0M214.0 270.0L212.8 270.9L211.2 270.3L210.0 271.2L207.5 270.8L206.4 271.8L205.0 272.0L204.0 270.0L202.0 271.0L203.0 273.0L202.0 274.0L200.5 274.0L199.0 276.0L200.0 278.0L198.5 278.6L197.0 279.0L195.0 280.5L192.5 281.0L191.0 283.0L191.8 284.2L193.0 285.0L191.7 286.2L190.0 286.0L188.5 288.0L187.1 287.5L186.0 286.5L186.8 287.6L187.0 289.0L188.0 290.1L189.5 290.0L188.0 292.0L187.1 293.6L186.0 295.0L184.6 294.1L183.0 294.5L182.0 296.5L183.6 296.2L185.0 297.0L187.5 296.5L185.9 297.5L184.0 298.0L181.5 297.5M191.7 322.0L190.3 318.7L188.3 313.3L186.6 306.7L185.3 304.0L187.4 302.4L188.7 298.7M180.3 336.7L183.0 335.3L185.3 333.1L186.6 334.1L184.7 336.3L183.4 337.3L182.6 340.7" fill="none" stroke="#000" stroke-width="0.75" stroke-linejoin="round" clip-path="url(#fc)"/><rect x="28.50" y="28.50" width="313.50" height="312.00" fill="none" stroke="#000" stroke-width="0.75"/><text x="185.25" y="18.7" font-size="12" font-weight="bold" text-anchor="middle">Model 1 - Model 2: O3_MDA8</text><text x="185.25" y="379.50" font-size="12" text-anchor="middle">Min = -0.0933 | Max = 8.41</text><text x="185.25" y="391.50" font-size="12" text-anchor="middle" style="white-space:pre">Mean: 1.79 |  Median: 1.79</text><rect x="390.60" y="44.10" width="8.00" height="281.40" fill="url(#gb)"/><rect x="390.60" y="44.10" width="8.00" height="281.40" fill="none" stroke="#000" stroke-width="0.75"/><path d="M398.60 46.46h6.2" stroke="#000" stroke-width="0.75"/><text transform="translate(410.8 50.50) scale(0.9 1)" font-size="11.2">35</text><path d="M398.60 85.92h6.2" stroke="#000" stroke-width="0.75"/><text transform="translate(410.8 89.96) scale(0.9 1)" font-size="11.2">30</text><path d="M398.60 125.38h6.2" stroke="#000" stroke-width="0.75"/><text transform="translate(410.8 129.42) scale(0.9 1)" font-size="11.2">25</text><path d="M398.60 164.84h6.2" stroke="#000" stroke-width="0.75"/><text transform="translate(410.8 168.88) scale(0.9 1)" font-size="11.2">20</text><path d="M398.60 204.30h6.2" stroke="#000" stroke-width="0.75"/><text transform="translate(410.8 208.34) scale(0.9 1)" font-size="11.2">15</text><path d="M398.60 243.76h6.2" stroke="#000" stroke-width="0.75"/><text transform="translate(410.8 247.80) scale(0.9 1)" font-size="11.2">10</text><path d="M398.60 283.22h6.2" stroke="#000" stroke-width="0.75"/><text transform="translate(410.8 287.26) scale(0.9 1)" font-size="11.2">5</text><path d="M398.60 322.68h6.2" stroke="#000" stroke-width="0.75"/><text transform="translate(410.8 326.72) scale(0.9 1)" font-size="11.2">0</text><text x="380.50" y="41.6" font-size="12">ppbV</text></g><g transform="translate(450 420)"><g transform="translate(37.10 37.10) scale(6.0367 6.0122)" shape-rendering="crispEdges"><path fill="#E6E5DD" d="M0 0h1v1h-1zM2 1h1v1h-1zM0 2h2v1h-2zM0 3h2v1h-2zM0 4h3v1h-3zM0 5h4v1h-4zM0 6h4v1h-4zM0 7h4v1h-4zM0 8h3v1h-3zM45 16h2v1h-2zM41 17h7v1h-7zM37 18h5v1h-5zM48 18h1v1h-1zM35 19h3v1h-3zM33 20h2v1h-2zM32 21h2v1h-2zM32 22h1v1h-1zM31 23h3v1h-3zM29 24h4v1h-4zM28 25h2v1h-2zM26 26h2v1h-2zM25 27h2v1h-2zM24 28h2v1h-2zM23 29h2v1h-2zM23 30h1v1h-1zM22 31h2v1h-2zM21 32h1v1h-1zM20 33h1v1h-1zM20 34h1v1h-1zM19 36h1v1h-1zM19 37h1v1h-1zM19 38h1v1h-1zM18 39h2v1h-2zM18 40h1v1h-1zM18 41h2v1h-2zM18 42h2v1h-2zM17 43h3v1h-3zM17 44h3v1h-3zM18 45h2v1h-2zM17 46h3v1h-3zM18 47h2v1h-2zM18 48h1v1h-1z"/><path fill="#E6E5D9" d="M1 0h5v1h-5zM0 1h2v1h-2zM3 1h2v1h-2zM2 2h3v1h-3zM2 3h3v1h-3zM3 4h2v1h-2zM4 5h2v1h-2zM4 6h1v1h-1zM3 8h1v1h-1zM0 9h3v1h-3zM48 13h1v1h-1zM47 14h2v1h-2zM44 15h5v1h-5zM39 16h1v1h-1zM41 16h4v1h-4zM38 17h3v1h-3zM48 17h1v1h-1zM36 18h1v1h-1zM34 19h1v1h-1zM32 20h1v1h-1zM31 22h1v1h-1zM30 23h1v1h-1zM28 24h1v1h-1zM26 25h2v1h-2zM25 26h1v1h-1zM24 27h1v1h-1zM23 28h1v1h-1zM22 30h1v1h-1zM20 31h2v1h-2zM20 32h1v1h-1zM19 33h1v1h-1zM19 34h1v1h-1zM18 35h2v1h-2zM18 37h1v1h-1zM17 38h2v1h-2zM17 39h1v1h-1zM17 40h1v1h-1zM17 41h1v1h-1zM16 42h2v1h-2zM16 44h1v1h-1zM16 45h2v1h-2zM17 47h1v1h-1zM17 48h1v1h-1z"/><path fill="#E6E5D5" d="M6 0h1v1h-1zM5 1h1v1h-1zM5 2h3v1h-3zM5 3h1v1h-1zM5 4h1v1h-1zM4 7h1v1h-1zM4 8h1v1h-1zM3 9h1v1h-1zM1 10h2v1h-2zM47 13h1v1h-1zM42 14h1v1h-1zM44 14h3v1h-3zM38 15h1v1h-1zM40 15h4v1h-4zM37 16h2v1h-2zM40 16h1v1h-1zM47 16h1v1h-1zM35 17h3v1h-3zM34 18h2v1h-2zM31 19h3v1h-3zM31 20h1v1h-1zM31 21h1v1h-1zM30 22h1v1h-1zM28 23h2v1h-2zM26 24h2v1h-2zM24 25h2v1h-2zM24 26h1v1h-1zM23 27h1v1h-1zM22 29h1v1h-1zM21 30h1v1h-1zM19 32h1v1h-1zM18 34h1v1h-1zM18 36h1v1h-1zM17 37h1v1h-1zM16 39h1v1h-1zM16 40h1v1h-1zM16 41h1v1h-1zM16 43h1v1h-1zM15 46h2v1h-2zM15 47h1v1h-1zM15 48h1v1h-1z"/><path fill="#E7E5CD" d="M7 0h1v1h-1zM9 0h1v1h-1zM46 0h1v1h-1zM9 2h1v1h-1zM7 5h1v1h-1zM6 6h1v1h-1zM6 7h1v1h-1zM35 7h2v1h-2zM5 8h2v1h-2zM36 8h2v1h-2zM5 9h1v1h-1zM35 9h1v1h-1zM4 10h2v1h-2zM35 10h3v1h-3zM1 11h3v1h-3zM35 11h3v1h-3zM0 12h2v1h-2zM3 12h1v1h-1zM36 12h2v1h-2zM46 12h2v1h-2zM2 13h1v1h-1zM35 13h4v1h-4zM43 13h3v1h-3zM34 14h2v1h-2zM37 14h3v1h-3zM41 14h1v1h-1zM34 15h2v1h-2zM37 15h1v1h-1zM33 16h1v1h-1zM35 16h1v1h-1zM33 17h1v1h-1zM31 18h1v1h-1zM30 20h1v1h-1zM28 21h1v1h-1zM27 22h1v1h-1zM24 23h2v1h-2zM21 28h1v1h-1zM20 29h1v1h-1zM19 31h1v1h-1zM18 32h1v1h-1zM17 34h1v1h-1zM17 35h1v1h-1zM15 37h2v1h-2zM15 40h1v1h-1zM15 41h1v1h-1zM15 42h1v1h-1zM15 43h1v1h-1zM14 45h1v1h-1zM14 46h1v1h-1zM16 48h1v1h-1z"/><path fill="#E6E5D1" d="M8 0h1v1h-1zM45 0h1v1h-1zM47 0h2v1h-2zM6 1h3v1h-3zM8 2h1v1h-1zM6 3h4v1h-4zM6 4h2v1h-2zM6 5h1v1h-1zM5 6h1v1h-1zM5 7h1v1h-1zM4 9h1v1h-1zM36 9h1v1h-1zM0 10h1v1h-1zM3 10h1v1h-1zM0 11h1v1h-1zM34 11h1v1h-1zM48 12h1v1h-1zM46 13h1v1h-1zM36 14h1v1h-1zM43 14h1v1h-1zM36 15h1v1h-1zM39 15h1v1h-1zM34 16h1v1h-1zM36 16h1v1h-1zM34 17h1v1h-1zM32 18h2v1h-2zM29 21h2v1h-2zM28 22h2v1h-2zM26 23h2v1h-2zM24 24h2v1h-2zM23 25h1v1h-1zM23 26h1v1h-1zM22 27h1v1h-1zM22 28h1v1h-1zM21 29h1v1h-1zM20 30h1v1h-1zM18 33h1v1h-1zM17 36h1v1h-1zM16 38h1v1h-1zM15 44h1v1h-1zM15 45h1v1h-1zM14 47h1v1h-1zM16 47h1v1h-1zM14 48h1v1h-1z"/><path fill="#E7E5C8" d="M10 0h1v1h-1zM44 0h1v1h-1zM9 1h2v1h-2zM47 1h1v1h-1zM10 2h1v1h-1zM10 3h1v1h-1zM8 4h4v1h-4zM8 5h2v1h-2zM32 5h1v1h-1zM36 5h1v1h-1zM7 6h1v1h-1zM36 6h2v1h-2zM7 7h1v1h-1zM34 7h1v1h-1zM37 7h4v1h-4zM7 8h1v1h-1zM35 8h1v1h-1zM38 8h1v1h-1zM34 9h1v1h-1zM37 9h2v1h-2zM33 10h2v1h-2zM38 10h1v1h-1zM4 11h3v1h-3zM33 11h1v1h-1zM38 11h1v1h-1zM2 12h1v1h-1zM4 12h1v1h-1zM28 12h1v1h-1zM33 12h3v1h-3zM44 12h2v1h-2zM0 13h2v1h-2zM3 13h1v1h-1zM6 13h1v1h-1zM33 13h2v1h-2zM39 13h4v1h-4zM1 14h2v1h-2zM32 14h2v1h-2zM40 14h1v1h-1zM0 15h1v1h-1zM32 15h1v1h-1zM0 16h2v1h-2zM32 16h1v1h-1zM31 17h2v1h-2zM30 19h1v1h-1zM29 20h1v1h-1zM25 22h2v1h-2zM23 23h1v1h-1zM22 24h2v1h-2zM22 25h1v1h-1zM22 26h1v1h-1zM21 27h1v1h-1zM19 28h1v1h-1zM19 30h1v1h-1zM18 31h1v1h-1zM17 33h1v1h-1zM16 34h1v1h-1zM16 35h1v1h-1zM16 36h1v1h-1zM15 38h1v1h-1zM14 39h2v1h-2zM14 44h1v1h-1zM13 45h1v1h-1zM13 47h1v1h-1zM13 48h1v1h-1z"/><path fill="#E7E5C4" d="M11 0h1v1h-1zM43 0h1v1h-1zM11 1h1v1h-1zM11 2h1v1h-1zM31 4h1v1h-1zM35 4h1v1h-1zM10 5h1v1h-1zM31 5h1v1h-1zM34 5h2v1h-2zM37 5h1v1h-1zM8 6h1v1h-1zM31 6h1v1h-1zM33 6h3v1h-3zM38 6h1v1h-1zM33 7h1v1h-1zM32 8h1v1h-1zM34 8h1v1h-1zM39 8h1v1h-1zM6 9h2v1h-2zM33 9h1v1h-1zM39 9h1v1h-1zM6 10h2v1h-2zM32 10h1v1h-1zM39 10h1v1h-1zM7 11h1v1h-1zM31 11h1v1h-1zM44 11h4v1h-4zM5 12h2v1h-2zM12 12h1v1h-1zM32 12h1v1h-1zM38 12h1v1h-1zM40 12h4v1h-4zM4 13h2v1h-2zM32 13h1v1h-1zM0 14h1v1h-1zM3 14h5v1h-5zM1 15h7v1h-7zM33 15h1v1h-1zM2 16h3v1h-3zM30 16h1v1h-1zM48 16h1v1h-1zM0 17h5v1h-5zM30 17h1v1h-1zM30 18h1v1h-1zM27 20h2v1h-2zM0 21h1v1h-1zM24 21h4v1h-4zM1 22h1v1h-1zM21 22h1v1h-1zM24 22h1v1h-1zM1 24h1v1h-1zM21 24h1v1h-1zM21 25h1v1h-1zM21 26h1v1h-1zM0 27h1v1h-1zM20 27h1v1h-1zM18 29h2v1h-2zM17 32h1v1h-1zM16 33h1v1h-1zM15 34h1v1h-1zM14 35h1v1h-1zM14 36h2v1h-2zM14 40h1v1h-1zM14 42h1v1h-1zM14 43h1v1h-1zM12 44h1v1h-1zM13 46h1v1h-1zM12 48h1v1h-1z"/><path fill="#E7E5C0" d="M12 0h2v1h-2zM42 0h1v1h-1zM12 1h1v1h-1zM14 1h1v1h-1zM43 1h1v1h-1zM45 1h2v1h-2zM48 1h1v1h-1zM12 2h1v1h-1zM14 2h1v1h-1zM30 2h1v1h-1zM35 2h1v1h-1zM11 3h3v1h-3zM31 3h1v1h-1zM33 3h4v1h-4zM13 4h1v1h-1zM30 4h1v1h-1zM32 4h3v1h-3zM36 4h1v1h-1zM12 5h1v1h-1zM33 5h1v1h-1zM38 5h1v1h-1zM9 6h2v1h-2zM29 6h2v1h-2zM32 6h1v1h-1zM39 6h2v1h-2zM8 7h1v1h-1zM13 7h1v1h-1zM21 7h1v1h-1zM28 7h1v1h-1zM30 7h2v1h-2zM13 8h2v1h-2zM29 8h1v1h-1zM33 8h1v1h-1zM40 8h2v1h-2zM12 9h1v1h-1zM21 9h1v1h-1zM32 9h1v1h-1zM40 9h2v1h-2zM9 10h1v1h-1zM11 10h2v1h-2zM17 10h1v1h-1zM31 10h1v1h-1zM40 10h2v1h-2zM8 11h3v1h-3zM13 11h1v1h-1zM16 11h1v1h-1zM32 11h1v1h-1zM39 11h3v1h-3zM43 11h1v1h-1zM48 11h1v1h-1zM7 12h3v1h-3zM11 12h1v1h-1zM16 12h1v1h-1zM20 12h1v1h-1zM39 12h1v1h-1zM7 13h4v1h-4zM12 13h1v1h-1zM14 13h1v1h-1zM8 14h1v1h-1zM11 14h1v1h-1zM30 14h2v1h-2zM31 15h1v1h-1zM5 16h1v1h-1zM9 16h4v1h-4zM15 16h1v1h-1zM31 16h1v1h-1zM5 17h3v1h-3zM11 17h1v1h-1zM0 18h2v1h-2zM0 19h2v1h-2zM26 19h1v1h-1zM28 19h2v1h-2zM0 20h2v1h-2zM19 20h1v1h-1zM22 20h1v1h-1zM26 20h1v1h-1zM20 21h1v1h-1zM2 22h1v1h-1zM22 22h1v1h-1zM0 23h2v1h-2zM21 23h2v1h-2zM1 25h1v1h-1zM20 25h1v1h-1zM0 26h2v1h-2zM19 26h1v1h-1zM19 27h1v1h-1zM1 28h1v1h-1zM20 28h1v1h-1zM15 31h1v1h-1zM17 31h1v1h-1zM15 32h2v1h-2zM15 33h1v1h-1zM14 34h1v1h-1zM15 35h1v1h-1zM14 37h1v1h-1zM14 38h1v1h-1zM14 41h1v1h-1zM13 43h1v1h-1zM13 44h1v1h-1zM12 45h1v1h-1zM12 46h1v1h-1zM0 47h1v1h-1zM12 47h1v1h-1zM0 48h2v1h-2zM8 48h1v1h-1z"/><path fill="#E8E5B8" d="M14 0h1v1h-1zM16 0h1v1h-1zM18 0h1v1h-1zM31 0h1v1h-1zM36 0h1v1h-1zM41 0h1v1h-1zM16 1h1v1h-1zM33 1h1v1h-1zM37 1h1v1h-1zM15 2h3v1h-3zM25 2h1v1h-1zM36 2h1v1h-1zM44 2h1v1h-1zM17 3h2v1h-2zM27 3h2v1h-2zM15 4h1v1h-1zM20 4h3v1h-3zM24 4h2v1h-2zM28 4h2v1h-2zM39 4h1v1h-1zM16 5h1v1h-1zM19 5h2v1h-2zM24 5h2v1h-2zM28 5h1v1h-1zM11 6h1v1h-1zM16 6h1v1h-1zM18 6h4v1h-4zM23 6h1v1h-1zM26 6h3v1h-3zM41 6h1v1h-1zM15 7h2v1h-2zM19 7h2v1h-2zM22 7h1v1h-1zM27 7h1v1h-1zM11 8h1v1h-1zM15 8h2v1h-2zM19 8h1v1h-1zM22 8h1v1h-1zM25 8h1v1h-1zM28 8h1v1h-1zM10 9h1v1h-1zM15 9h1v1h-1zM17 9h1v1h-1zM19 9h1v1h-1zM22 9h1v1h-1zM25 9h2v1h-2zM28 9h1v1h-1zM13 10h2v1h-2zM18 10h4v1h-4zM23 10h2v1h-2zM29 10h1v1h-1zM46 10h3v1h-3zM15 11h1v1h-1zM17 11h4v1h-4zM22 11h1v1h-1zM29 11h1v1h-1zM15 12h1v1h-1zM21 12h1v1h-1zM29 12h1v1h-1zM16 13h1v1h-1zM18 13h2v1h-2zM21 13h2v1h-2zM28 13h2v1h-2zM9 14h1v1h-1zM13 14h1v1h-1zM15 14h1v1h-1zM17 14h2v1h-2zM22 14h1v1h-1zM24 14h1v1h-1zM28 14h1v1h-1zM9 15h2v1h-2zM14 15h5v1h-5zM20 15h1v1h-1zM7 16h1v1h-1zM13 16h1v1h-1zM16 16h6v1h-6zM23 16h1v1h-1zM26 16h1v1h-1zM28 16h2v1h-2zM9 17h1v1h-1zM13 17h3v1h-3zM17 17h1v1h-1zM22 17h1v1h-1zM29 17h1v1h-1zM5 18h4v1h-4zM11 18h1v1h-1zM13 18h1v1h-1zM15 18h2v1h-2zM22 18h3v1h-3zM5 19h1v1h-1zM8 19h3v1h-3zM12 19h6v1h-6zM20 19h1v1h-1zM22 19h3v1h-3zM3 20h1v1h-1zM5 20h1v1h-1zM8 20h2v1h-2zM11 20h4v1h-4zM18 20h1v1h-1zM23 20h1v1h-1zM25 20h1v1h-1zM4 21h1v1h-1zM8 21h1v1h-1zM10 21h1v1h-1zM12 21h1v1h-1zM15 21h1v1h-1zM22 21h1v1h-1zM4 22h1v1h-1zM7 22h1v1h-1zM12 22h2v1h-2zM15 22h1v1h-1zM17 22h1v1h-1zM19 22h2v1h-2zM5 23h1v1h-1zM7 23h1v1h-1zM15 23h2v1h-2zM19 23h1v1h-1zM0 24h1v1h-1zM3 24h2v1h-2zM7 24h1v1h-1zM9 24h1v1h-1zM11 24h3v1h-3zM16 24h1v1h-1zM18 24h2v1h-2zM3 25h1v1h-1zM12 25h1v1h-1zM14 25h1v1h-1zM16 25h1v1h-1zM18 25h1v1h-1zM2 26h1v1h-1zM7 26h1v1h-1zM16 26h1v1h-1zM5 27h1v1h-1zM11 27h1v1h-1zM13 27h1v1h-1zM17 27h1v1h-1zM9 28h1v1h-1zM11 28h1v1h-1zM17 28h1v1h-1zM0 29h4v1h-4zM14 29h2v1h-2zM2 30h1v1h-1zM14 30h2v1h-2zM0 31h1v1h-1zM12 31h1v1h-1zM12 32h1v1h-1zM14 32h1v1h-1zM0 33h3v1h-3zM13 33h2v1h-2zM1 34h1v1h-1zM0 35h1v1h-1zM13 35h1v1h-1zM13 36h1v1h-1zM13 37h1v1h-1zM1 38h1v1h-1zM12 39h1v1h-1zM1 40h1v1h-1zM11 40h1v1h-1zM0 41h1v1h-1zM11 41h1v1h-1zM2 43h1v1h-1zM12 43h1v1h-1zM0 44h2v1h-2zM3 44h1v1h-1zM10 44h2v1h-2zM1 45h2v1h-2zM10 45h1v1h-1zM0 46h1v1h-1zM11 46h1v1h-1zM2 47h2v1h-2zM2 48h1v1h-1zM6 48h2v1h-2zM9 48h2v1h-2z"/><path fill="#E8E5B4" d="M15 0h1v1h-1zM17 0h1v1h-1zM19 0h2v1h-2zM26 0h1v1h-1zM28 0h2v1h-2zM34 0h1v1h-1zM38 0h1v1h-1zM19 1h2v1h-2zM22 1h1v1h-1zM28 1h3v1h-3zM38 1h1v1h-1zM42 1h1v1h-1zM18 2h2v1h-2zM26 2h1v1h-1zM29 2h1v1h-1zM37 2h2v1h-2zM43 2h1v1h-1zM48 2h1v1h-1zM15 3h1v1h-1zM21 3h3v1h-3zM25 3h2v1h-2zM29 3h1v1h-1zM38 3h1v1h-1zM43 3h1v1h-1zM18 4h2v1h-2zM27 4h1v1h-1zM38 4h1v1h-1zM17 5h2v1h-2zM22 5h1v1h-1zM27 5h1v1h-1zM39 5h1v1h-1zM17 6h1v1h-1zM25 6h1v1h-1zM17 7h1v1h-1zM25 7h2v1h-2zM18 8h1v1h-1zM20 8h1v1h-1zM43 8h1v1h-1zM23 9h1v1h-1zM44 9h1v1h-1zM47 9h1v1h-1zM45 10h1v1h-1zM23 11h2v1h-2zM22 12h3v1h-3zM23 13h2v1h-2zM16 14h1v1h-1zM20 14h2v1h-2zM23 14h1v1h-1zM24 15h1v1h-1zM27 15h1v1h-1zM22 16h1v1h-1zM24 16h1v1h-1zM27 16h1v1h-1zM21 17h1v1h-1zM23 17h1v1h-1zM25 17h3v1h-3zM14 18h1v1h-1zM18 18h3v1h-3zM25 18h1v1h-1zM27 18h1v1h-1zM6 19h2v1h-2zM25 19h1v1h-1zM4 20h1v1h-1zM7 20h1v1h-1zM10 20h1v1h-1zM16 20h1v1h-1zM6 21h2v1h-2zM9 21h1v1h-1zM11 21h1v1h-1zM13 21h1v1h-1zM16 21h1v1h-1zM5 22h1v1h-1zM8 22h1v1h-1zM10 22h1v1h-1zM16 22h1v1h-1zM4 23h1v1h-1zM9 23h1v1h-1zM11 23h1v1h-1zM17 23h2v1h-2zM5 24h2v1h-2zM8 24h1v1h-1zM10 24h1v1h-1zM14 24h2v1h-2zM17 24h1v1h-1zM4 25h1v1h-1zM7 25h1v1h-1zM13 25h1v1h-1zM15 25h1v1h-1zM6 26h1v1h-1zM11 26h4v1h-4zM18 26h1v1h-1zM3 27h2v1h-2zM6 27h1v1h-1zM10 27h1v1h-1zM12 27h1v1h-1zM14 27h3v1h-3zM2 28h1v1h-1zM4 28h1v1h-1zM6 28h1v1h-1zM12 28h1v1h-1zM15 28h1v1h-1zM7 29h1v1h-1zM9 29h1v1h-1zM12 29h1v1h-1zM0 30h1v1h-1zM4 30h1v1h-1zM6 30h3v1h-3zM13 30h1v1h-1zM1 31h1v1h-1zM4 31h1v1h-1zM0 32h3v1h-3zM5 32h1v1h-1zM3 33h2v1h-2zM6 33h1v1h-1zM13 34h1v1h-1zM1 35h2v1h-2zM9 35h1v1h-1zM12 35h1v1h-1zM1 36h1v1h-1zM11 37h2v1h-2zM0 38h1v1h-1zM0 39h2v1h-2zM5 40h1v1h-1zM8 40h1v1h-1zM10 40h1v1h-1zM2 41h1v1h-1zM10 41h1v1h-1zM13 41h1v1h-1zM2 42h1v1h-1zM9 42h1v1h-1zM12 42h1v1h-1zM1 43h1v1h-1zM11 43h1v1h-1zM7 44h2v1h-2zM3 45h3v1h-3zM7 45h1v1h-1zM2 46h3v1h-3zM7 46h3v1h-3zM4 47h2v1h-2zM7 47h1v1h-1zM3 48h1v1h-1zM5 48h1v1h-1z"/><path fill="#E9E5A8" d="M21 0h1v1h-1zM39 1h2v1h-2zM42 2h1v1h-1zM39 3h3v1h-3zM40 4h3v1h-3zM45 4h3v1h-3zM41 5h1v1h-1zM43 5h2v1h-2zM43 7h2v1h-2zM44 8h1v1h-1zM46 8h1v1h-1zM27 10h1v1h-1zM10 28h1v1h-1zM11 33h1v1h-1zM8 34h1v1h-1zM10 34h1v1h-1zM6 35h3v1h-3zM5 36h1v1h-1zM5 37h1v1h-1zM7 37h1v1h-1zM9 37h1v1h-1zM10 38h1v1h-1zM9 39h1v1h-1zM7 41h2v1h-2zM4 42h1v1h-1zM6 45h1v1h-1z"/><path fill="#E9E5AC" d="M22 0h1v1h-1zM39 0h1v1h-1zM18 1h1v1h-1zM21 1h1v1h-1zM23 1h2v1h-2zM26 1h1v1h-1zM39 2h3v1h-3zM42 3h1v1h-1zM47 3h2v1h-2zM44 4h1v1h-1zM45 5h1v1h-1zM43 6h1v1h-1zM46 9h1v1h-1zM48 9h1v1h-1zM25 14h1v1h-1zM7 27h1v1h-1zM9 27h1v1h-1zM8 28h1v1h-1zM4 29h2v1h-2zM10 29h1v1h-1zM3 30h1v1h-1zM11 30h2v1h-2zM5 31h2v1h-2zM10 31h2v1h-2zM14 31h1v1h-1zM3 32h1v1h-1zM7 32h2v1h-2zM8 33h1v1h-1zM7 34h1v1h-1zM11 34h1v1h-1zM4 35h1v1h-1zM10 35h2v1h-2zM2 36h1v1h-1zM6 36h1v1h-1zM8 36h1v1h-1zM10 36h1v1h-1zM6 37h1v1h-1zM10 37h1v1h-1zM2 38h1v1h-1zM4 38h1v1h-1zM6 38h1v1h-1zM5 39h4v1h-4zM11 39h1v1h-1zM2 40h2v1h-2zM7 40h1v1h-1zM9 40h1v1h-1zM3 41h1v1h-1zM5 41h1v1h-1zM9 41h1v1h-1zM6 42h1v1h-1zM3 43h2v1h-2zM8 43h2v1h-2zM2 44h1v1h-1zM4 44h1v1h-1zM8 45h1v1h-1zM4 48h1v1h-1z"/><path fill="#EAE5A0" d="M23 0h2v1h-2zM42 5h1v1h-1zM44 6h1v1h-1zM46 6h1v1h-1zM46 7h1v1h-1zM48 7h1v1h-1zM45 8h1v1h-1zM47 8h1v1h-1zM26 14h1v1h-1z"/><path fill="#E9E5A4" d="M25 0h1v1h-1zM25 1h1v1h-1zM48 4h1v1h-1zM48 8h1v1h-1zM25 10h1v1h-1zM25 11h1v1h-1zM25 12h1v1h-1zM25 13h1v1h-1zM27 14h1v1h-1zM4 37h1v1h-1zM5 38h1v1h-1zM4 39h1v1h-1z"/><path fill="#E9E5B0" d="M27 0h1v1h-1zM37 0h1v1h-1zM40 0h1v1h-1zM17 1h1v1h-1zM27 1h1v1h-1zM41 1h1v1h-1zM20 2h5v1h-5zM27 2h1v1h-1zM20 3h1v1h-1zM24 3h1v1h-1zM44 3h3v1h-3zM43 4h1v1h-1zM40 5h1v1h-1zM42 6h1v1h-1zM18 7h1v1h-1zM42 7h1v1h-1zM24 8h1v1h-1zM26 8h1v1h-1zM43 9h1v1h-1zM45 9h1v1h-1zM23 15h1v1h-1zM25 15h2v1h-2zM25 16h1v1h-1zM28 17h1v1h-1zM6 20h1v1h-1zM5 21h1v1h-1zM6 22h1v1h-1zM10 23h1v1h-1zM14 23h1v1h-1zM5 25h2v1h-2zM8 25h3v1h-3zM3 26h3v1h-3zM8 26h3v1h-3zM2 27h1v1h-1zM8 27h1v1h-1zM3 28h1v1h-1zM7 28h1v1h-1zM13 28h2v1h-2zM6 29h1v1h-1zM8 29h1v1h-1zM11 29h1v1h-1zM13 29h1v1h-1zM5 30h1v1h-1zM9 30h2v1h-2zM2 31h2v1h-2zM7 31h3v1h-3zM13 31h1v1h-1zM4 32h1v1h-1zM6 32h1v1h-1zM9 32h3v1h-3zM5 33h1v1h-1zM7 33h1v1h-1zM9 33h2v1h-2zM12 33h1v1h-1zM2 34h5v1h-5zM9 34h1v1h-1zM12 34h1v1h-1zM3 35h1v1h-1zM5 35h1v1h-1zM3 36h2v1h-2zM7 36h1v1h-1zM9 36h1v1h-1zM11 36h2v1h-2zM1 37h3v1h-3zM8 37h1v1h-1zM3 38h1v1h-1zM7 38h3v1h-3zM11 38h2v1h-2zM2 39h2v1h-2zM10 39h1v1h-1zM4 40h1v1h-1zM6 40h1v1h-1zM12 40h1v1h-1zM4 41h1v1h-1zM6 41h1v1h-1zM12 41h1v1h-1zM3 42h1v1h-1zM5 42h1v1h-1zM7 42h2v1h-2zM10 42h1v1h-1zM5 43h3v1h-3zM10 43h1v1h-1zM5 44h2v1h-2zM9 44h1v1h-1zM9 45h1v1h-1zM5 46h2v1h-2zM10 46h1v1h-1zM6 47h1v1h-1zM9 47h1v1h-1z"/><path fill="#E8E5BC" d="M30 0h1v1h-1zM32 0h2v1h-2zM35 0h1v1h-1zM13 1h1v1h-1zM15 1h1v1h-1zM31 1h2v1h-2zM34 1h3v1h-3zM44 1h1v1h-1zM13 2h1v1h-1zM28 2h1v1h-1zM31 2h4v1h-4zM45 2h3v1h-3zM14 3h1v1h-1zM16 3h1v1h-1zM19 3h1v1h-1zM30 3h1v1h-1zM32 3h1v1h-1zM37 3h1v1h-1zM12 4h1v1h-1zM14 4h1v1h-1zM16 4h2v1h-2zM23 4h1v1h-1zM26 4h1v1h-1zM37 4h1v1h-1zM11 5h1v1h-1zM13 5h3v1h-3zM21 5h1v1h-1zM23 5h1v1h-1zM26 5h1v1h-1zM29 5h2v1h-2zM12 6h4v1h-4zM22 6h1v1h-1zM24 6h1v1h-1zM9 7h4v1h-4zM14 7h1v1h-1zM23 7h2v1h-2zM29 7h1v1h-1zM32 7h1v1h-1zM41 7h1v1h-1zM8 8h3v1h-3zM12 8h1v1h-1zM17 8h1v1h-1zM21 8h1v1h-1zM23 8h1v1h-1zM27 8h1v1h-1zM30 8h2v1h-2zM42 8h1v1h-1zM8 9h2v1h-2zM11 9h1v1h-1zM13 9h2v1h-2zM16 9h1v1h-1zM18 9h1v1h-1zM20 9h1v1h-1zM24 9h1v1h-1zM27 9h1v1h-1zM29 9h3v1h-3zM42 9h1v1h-1zM8 10h1v1h-1zM10 10h1v1h-1zM15 10h2v1h-2zM22 10h1v1h-1zM28 10h1v1h-1zM30 10h1v1h-1zM42 10h3v1h-3zM11 11h2v1h-2zM14 11h1v1h-1zM21 11h1v1h-1zM28 11h1v1h-1zM30 11h1v1h-1zM42 11h1v1h-1zM10 12h1v1h-1zM13 12h2v1h-2zM17 12h3v1h-3zM30 12h2v1h-2zM11 13h1v1h-1zM13 13h1v1h-1zM15 13h1v1h-1zM17 13h1v1h-1zM20 13h1v1h-1zM30 13h2v1h-2zM10 14h1v1h-1zM12 14h1v1h-1zM14 14h1v1h-1zM19 14h1v1h-1zM29 14h1v1h-1zM8 15h1v1h-1zM11 15h3v1h-3zM19 15h1v1h-1zM21 15h2v1h-2zM28 15h3v1h-3zM6 16h1v1h-1zM8 16h1v1h-1zM14 16h1v1h-1zM8 17h1v1h-1zM10 17h1v1h-1zM12 17h1v1h-1zM16 17h1v1h-1zM18 17h3v1h-3zM24 17h1v1h-1zM2 18h3v1h-3zM9 18h2v1h-2zM12 18h1v1h-1zM17 18h1v1h-1zM21 18h1v1h-1zM26 18h1v1h-1zM28 18h2v1h-2zM2 19h3v1h-3zM11 19h1v1h-1zM18 19h2v1h-2zM21 19h1v1h-1zM27 19h1v1h-1zM2 20h1v1h-1zM15 20h1v1h-1zM17 20h1v1h-1zM20 20h2v1h-2zM24 20h1v1h-1zM1 21h3v1h-3zM14 21h1v1h-1zM17 21h3v1h-3zM21 21h1v1h-1zM23 21h1v1h-1zM0 22h1v1h-1zM3 22h1v1h-1zM9 22h1v1h-1zM11 22h1v1h-1zM14 22h1v1h-1zM18 22h1v1h-1zM23 22h1v1h-1zM2 23h2v1h-2zM6 23h1v1h-1zM8 23h1v1h-1zM12 23h2v1h-2zM20 23h1v1h-1zM2 24h1v1h-1zM20 24h1v1h-1zM0 25h1v1h-1zM2 25h1v1h-1zM11 25h1v1h-1zM17 25h1v1h-1zM19 25h1v1h-1zM15 26h1v1h-1zM17 26h1v1h-1zM20 26h1v1h-1zM1 27h1v1h-1zM18 27h1v1h-1zM0 28h1v1h-1zM5 28h1v1h-1zM16 28h1v1h-1zM18 28h1v1h-1zM16 29h2v1h-2zM1 30h1v1h-1zM16 30h3v1h-3zM16 31h1v1h-1zM13 32h1v1h-1zM0 34h1v1h-1zM0 36h1v1h-1zM0 37h1v1h-1zM13 38h1v1h-1zM13 39h1v1h-1zM0 40h1v1h-1zM13 40h1v1h-1zM1 41h1v1h-1zM0 42h2v1h-2zM11 42h1v1h-1zM13 42h1v1h-1zM0 43h1v1h-1zM0 45h1v1h-1zM11 45h1v1h-1zM1 46h1v1h-1zM1 47h1v1h-1zM8 47h1v1h-1zM10 47h2v1h-2zM11 48h1v1h-1z"/><path fill="#EAE59C" d="M46 5h2v1h-2zM45 7h1v1h-1zM47 7h1v1h-1zM26 10h1v1h-1zM27 11h1v1h-1z"/><path fill="#EAE598" d="M48 5h1v1h-1zM45 6h1v1h-1zM47 6h1v1h-1z"/><path fill="#EBE48F" d="M48 6h1v1h-1z"/><path fill="#ECE483" d="M26 11h1v1h-1z"/><path fill="#EDE473" d="M26 12h1v1h-1z"/><path fill="#ECE47F" d="M27 12h1v1h-1zM26 13h2v1h-2z"/><path fill="#E5E5E1" d="M42 18h6v1h-6zM38 19h11v1h-11zM35 20h6v1h-6zM43 20h6v1h-6zM34 21h2v1h-2zM46 21h3v1h-3zM33 22h3v1h-3zM34 23h3v1h-3zM33 24h4v1h-4zM30 25h7v1h-7zM28 26h8v1h-8zM27 27h4v1h-4zM26 28h3v1h-3zM25 29h2v1h-2zM24 30h2v1h-2zM24 31h2v1h-2zM22 32h4v1h-4zM21 33h5v1h-5zM21 34h5v1h-5zM20 35h5v1h-5zM20 36h5v1h-5zM20 37h4v1h-4zM20 38h2v1h-2zM20 39h2v1h-2zM19 40h3v1h-3zM20 41h2v1h-2zM20 42h2v1h-2zM20 43h2v1h-2zM20 44h2v1h-2zM20 45h3v1h-3zM20 46h3v1h-3zM20 47h3v1h-3zM19 48h4v1h-4z"/><path fill="#E5E5E5" d="M41 20h2v1h-2zM36 21h10v1h-10zM36 22h13v1h-13zM37 23h12v1h-12zM37 24h12v1h-12zM37 25h12v1h-12zM36 26h13v1h-13zM31 27h18v1h-18zM29 28h20v1h-20zM27 29h22v1h-22zM26 30h23v1h-23zM26 31h23v1h-23zM26 32h23v1h-23zM26 33h23v1h-23zM26 34h23v1h-23zM25 35h24v1h-24zM25 36h24v1h-24zM24 37h25v1h-25zM22 38h27v1h-27zM22 39h27v1h-27zM22 40h27v1h-27zM22 41h27v1h-27zM22 42h27v1h-27zM22 43h27v1h-27zM22 44h27v1h-27zM23 45h26v1h-26zM23 46h26v1h-26zM23 47h26v1h-26zM23 48h26v1h-26z"/></g><path d="M26.8 32.0L60.7 35.4L95.5 38.8L123.2 40.7M96.6 26.8L95.5 38.8M123.2 40.7L122.3 58.9L121.1 87.5L119.3 114.3M122.9 58.9L150.0 60.4L185.0 61.6L202.9 61.2L218.0 60.5L217.2 60.6M26.8 106.4L60.7 109.6L105.4 113.8L119.3 114.6L150.0 116.1L185.0 117.0L202.9 116.8L229.1 116.1M105.7 113.8L104.8 123.2L102.7 150.0L101.4 170.0L100.0 187.9L98.6 206.2M104.8 123.2L126.8 124.5L149.5 125.5L148.9 141.1L148.2 161.1M148.3 160.5L150.0 161.6L152.3 163.9L155.2 164.1L158.0 163.3L160.3 165.0L160.9 167.3L163.8 167.9L167.2 169.4L170.0 169.4L171.8 170.8L173.5 169.6L176.9 169.4L178.1 171.3L179.8 174.8L181.5 173.6L183.8 172.5L186.1 173.6L188.9 175.9L190.6 174.8L192.3 177.1L193.5 175.3L195.2 173.3L197.5 174.8L199.8 174.0L201.5 175.6L204.4 177.8L207.2 175.9L210.7 174.4L214.1 173.6L216.4 173.1L219.2 174.2L222.1 172.5L225.5 174.8L229.0 176.5L232.4 177.6L234.1 179.3L237.0 179.3L240.0 179.3M206.1 28.3L207.2 31.1L208.5 32.6L209.4 34.4L210.2 37.2L210.3 39.5L210.6 41.7L210.8 43.6L210.8 45.6L211.1 47.2L211.7 48.9L212.4 50.6L213.3 52.2L214.5 53.7L215.0 55.6L216.7 58.3L217.8 60.8L220.0 62.2L222.2 63.9L223.9 63.0L224.7 64.8L222.8 66.7L221.1 68.9L222.8 71.1L225.0 73.3L226.7 75.9L229.4 76.7M229.4 76.7L229.7 97.2L229.8 118.0L229.6 125.0L231.1 139.3L232.3 153.6L233.2 167.9L233.8 170.0L234.1 178.0L240.0 179.3M211.7 49.2L233.3 49.4L250.0 48.9L268.9 47.2L271.1 50.0L272.8 52.2M286.1 28.6L284.4 30.2L282.2 31.1L279.9 31.6L277.8 32.6L276.7 35.6L278.9 37.8L279.2 39.7L279.1 41.7L278.4 43.7L277.2 45.6L275.3 46.3L273.9 47.8L272.8 50.0L273.0 52.2L272.6 53.9L272.2 55.6L272.3 57.3L273.0 58.9L273.3 60.6L274.3 62.3L275.6 63.9L277.4 65.3L278.9 67.2L280.5 68.7L282.2 70.0L283.4 71.4L285.0 72.2L285.5 74.2L286.1 76.1L287.8 78.9L290.0 77.2L292.8 78.3L293.3 81.7L292.6 83.3L292.2 85.0L291.2 86.6L290.6 88.3L291.7 89.8L292.2 91.7L293.7 93.2L295.6 94.4L297.5 95.5L299.6 96.3L301.5 97.5L303.3 98.4L304.5 100.0L304.7 102.1L305.5 104.0L306.3 106.0L307.0 108.0L308.5 110.5L310.0 111.2L311.5 112.5L311.4 114.3L311.3 116.2L311.7 118.0L310.0 119.5L308.0 120.5L306.0 120.8L306.5 122.5L305.0 124.0L305.5 125.8L304.2 127.0L304.7 129.0L303.8 130.5L303.5 132.5L302.5 134.0L302.0 136.0L301.0 137.5L301.2 139.2L300.0 140.0L298.5 142.5L299.7 144.0L299.5 146.0L298.8 148.0L297.0 150.0L296.8 151.8L295.8 153.0L294.5 154.8L294.0 156.5L292.8 159.0L292.0 160.5L291.2 162.0L290.1 163.5L289.0 165.0L288.4 166.8L287.1 168.3L286.4 170.0L285.7 171.8L284.5 173.4L284.1 175.4L284.7 177.0L286.2 178.2L286.8 179.8L286.2 182.2L285.0 184.3L285.7 186.0L285.9 187.9L286.2 189.8L287.4 191.4L288.0 193.2L287.5 195.0L287.4 196.8L286.8 198.6L287.9 200.4L288.9 202.1L287.9 204.0L286.8 205.7L286.0 207.6L284.9 209.2L284.1 211.1L283.5 213.5L282.7 215.2L282.0 217.0L280.9 218.9L280.5 221.0L280.5 223.3L280.8 225.5M310.0 111.2L311.0 109.0L312.7 108.4L314.0 107.2L317.0 108.2L318.6 109.2L320.5 109.5L320.0 106.5L319.0 104.5L321.5 102.5L323.4 102.3L325.0 101.2L325.5 98.5L324.5 96.0L326.5 93.5L329.0 92.5L330.7 92.8L332.5 92.8L334.2 92.1L336.0 92.0L337.6 93.3L339.5 94.0L340.5 91.5L342.5 90.8M326.6 26.8L327.3 42.9L328.8 57.1L330.0 67.9L331.8 76.8L330.5 79.5L330.2 80.0L328.5 84.0L326.5 87.0L326.2 91.0L325.0 95.0L324.5 96.0M229.6 125.4L255.0 124.3L275.0 123.0L296.5 122.0L298.2 125.0L296.0 128.0L294.0 131.2L299.0 131.5L303.8 130.8M308.0 120.8L327.5 118.5L327.8 116.2L342.5 114.9M298.0 149.5L315.0 148.0L329.0 147.2L342.5 145.4M329.0 147.2L329.5 155.0L330.0 164.0L329.3 170.0L330.4 184.3L331.4 196.8L331.0 210.0L332.5 221.0L334.0 233.2M98.6 206.2L69.6 203.9L42.0 201.8L41.2 203.6L42.9 205.4L35.7 204.8L26.8 204.1M42.0 202.1L42.5 204.5L43.8 206.6L44.6 208.6L46.1 210.2L47.3 212.0L48.4 213.3L50.0 214.3L50.9 215.9L52.3 217.0L53.6 218.2L55.0 219.3L56.4 220.4L57.1 222.2L58.3 223.5L59.8 224.5L61.5 225.4L62.5 227.2L64.2 228.2L65.7 229.2L67.0 230.7L67.7 232.7L67.9 234.8L68.4 236.8L69.3 238.8L70.0 240.9L70.0 243.2L70.9 245.1L72.3 246.6L72.9 248.6L74.2 250.1L75.8 251.1L76.9 252.8L78.6 253.9L80.1 255.4L82.1 256.2L83.7 257.7L85.7 258.4L87.6 259.3L89.5 260.1L91.0 261.6L92.9 262.5L94.4 260.6L96.4 259.3L97.1 257.4L98.1 255.7L99.2 254.0L100.0 252.1L101.1 250.2L102.7 248.6L104.7 247.8L106.8 247.9L108.0 246.4L109.8 247.9L111.9 248.3L114.0 247.9L116.1 248.2L117.8 248.7L119.6 248.8L121.4 248.6L123.0 250.0L124.4 251.5L125.9 253.0L127.4 254.5L128.8 256.1L130.4 257.5L132.3 260.0L133.1 261.9L133.9 263.7L134.7 265.5L135.7 267.3L136.1 269.2L137.2 270.7L138.1 272.3L138.6 274.1L139.8 275.6L140.3 277.3L141.6 278.9L142.3 280.9L143.8 282.3L145.0 284.0L146.1 285.5L147.7 286.7L148.6 288.4L149.7 290.0L151.2 291.1L152.7 292.0L153.2 294.0L152.8 296.0L152.8 298.0L153.0 300.0L154.2 301.6L154.7 303.6L155.7 305.3L156.4 307.3L156.8 309.4L157.8 311.3L158.3 313.3L160.0 314.4L161.8 315.3L163.7 316.0L165.5 316.4L167.2 317.3L168.6 318.6L170.3 319.3L171.9 320.2L173.7 320.1L175.3 320.8L177.0 321.3L179.2 321.6L181.5 321.6L183.7 322.0L185.7 323.2L187.7 324.7L189.6 323.2L191.7 322.0M240.0 179.3L241.2 188.8L241.6 198.6L241.8 208.4L243.9 212.0M243.9 212.0L244.8 213.5L245.3 215.2L246.2 216.7L246.9 218.3L247.5 220.0L248.3 221.6L249.5 223.0L250.2 224.9L250.0 227.0L249.2 229.0L248.5 231.0L247.8 232.9L247.5 235.0L247.9 237.0L248.0 239.0L248.5 242.0L247.0 245.0L245.5 246.5L244.5 249.0L245.5 250.5L246.5 248.5L247.0 245.5M241.2 189.1L263.6 188.6L285.0 187.9M280.8 225.5L295.0 224.3L311.0 223.0L311.2 226.0L309.8 228.5L311.0 231.0L313.0 234.0L314.5 237.0L315.0 239.0M185.0 340.7L186.6 338.0L189.3 333.3L191.7 328.0L192.3 322.7L191.7 317.3L190.3 310.7L188.7 302.7L189.3 296.0L192.3 288.7L187.5 304.0L187.8 298.0L189.0 293.0L191.5 288.0L195.0 283.5L199.0 279.5L204.0 275.5L209.0 272.5L214.0 270.0L219.0 267.0L223.0 264.0L227.0 260.5L231.0 257.0L235.0 254.5L240.0 252.5L245.5 251.0L250.0 249.8L255.0 249.2L260.0 249.8L255.0 249.2L259.0 250.5L263.0 252.5L267.0 253.5L271.5 253.2L274.5 252.0L273.0 250.0L275.0 248.5L277.5 247.5L279.0 248.5L276.5 250.0L278.5 251.5L281.0 250.5L280.0 253.0L277.5 254.0L274.5 252.5L276.5 251.0L281.0 250.5L283.5 251.5L286.0 252.5L288.5 251.5L288.0 254.5L289.5 257.0L287.5 256.5L288.5 258.5L292.0 259.0L295.0 259.5L298.0 259.5L299.5 256.5L302.0 255.5L304.5 257.0L305.0 259.5L307.0 259.0L308.5 256.0L309.0 253.0L306.5 251.5L308.0 251.0L311.0 253.0L313.5 254.5L316.0 254.0L319.0 254.5L321.5 253.5L324.0 255.0L325.5 257.0L324.0 259.5L321.5 259.0L320.0 261.5L321.0 258.0L319.0 256.5L316.5 255.5L314.5 254.0L312.5 252.0L313.5 250.0L315.5 248.5L317.5 247.0L318.5 244.5L317.5 242.0L315.5 241.0L314.0 243.0L312.0 242.0L311.0 240.0L312.5 239.0L315.0 238.5L316.5 237.0L318.5 235.0L322.0 233.8L325.0 233.0L328.0 234.0L331.0 233.8L334.0 233.5L337.0 233.2L338.8 226.5L340.0 226.5L341.5 233.5L342.5 235.0L339.0 234.8L335.0 236.2M301.0 240.0L302.5 237.5L304.5 235.5L307.5 236.2L310.5 237.5L311.5 239.0L309.5 241.0L306.0 242.2L303.0 242.0L301.0 240.0M326.5 239.5L327.2 242.0L327.0 245.0M328.0 236.2L331.5 236.5M319.0 240.0L321.0 239.0L320.0 240.5M235.0 254.5L233.0 255.5L231.5 254.0L232.0 251.0L230.0 250.0L229.0 252.5L226.5 251.8L227.5 254.5L229.0 257.0L230.0 256.0M234.0 254.8L230.0 257.5L226.0 259.5L224.0 262.0L226.5 260.0M214.0 270.0L212.8 270.9L211.2 270.3L210.0 271.2L207.5 270.8L206.4 271.8L205.0 272.0L204.0 270.0L202.0 271.0L203.0 273.0L202.0 274.0L200.5 274.0L199.0 276.0L200.0 278.0L198.5 278.6L197.0 279.0L195.0 280.5L192.5 281.0L191.0 283.0L191.8 284.2L193.0 285.0L191.7 286.2L190.0 286.0L188.5 288.0L187.1 287.5L186.0 286.5L186.8 287.6L187.0 289.0L188.0 290.1L189.5 290.0L188.0 292.0L187.1 293.6L186.0 295.0L184.6 294.1L183.0 294.5L182.0 296.5L183.6 296.2L185.0 297.0L187.5 296.5L185.9 297.5L184.0 298.0L181.5 297.5M191.7 322.0L190.3 318.7L188.3 313.3L186.6 306.7L185.3 304.0L187.4 302.4L188.7 298.7M180.3 336.7L183.0 335.3L185.3 333.1L186.6 334.1L184.7 336.3L183.4 337.3L182.6 340.7" fill="none" stroke="#000" stroke-width="0.75" stroke-linejoin="round" clip-path="url(#fc)"/><rect x="28.50" y="28.50" width="313.50" height="312.00" fill="none" stroke="#000" stroke-width="0.75"/><text x="185.25" y="18.7" font-size="12" font-weight="bold" text-anchor="middle">(Model 1 - Model 2)/(Model 1)x100%: O3_MDA8</text><text x="185.25" y="379.50" font-size="12" text-anchor="middle">Min = -0.2 | Max = 13.9</text><text x="185.25" y="391.50" font-size="12" text-anchor="middle" style="white-space:pre">Mean: 3.2 |  Median: 3.4</text><rect x="390.60" y="44.10" width="8.00" height="281.40" fill="url(#gb)"/><rect x="390.60" y="44.10" width="8.00" height="281.40" fill="none" stroke="#000" stroke-width="0.75"/><path d="M398.60 47.36h6.2" stroke="#000" stroke-width="0.75"/><text transform="translate(410.8 51.40) scale(0.9 1)" font-size="11.2">100</text><path d="M398.60 74.91h6.2" stroke="#000" stroke-width="0.75"/><text transform="translate(410.8 78.95) scale(0.9 1)" font-size="11.2">90</text><path d="M398.60 102.46h6.2" stroke="#000" stroke-width="0.75"/><text transform="translate(410.8 106.50) scale(0.9 1)" font-size="11.2">80</text><path d="M398.60 130.01h6.2" stroke="#000" stroke-width="0.75"/><text transform="translate(410.8 134.05) scale(0.9 1)" font-size="11.2">70</text><path d="M398.60 157.56h6.2" stroke="#000" stroke-width="0.75"/><text transform="translate(410.8 161.60) scale(0.9 1)" font-size="11.2">60</text><path d="M398.60 185.11h6.2" stroke="#000" stroke-width="0.75"/><text transform="translate(410.8 189.15) scale(0.9 1)" font-size="11.2">50</text><path d="M398.60 212.66h6.2" stroke="#000" stroke-width="0.75"/><text transform="translate(410.8 216.70) scale(0.9 1)" font-size="11.2">40</text><path d="M398.60 240.21h6.2" stroke="#000" stroke-width="0.75"/><text transform="translate(410.8 244.25) scale(0.9 1)" font-size="11.2">30</text><path d="M398.60 267.76h6.2" stroke="#000" stroke-width="0.75"/><text transform="translate(410.8 271.80) scale(0.9 1)" font-size="11.2">20</text><path d="M398.60 295.31h6.2" stroke="#000" stroke-width="0.75"/><text transform="translate(410.8 299.35) scale(0.9 1)" font-size="11.2">10</text><path d="M398.60 322.86h6.2" stroke="#000" stroke-width="0.75"/><text transform="translate(410.8 326.90) scale(0.9 1)" font-size="11.2">0</text><text x="389.30" y="41.6" font-size="12">%</text></g>
</svg>
</body></html>
